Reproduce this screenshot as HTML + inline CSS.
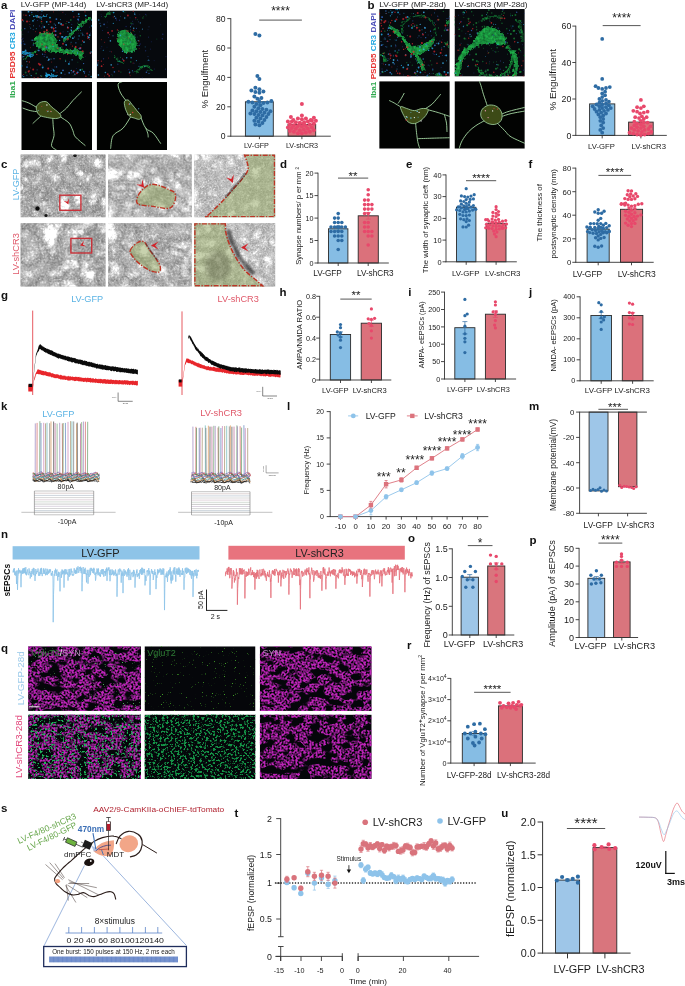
<!DOCTYPE html>
<html><head><meta charset="utf-8"><title>Figure</title>
<style>
html,body{margin:0;padding:0;background:#fff;}
svg{display:block;font-family:"Liberation Sans",sans-serif;}
</style></head><body>
<svg width="685" height="986" viewBox="0 0 685 986">
<defs>
<filter id="blur04" x="-0.05" y="-0.05" width="1.1" height="1.1"><feGaussianBlur stdDeviation="0.35"/></filter>
<filter id="blur06" x="-0.05" y="-0.05" width="1.1" height="1.1"><feGaussianBlur stdDeviation="0.6"/></filter>
<filter id="blur2" x="-0.3" y="-0.3" width="1.6" height="1.6"><feGaussianBlur stdDeviation="2.5"/></filter>
<filter id="blur1" x="-0.3" y="-0.3" width="1.6" height="1.6"><feGaussianBlur stdDeviation="1.1"/></filter>
<filter id="cellTex" x="-0.1" y="-0.1" width="1.2" height="1.2" color-interpolation-filters="sRGB">
<feTurbulence type="fractalNoise" baseFrequency="0.35" numOctaves="2" seed="3" result="n"/>
<feDisplacementMap in="SourceGraphic" in2="n" scale="5" xChannelSelector="R" yChannelSelector="G" result="d"/>
<feColorMatrix in="n" type="matrix" values="0 0 0 0 0  0 0 0 0 0  0 0 0 0 0  1.8 0 0 0 -0.35" result="m"/>
<feComposite in="d" in2="m" operator="in" result="t"/>
<feGaussianBlur in="d" stdDeviation="0.5" result="db"/>
<feComponentTransfer in="db" result="dim"><feFuncA type="linear" slope="0.55"/></feComponentTransfer>
<feMerge><feMergeNode in="dim"/><feMergeNode in="t"/></feMerge>
</filter><filter id="em1" x="0" y="0" width="1" height="1" color-interpolation-filters="sRGB">
<feTurbulence type="turbulence" baseFrequency="0.07" numOctaves="4" seed="5" result="a"/>
<feTurbulence type="fractalNoise" baseFrequency="0.55" numOctaves="2" seed="3" result="b"/>
<feComposite in="a" in2="b" operator="arithmetic" k1="0" k2="1.4" k3="0.55" k4="0.4" result="c"/>
<feColorMatrix in="c" type="matrix" values="1 0 0 0 0  1 0 0 0 0  1 0 0 0 0  0 0 0 0 1"/>
<feGaussianBlur stdDeviation="0.3"/></filter><filter id="em2" x="0" y="0" width="1" height="1" color-interpolation-filters="sRGB">
<feTurbulence type="turbulence" baseFrequency="0.05" numOctaves="4" seed="9" result="a"/>
<feTurbulence type="fractalNoise" baseFrequency="0.5" numOctaves="2" seed="4" result="b"/>
<feComposite in="a" in2="b" operator="arithmetic" k1="0" k2="1.7" k3="0.6" k4="0.38" result="c"/>
<feColorMatrix in="c" type="matrix" values="1 0 0 0 0  1 0 0 0 0  1 0 0 0 0  0 0 0 0 1"/>
<feGaussianBlur stdDeviation="0.3"/></filter><filter id="em3" x="0" y="0" width="1" height="1" color-interpolation-filters="sRGB">
<feTurbulence type="turbulence" baseFrequency="0.06" numOctaves="4" seed="14" result="a"/>
<feTurbulence type="fractalNoise" baseFrequency="0.5" numOctaves="2" seed="6" result="b"/>
<feComposite in="a" in2="b" operator="arithmetic" k1="0" k2="1.4" k3="0.5" k4="0.45" result="c"/>
<feColorMatrix in="c" type="matrix" values="1 0 0 0 0  1 0 0 0 0  1 0 0 0 0  0 0 0 0 1"/>
<feGaussianBlur stdDeviation="0.3"/></filter><filter id="em4" x="0" y="0" width="1" height="1" color-interpolation-filters="sRGB">
<feTurbulence type="turbulence" baseFrequency="0.05" numOctaves="4" seed="21" result="a"/>
<feTurbulence type="fractalNoise" baseFrequency="0.45" numOctaves="2" seed="7" result="b"/>
<feComposite in="a" in2="b" operator="arithmetic" k1="0" k2="1.6" k3="0.55" k4="0.42" result="c"/>
<feColorMatrix in="c" type="matrix" values="1 0 0 0 0  1 0 0 0 0  1 0 0 0 0  0 0 0 0 1"/>
<feGaussianBlur stdDeviation="0.3"/></filter><filter id="em5" x="0" y="0" width="1" height="1" color-interpolation-filters="sRGB">
<feTurbulence type="turbulence" baseFrequency="0.08" numOctaves="3" seed="33" result="a"/>
<feTurbulence type="fractalNoise" baseFrequency="0.6" numOctaves="2" seed="8" result="b"/>
<feComposite in="a" in2="b" operator="arithmetic" k1="0" k2="1.1" k3="0.5" k4="0.54" result="c"/>
<feColorMatrix in="c" type="matrix" values="1 0 0 0 0  1 0 0 0 0  1 0 0 0 0  0 0 0 0 1"/>
<feGaussianBlur stdDeviation="0.3"/></filter><filter id="em6" x="0" y="0" width="1" height="1" color-interpolation-filters="sRGB">
<feTurbulence type="turbulence" baseFrequency="0.08" numOctaves="3" seed="41" result="a"/>
<feTurbulence type="fractalNoise" baseFrequency="0.6" numOctaves="2" seed="9" result="b"/>
<feComposite in="a" in2="b" operator="arithmetic" k1="0" k2="1.2" k3="0.5" k4="0.52" result="c"/>
<feColorMatrix in="c" type="matrix" values="1 0 0 0 0  1 0 0 0 0  1 0 0 0 0  0 0 0 0 1"/>
<feGaussianBlur stdDeviation="0.3"/></filter><filter id="qm1" x="0" y="0" width="1" height="1" color-interpolation-filters="sRGB">
<feTurbulence type="fractalNoise" baseFrequency="0.08 0.13" numOctaves="2" seed="3" result="a"/>
<feColorMatrix in="a" type="matrix" values="0 0 0 0 0.74  0 0 0 0 0.14  0 0 0 0 0.72  9 0 0 0 -3.45" result="am"/>
<feTurbulence type="fractalNoise" baseFrequency="0.5" numOctaves="2" seed="7" result="b"/>
<feColorMatrix in="b" type="matrix" values="0 0 0 0 0.74  0 0 0 0 0.14  0 0 0 0 0.72  4.0 0 0 0 -1.4" result="bm"/>
<feComposite in="bm" in2="am" operator="in"/>
<feGaussianBlur stdDeviation="0.45"/>
</filter><filter id="qm2" x="0" y="0" width="1" height="1" color-interpolation-filters="sRGB">
<feTurbulence type="fractalNoise" baseFrequency="0.09 0.12" numOctaves="2" seed="11" result="a"/>
<feColorMatrix in="a" type="matrix" values="0 0 0 0 0.74  0 0 0 0 0.14  0 0 0 0 0.72  9 0 0 0 -3.45" result="am"/>
<feTurbulence type="fractalNoise" baseFrequency="0.5" numOctaves="2" seed="17" result="b"/>
<feColorMatrix in="b" type="matrix" values="0 0 0 0 0.74  0 0 0 0 0.14  0 0 0 0 0.72  4.0 0 0 0 -1.45" result="bm"/>
<feComposite in="bm" in2="am" operator="in"/>
<feGaussianBlur stdDeviation="0.45"/>
</filter><filter id="qg1" x="0" y="0" width="1" height="1" color-interpolation-filters="sRGB">
<feTurbulence type="fractalNoise" baseFrequency="0.9" numOctaves="2" seed="5" result="n"/>
<feColorMatrix in="n" type="matrix" values="0 0 0 0 0.25  0 0 0 0 0.62  0 0 0 0 0.15  9 0 0 0 -6.4"/>
<feGaussianBlur stdDeviation="0.4"/>
</filter><filter id="qg2" x="0" y="0" width="1" height="1" color-interpolation-filters="sRGB">
<feTurbulence type="fractalNoise" baseFrequency="0.45" numOctaves="3" seed="8" result="n"/>
<feColorMatrix in="n" type="matrix" values="0 0 0 0 0.08  0 0 0 0 0.58  0 0 0 0 0.28  8 0 0 0 -4.15"/>
<feGaussianBlur stdDeviation="0.4"/>
</filter><filter id="qg1b" x="0" y="0" width="1" height="1" color-interpolation-filters="sRGB">
<feTurbulence type="fractalNoise" baseFrequency="0.9" numOctaves="2" seed="5" result="n"/>
<feColorMatrix in="n" type="matrix" values="0 0 0 0 0.3  0 0 0 0 0.7  0 0 0 0 0.35  9 0 0 0 -6.4"/>
<feGaussianBlur stdDeviation="0.4"/>
</filter><filter id="qg2b" x="0" y="0" width="1" height="1" color-interpolation-filters="sRGB">
<feTurbulence type="fractalNoise" baseFrequency="0.45" numOctaves="3" seed="8" result="n"/>
<feColorMatrix in="n" type="matrix" values="0 0 0 0 0.12  0 0 0 0 0.7  0 0 0 0 0.35  9 0 0 0 -5.2"/>
<feGaussianBlur stdDeviation="0.4"/>
</filter>
</defs>
<rect x="0" y="0" width="685" height="986" fill="#fff"/>
<clipPath id="mc1"><rect x="21.3" y="10.4" width="70.7" height="68.0"/></clipPath>
<g clip-path="url(#mc1)">
<rect x="21.3" y="10.4" width="70.7" height="68.0" fill="#06090d" />
<g filter="url(#cellTex)">
<path d="M33.9,40.2 C34.5,37.9 37.5,34.5 40.2,33.2 C42.9,31.8 47.7,31.4 50.3,32.2 C52.8,32.9 54.6,35.6 55.8,37.7 C57.0,39.8 56.1,43.0 57.3,44.7 C58.5,46.5 62.3,46.9 62.8,48.2 C63.3,49.6 61.9,52.2 60.3,52.8 C58.7,53.4 56.0,52.2 53.3,51.8 C50.5,51.3 46.7,51.1 44.0,50.3 C41.2,49.4 38.6,48.4 36.9,46.7 C35.3,45.1 33.4,42.5 33.9,40.2Z" fill="#1FB44A"/>
<path d="M56.5,47.7 C58.0,48.4 62.4,50.8 65.3,51.5 C68.3,52.3 71.4,52.0 74.1,52.3 C76.8,52.6 80.4,53.1 81.7,53.3" stroke="#1FB44A" stroke-width="4.2" fill="none" stroke-linecap="round"/>
<path d="M75.4,50.3 C76.1,50.9 79.0,52.8 79.9,54.0 C80.8,55.2 80.7,56.7 80.9,57.3" stroke="#1FB44A" stroke-width="4" fill="none" stroke-linecap="round" opacity=".85"/>
<path d="M62.8,41.5 C64.5,40.0 69.9,35.4 72.9,32.7 C75.8,29.9 77.5,27.6 80.4,25.1 C83.3,22.6 88.8,18.8 90.5,17.6" stroke="#1FB44A" stroke-width="2.6" fill="none" opacity=".9"/>
<path d="M37.7,50.3 C36.4,51.1 32.5,53.8 30.2,55.3 C27.8,56.7 24.9,58.4 23.9,59.0" stroke="#1FB44A" stroke-width="1.6" fill="none" opacity=".7"/>
<path d="M21.4,52.3 C22.2,52.4 24.5,52.7 26.4,53.3 C28.3,53.9 31.6,55.4 32.7,55.8" stroke="#1FA6E0" stroke-width="3" fill="none"/>
<path d="M45.2,74.9 C46.3,75.0 49.4,75.1 51.5,75.4 C53.6,75.7 56.7,76.4 57.8,76.6" stroke="#1FA6E0" stroke-width="2.6" fill="none"/>
<path d="M35.2,15.6 C36.2,15.9 39.6,17.6 41.5,17.6 C43.3,17.6 45.6,15.9 46.5,15.6" stroke="#1FA6E0" stroke-width="1.8" fill="none" opacity=".8"/>
</g><g filter="url(#blur04)">
<path d="M30.5,68.0h0M77.0,16.4h0M51.7,62.1h0M87.7,36.1h0M75.0,75.1h0M57.0,72.3h0M62.8,12.4h0M60.1,22.4h0M40.1,64.5h0M43.2,33.5h0M29.9,24.5h0M47.8,33.7h0M84.9,11.2h0M78.6,48.5h0M51.5,28.2h0M30.6,47.7h0M61.5,25.3h0M53.5,29.0h0M21.9,55.9h0M42.8,26.9h0M27.3,61.5h0" stroke="#C8242C" stroke-width="0.80" stroke-linecap="round" fill="none" opacity="0.75"/>
<path d="M29.4,62.0h0M72.5,46.1h0M41.2,76.6h0M87.8,38.3h0M67.6,54.3h0M36.8,54.4h0M42.0,44.2h0M73.8,17.0h0" stroke="#C8242C" stroke-width="1.40" stroke-linecap="round" fill="none" opacity="0.75"/>
<path d="M39.9,64.8h0M60.3,33.6h0M80.5,48.1h0M75.7,46.9h0M53.6,28.4h0M48.2,68.6h0M55.2,34.9h0M28.7,71.5h0M22.3,20.0h0M33.2,69.4h0M27.0,21.6h0M46.9,30.2h0M68.0,27.7h0M38.5,16.9h0" stroke="#E0282E" stroke-width="2.00" stroke-linecap="round" fill="none" opacity="0.75"/>
<path d="M85.0,12.1h0M27.1,55.4h0M66.9,21.5h0M53.5,11.9h0M23.3,74.5h0M70.9,44.0h0M89.6,39.5h0M50.5,27.3h0M75.5,46.4h0M23.8,15.0h0M29.2,70.5h0M29.2,21.4h0M35.7,31.7h0M52.9,31.4h0" stroke="#E0282E" stroke-width="0.80" stroke-linecap="round" fill="none" opacity="0.75"/>
<path d="M34.2,77.9h0M58.0,36.9h0M57.8,48.4h0M82.6,41.0h0M41.6,21.5h0M52.6,44.6h0M26.0,15.2h0M47.1,33.3h0M45.2,52.1h0M38.0,77.6h0M60.1,58.7h0M85.9,76.3h0M87.8,36.7h0" stroke="#E0282E" stroke-width="1.40" stroke-linecap="round" fill="none" opacity="0.75"/>
<path d="M73.8,71.3h0M50.4,21.8h0M54.3,31.1h0M49.7,33.5h0M45.6,46.8h0M90.4,53.1h0M67.8,39.2h0M62.9,24.9h0M63.0,43.7h0M87.2,33.5h0M40.0,32.7h0M82.6,51.3h0M76.9,73.3h0M38.8,63.7h0M44.2,31.7h0" stroke="#C8242C" stroke-width="2.00" stroke-linecap="round" fill="none" opacity="0.75"/>
<path d="M88.9,74.8h0M30.7,28.2h0M51.0,59.0h0M26.9,75.3h0M70.1,36.4h0M71.1,42.3h0M67.9,31.6h0M38.1,16.8h0M22.4,56.9h0M26.4,61.6h0M48.8,24.5h0M80.4,30.3h0M72.8,51.5h0M36.3,28.7h0M34.2,19.6h0" stroke="#25A7E0" stroke-width="0.80" stroke-linecap="round" fill="none" opacity="0.85"/>
<path d="M27.0,67.1h0M80.0,48.5h0M55.7,35.1h0M55.7,31.1h0M38.8,50.4h0M63.0,70.3h0M69.2,72.8h0M77.7,72.3h0M49.7,78.1h0M46.6,47.5h0M78.1,19.4h0M21.2,43.2h0M56.4,19.1h0" stroke="#3575D0" stroke-width="1.80" stroke-linecap="round" fill="none" opacity="0.85"/>
<path d="M81.6,27.2h0M51.1,70.5h0M37.1,69.9h0M78.7,20.7h0M52.8,69.8h0M64.0,38.7h0M69.6,62.0h0M78.2,39.1h0M22.4,75.7h0M64.9,42.2h0M33.2,29.6h0M31.3,40.2h0M66.6,45.4h0M37.5,41.3h0M40.7,75.5h0" stroke="#3575D0" stroke-width="0.80" stroke-linecap="round" fill="none" opacity="0.85"/>
<path d="M23.5,56.6h0M33.3,44.9h0M73.1,72.0h0M56.6,66.9h0M55.5,25.2h0M75.9,42.8h0M83.6,63.6h0M25.2,54.7h0M31.8,12.5h0M73.5,71.7h0M21.4,11.7h0M29.6,15.5h0M55.7,27.7h0M48.2,60.4h0M24.8,28.7h0M54.0,58.7h0M24.8,44.2h0M42.6,54.2h0M84.5,73.0h0" stroke="#3575D0" stroke-width="1.30" stroke-linecap="round" fill="none" opacity="0.85"/>
<path d="M48.9,59.5h0M88.8,37.4h0M61.3,73.0h0M80.3,70.0h0M62.5,36.9h0M28.5,11.7h0M78.7,14.1h0M77.7,28.4h0M44.3,27.0h0M72.9,38.2h0M58.8,22.9h0M25.6,50.5h0M41.9,10.7h0M89.7,35.1h0M61.1,24.0h0M84.0,42.1h0" stroke="#3AA8E0" stroke-width="1.80" stroke-linecap="round" fill="none" opacity="0.85"/>
<path d="M59.6,40.4h0M46.1,77.1h0M72.8,11.4h0M91.6,25.9h0M53.2,46.6h0M61.6,36.8h0M71.1,29.9h0M79.1,16.6h0M91.8,20.0h0M23.7,76.6h0M91.1,76.3h0M33.6,16.5h0M53.6,70.0h0M91.1,52.0h0M77.6,53.0h0M79.1,35.9h0" stroke="#25A7E0" stroke-width="1.30" stroke-linecap="round" fill="none" opacity="0.85"/>
<path d="M82.8,34.9h0M68.9,22.4h0M67.5,27.1h0M83.7,71.5h0M65.6,61.1h0M31.2,75.6h0M71.4,27.6h0M33.9,16.4h0M47.0,57.2h0M72.1,59.8h0M71.3,70.5h0M74.9,74.2h0M71.5,30.7h0M43.6,15.3h0M32.8,40.2h0" stroke="#3AA8E0" stroke-width="1.30" stroke-linecap="round" fill="none" opacity="0.85"/>
<path d="M33.6,25.8h0M60.6,19.6h0M23.4,21.0h0M58.4,10.3h0M74.5,37.0h0M90.4,53.4h0M48.7,48.1h0M73.8,50.1h0M54.2,24.0h0" stroke="#3AA8E0" stroke-width="0.80" stroke-linecap="round" fill="none" opacity="0.85"/>
<path d="M64.7,37.8h0M21.6,65.8h0M46.7,21.8h0M66.1,44.8h0M50.0,17.6h0M42.7,67.5h0M53.9,70.8h0M33.0,20.8h0M85.7,15.6h0M51.8,27.4h0M68.9,63.9h0M66.0,36.8h0" stroke="#25A7E0" stroke-width="1.80" stroke-linecap="round" fill="none" opacity="0.85"/>
<path d="M37.9,47.2h0M71.7,73.0h0M23.5,43.9h0M76.3,68.5h0M84.7,35.8h0M52.1,27.7h0M25.3,52.9h0M89.4,27.2h0M41.7,64.3h0M45.6,38.5h0" stroke="#253080" stroke-width="1.00" stroke-linecap="round" fill="none" opacity="0.60"/>
<path d="M65.4,14.5h0M85.2,56.6h0M91.4,55.9h0M24.1,52.0h0M63.6,12.1h0M51.6,59.3h0M78.2,33.6h0M59.6,70.9h0M21.9,61.0h0" stroke="#253080" stroke-width="0.60" stroke-linecap="round" fill="none" opacity="0.60"/>
<path d="M39.4,26.0h0M37.5,20.4h0M79.5,28.4h0M71.7,24.4h0M41.2,14.3h0M65.0,74.3h0M21.8,38.4h0M69.2,34.1h0M43.2,35.3h0M44.9,54.5h0M54.9,66.9h0M23.3,41.2h0M38.0,11.4h0" stroke="#253080" stroke-width="1.40" stroke-linecap="round" fill="none" opacity="0.60"/>
<path d="M59.4,47.6h0M74.8,50.4h0M89.5,19.2h0M61.8,46.5h0M27.3,64.8h0M22.4,39.2h0M72.0,32.6h0M90.6,33.2h0M63.1,31.9h0M43.0,25.2h0M28.2,32.0h0" stroke="#2A3F9A" stroke-width="1.00" stroke-linecap="round" fill="none" opacity="0.60"/>
<path d="M73.6,55.9h0M91.9,31.2h0M73.4,11.5h0M42.3,35.8h0M52.1,68.5h0M40.2,63.8h0M23.5,38.3h0M29.5,26.7h0" stroke="#2A3F9A" stroke-width="0.60" stroke-linecap="round" fill="none" opacity="0.60"/>
<path d="M89.5,71.9h0M41.7,28.0h0M66.7,50.7h0M22.4,52.1h0M44.3,56.4h0M43.4,67.2h0M82.3,33.3h0M60.7,77.4h0M84.7,71.5h0" stroke="#2A3F9A" stroke-width="1.40" stroke-linecap="round" fill="none" opacity="0.60"/>
<path d="M37.8,17.1h0M32.0,14.5h0M77.8,23.2h0M65.5,60.1h0M81.0,33.1h0M81.2,44.8h0M24.3,52.8h0M66.0,23.6h0M80.6,58.4h0M29.7,73.9h0M41.8,23.1h0" stroke="#158A3A" stroke-width="1.30" stroke-linecap="round" fill="none" opacity="0.60"/>
<path d="M77.8,62.3h0M40.6,21.8h0M33.6,42.4h0M63.5,39.5h0M42.7,65.6h0M22.8,34.4h0M73.2,75.7h0" stroke="#158A3A" stroke-width="0.80" stroke-linecap="round" fill="none" opacity="0.60"/>
<path d="M36.2,73.4h0M21.5,30.0h0M70.8,19.9h0M25.7,72.5h0M40.6,34.3h0M41.5,76.1h0M82.2,69.5h0" stroke="#158A3A" stroke-width="1.80" stroke-linecap="round" fill="none" opacity="0.60"/>
</g>
</g>
<clipPath id="mc2"><rect x="96.7" y="10.4" width="70.3" height="68.0"/></clipPath>
<g clip-path="url(#mc2)">
<rect x="96.7" y="10.4" width="70.3" height="68.0" fill="#06090d" />
<g filter="url(#cellTex)">
<ellipse cx="126.9" cy="41.5" rx="9" ry="12.5" fill="#1FB44A" transform="rotate(-28 126.9 41.5)"/>
<path d="M135.7,72.9 C136.5,72.0 138.8,69.0 140.7,67.8 C142.6,66.7 145.3,65.4 147.0,65.8 C148.7,66.2 150.1,69.6 150.8,70.4" stroke="#18923E" stroke-width="2" fill="none" opacity=".8"/>
<path d="M104.3,18.8 C104.7,18.2 105.7,16.1 106.8,15.1 C107.8,14.0 109.9,13.0 110.6,12.6" stroke="#18923E" stroke-width="1.6" fill="none" opacity=".8"/>
<path d="M114.3,56.5 C114.9,57.2 116.6,59.3 118.1,60.3 C119.6,61.3 122.3,62.4 123.1,62.8" stroke="#18923E" stroke-width="1.4" fill="none" opacity=".7"/>
</g><g filter="url(#blur04)">
<path d="M123.7,60.7h0M109.2,75.8h0M108.1,32.7h0M101.6,66.2h0" stroke="#E0282E" stroke-width="1.80" stroke-linecap="round" fill="none" opacity="0.75"/>
<path d="M133.1,63.1h0M113.2,17.0h0M102.2,10.1h0M130.2,75.7h0M109.6,34.7h0M104.7,42.3h0M127.3,52.7h0M98.3,74.7h0M126.4,30.9h0M116.4,38.8h0M131.4,32.9h0M101.3,39.7h0" stroke="#E0282E" stroke-width="0.80" stroke-linecap="round" fill="none" opacity="0.75"/>
<path d="M135.7,17.7h0M113.0,67.5h0M127.9,31.2h0M133.3,30.2h0M117.4,29.9h0M123.8,44.2h0" stroke="#E0282E" stroke-width="1.30" stroke-linecap="round" fill="none" opacity="0.75"/>
<path d="M128.4,37.9h0M103.6,64.5h0M104.6,76.2h0M122.5,58.4h0M111.5,51.8h0M108.6,58.1h0M139.2,48.6h0" stroke="#C8242C" stroke-width="0.80" stroke-linecap="round" fill="none" opacity="0.75"/>
<path d="M112.1,30.9h0M107.8,74.2h0M127.9,15.5h0" stroke="#C8242C" stroke-width="1.80" stroke-linecap="round" fill="none" opacity="0.75"/>
<path d="M133.3,11.2h0M129.4,73.6h0M118.9,71.1h0M101.4,61.2h0M98.1,60.7h0M139.0,41.0h0" stroke="#C8242C" stroke-width="1.30" stroke-linecap="round" fill="none" opacity="0.75"/>
<path d="M139.0,66.2h0M114.6,16.4h0M144.8,66.6h0M130.5,26.8h0M113.0,35.8h0M132.4,70.8h0M139.1,45.3h0M122.9,59.3h0M100.7,25.9h0M134.8,13.1h0M140.3,22.9h0M138.2,40.6h0M134.7,14.4h0M142.4,29.1h0M136.4,60.6h0" stroke="#3AA0D8" stroke-width="1.10" stroke-linecap="round" fill="none" opacity="0.80"/>
<path d="M98.7,20.0h0M111.2,64.9h0M126.7,57.8h0M124.7,18.0h0M110.4,40.9h0M122.6,51.2h0M105.4,72.5h0M133.7,28.2h0M97.5,65.1h0M129.6,72.3h0" stroke="#3AA0D8" stroke-width="1.60" stroke-linecap="round" fill="none" opacity="0.80"/>
<path d="M148.2,60.3h0M113.3,23.4h0M119.2,61.0h0M103.3,50.3h0" stroke="#25A7E0" stroke-width="1.10" stroke-linecap="round" fill="none" opacity="0.80"/>
<path d="M145.2,46.9h0M103.5,78.4h0M134.3,38.0h0M126.5,52.7h0M126.1,52.2h0" stroke="#25A7E0" stroke-width="0.60" stroke-linecap="round" fill="none" opacity="0.80"/>
<path d="M132.0,51.7h0M148.7,59.9h0" stroke="#3AA0D8" stroke-width="0.60" stroke-linecap="round" fill="none" opacity="0.80"/>
<path d="M120.4,16.4h0M130.5,29.9h0M97.4,63.2h0M149.0,26.8h0M138.5,21.8h0M98.3,62.9h0M148.0,56.6h0M135.3,14.7h0M111.9,74.3h0M110.0,51.4h0" stroke="#3565C0" stroke-width="0.60" stroke-linecap="round" fill="none" opacity="0.80"/>
<path d="M146.4,72.2h0M115.7,18.2h0M104.1,24.4h0M114.4,71.9h0" stroke="#3565C0" stroke-width="1.60" stroke-linecap="round" fill="none" opacity="0.80"/>
<path d="M131.1,57.7h0M113.7,12.6h0M123.3,11.4h0M120.4,35.4h0M98.4,75.1h0" stroke="#25A7E0" stroke-width="1.60" stroke-linecap="round" fill="none" opacity="0.80"/>
<path d="M136.5,28.2h0M149.0,73.4h0M130.5,42.0h0M135.0,34.8h0M100.0,23.2h0" stroke="#3565C0" stroke-width="1.10" stroke-linecap="round" fill="none" opacity="0.80"/>
<path d="M119.5,20.3h0M134.7,49.1h0M103.5,58.7h0M117.8,64.3h0M162.3,38.8h0M162.8,34.3h0" stroke="#2A3F9A" stroke-width="1.40" stroke-linecap="round" fill="none" opacity="0.60"/>
<path d="M101.8,46.7h0M135.8,19.1h0M132.7,21.3h0M147.1,70.7h0M131.4,24.9h0M148.6,37.2h0M108.4,37.5h0M166.0,56.7h0M149.4,60.6h0M133.1,72.1h0M134.1,63.3h0" stroke="#2A3F9A" stroke-width="1.00" stroke-linecap="round" fill="none" opacity="0.60"/>
<path d="M160.7,24.7h0M103.9,49.1h0M97.5,66.8h0M101.1,14.6h0M96.7,20.3h0M139.8,14.8h0M107.0,47.2h0" stroke="#253080" stroke-width="0.60" stroke-linecap="round" fill="none" opacity="0.60"/>
<path d="M126.1,26.5h0M140.2,44.0h0M145.6,50.7h0M145.7,14.4h0M116.5,20.0h0M128.8,69.6h0M133.0,24.0h0M165.5,69.1h0" stroke="#253080" stroke-width="1.40" stroke-linecap="round" fill="none" opacity="0.60"/>
<path d="M100.9,48.7h0M137.3,37.1h0M148.0,29.7h0M107.3,22.1h0M139.6,31.8h0M108.1,33.3h0M130.5,31.3h0M139.8,63.9h0M154.2,60.6h0" stroke="#2A3F9A" stroke-width="0.60" stroke-linecap="round" fill="none" opacity="0.60"/>
<path d="M151.3,41.8h0M102.5,30.5h0M150.4,49.2h0M101.5,16.4h0M142.2,77.9h0M154.3,69.1h0M124.7,37.0h0M107.1,27.3h0M130.0,17.9h0" stroke="#253080" stroke-width="1.00" stroke-linecap="round" fill="none" opacity="0.60"/>
<path d="M112.6,75.8h0M146.2,15.8h0M143.3,16.6h0M137.6,19.7h0M156.8,39.1h0M132.1,23.5h0M133.9,44.9h0" stroke="#158A3A" stroke-width="0.80" stroke-linecap="round" fill="none" opacity="0.60"/>
<path d="M124.9,12.1h0M124.2,49.2h0M133.3,42.4h0M120.5,57.3h0M147.9,70.3h0M134.1,31.5h0M120.9,72.1h0M112.2,12.3h0M117.7,58.2h0" stroke="#158A3A" stroke-width="1.20" stroke-linecap="round" fill="none" opacity="0.60"/>
<path d="M130.8,61.9h0M140.3,35.8h0M131.1,23.3h0M142.9,18.0h0" stroke="#158A3A" stroke-width="1.60" stroke-linecap="round" fill="none" opacity="0.60"/>
</g>
</g>
<clipPath id="mc3"><rect x="21.3" y="82.0" width="70.7" height="68.0"/></clipPath>
<g clip-path="url(#mc3)">
<rect x="21.3" y="82.0" width="70.7" height="68.0" fill="#020302" />
<path d="M37.7,108.0 C36.2,107.2 31.6,104.3 28.9,103.0 C26.2,101.8 22.6,100.9 21.4,100.5" stroke="#A6D8A4" stroke-width="0.9" fill="none"/>
<path d="M37.7,111.8 C36.4,111.6 32.7,111.2 30.2,110.6 C27.6,109.9 23.9,108.5 22.6,108.0" stroke="#A6D8A4" stroke-width="0.9" fill="none"/>
<path d="M41.5,115.6 C40.6,116.3 37.9,118.8 36.4,120.1 C35.0,121.4 33.3,123.0 32.7,123.6" stroke="#A6D8A4" stroke-width="0.9" fill="none"/>
<path d="M59.0,114.3 C60.3,113.3 64.3,110.3 66.6,108.0 C68.9,105.7 70.4,103.2 72.9,100.5 C75.4,97.8 80.2,93.2 81.7,91.7" stroke="#A6D8A4" stroke-width="0.9" fill="none"/>
<path d="M60.3,116.8 C61.8,117.9 67.0,120.8 69.1,123.1 C71.2,125.4 71.8,128.4 72.9,130.7 C73.9,133.0 73.3,134.4 75.4,136.9 C77.5,139.4 83.8,144.3 85.4,145.7" stroke="#A6D8A4" stroke-width="0.9" fill="none"/>
<path d="M52.8,118.1 C52.8,119.6 53.1,124.0 53.3,126.9 C53.5,129.8 54.3,132.5 54.0,135.7 C53.7,138.8 51.1,143.3 51.5,145.7 C51.9,148.1 55.7,149.3 56.5,150.0" stroke="#A6D8A4" stroke-width="0.9" fill="none"/>
<path d="M36.4,106.8 C36.9,105.2 38.5,103.4 40.2,102.5 C41.9,101.7 44.6,101.0 46.5,101.8 C48.4,102.5 49.4,104.9 51.5,106.8 C53.6,108.7 57.5,111.4 59.0,113.1 C60.6,114.7 61.4,115.9 60.8,116.8 C60.2,117.8 57.5,118.5 55.3,118.6 C53.1,118.7 50.3,118.1 47.7,117.6 C45.2,117.1 42.0,116.5 40.2,115.6 C38.4,114.6 37.8,113.3 37.2,111.8 C36.6,110.3 35.9,108.3 36.4,106.8Z" fill="#3C4A16" stroke="#A6D8A4" stroke-width="0.8"/>
<path d="M47.0,110.8h0M50.7,111.3h0" stroke="#E03A3A" stroke-width="1.10" stroke-linecap="round" fill="none" opacity="0.95"/>
<path d="M48.2,111.2h0M51.1,111.6h0" stroke="#F0F0F0" stroke-width="0.80" stroke-linecap="round" fill="none" opacity="0.95"/>
<path d="M47.5,111.6h0M38.3,110.4h0" stroke="#6CC6F0" stroke-width="0.80" stroke-linecap="round" fill="none" opacity="0.95"/>
<path d="M46.9,105.0h0" stroke="#F0F0F0" stroke-width="1.40" stroke-linecap="round" fill="none" opacity="0.95"/>
<path d="M41.8,106.4h0" stroke="#E03A3A" stroke-width="0.80" stroke-linecap="round" fill="none" opacity="0.95"/>
</g>
<clipPath id="mc4"><rect x="96.7" y="82.0" width="70.3" height="68.0"/></clipPath>
<g clip-path="url(#mc4)">
<rect x="96.7" y="82.0" width="70.3" height="68.0" fill="#020302" />
<path d="M126.9,101.8 C125.8,100.3 122.1,95.9 120.6,93.0 C119.1,90.0 117.8,86.1 118.1,84.2 C118.4,82.3 121.6,82.1 122.4,81.7" stroke="#A6D8A4" stroke-width="0.9" fill="none"/>
<path d="M130.7,116.8 C129.4,118.7 126.0,125.0 123.1,128.1 C120.2,131.3 115.2,132.2 113.1,135.7 C111.0,139.1 111.0,146.6 110.6,148.7" stroke="#A6D8A4" stroke-width="0.9" fill="none"/>
<path d="M140.7,116.8 C141.5,118.7 143.6,125.4 145.7,128.1 C147.8,130.9 150.8,130.6 153.3,133.2 C155.8,135.8 159.5,142.0 160.8,143.7" stroke="#A6D8A4" stroke-width="0.9" fill="none"/>
<path d="M145.7,128.1 C146.1,129.0 147.3,131.6 147.7,133.2 C148.2,134.7 148.2,136.7 148.2,137.4" stroke="#A6D8A4" stroke-width="0.9" fill="none"/>
<path d="M124.4,101.8 C124.8,100.2 126.9,99.6 128.1,100.0 C129.4,100.4 130.4,102.5 131.9,104.3 C133.4,106.0 135.4,108.6 136.9,110.6 C138.5,112.5 140.8,114.6 141.2,116.1 C141.6,117.5 140.6,119.0 139.4,119.3 C138.3,119.7 136.1,118.6 134.4,118.1 C132.7,117.5 130.9,117.5 129.4,116.1 C127.9,114.6 126.5,111.7 125.6,109.3 C124.8,106.9 124.0,103.3 124.4,101.8Z" fill="#3C4A16" stroke="#A6D8A4" stroke-width="0.8"/>
<path d="M132.7,112.5h0" stroke="#E03A3A" stroke-width="1.40" stroke-linecap="round" fill="none" opacity="0.95"/>
<path d="M128.7,104.1h0" stroke="#E03A3A" stroke-width="1.10" stroke-linecap="round" fill="none" opacity="0.95"/>
<path d="M130.3,114.5h0" stroke="#F0F0F0" stroke-width="1.40" stroke-linecap="round" fill="none" opacity="0.95"/>
<path d="M129.7,104.0h0" stroke="#6CC6F0" stroke-width="1.40" stroke-linecap="round" fill="none" opacity="0.95"/>
<path d="M138.7,108.8h0" stroke="#6CC6F0" stroke-width="1.10" stroke-linecap="round" fill="none" opacity="0.95"/>
<path d="M127.7,114.6h0" stroke="#F0F0F0" stroke-width="0.80" stroke-linecap="round" fill="none" opacity="0.95"/>
</g>
<text x="20.8" y="7.4" font-size="8" text-anchor="start" fill="#1a1a1a" textLength="65.5" lengthAdjust="spacingAndGlyphs" >LV-GFP (MP-14d)</text>
<text x="96.2" y="7.4" font-size="8" text-anchor="start" fill="#1a1a1a" textLength="72.0" lengthAdjust="spacingAndGlyphs" >LV-shCR3 (MP-14d)</text>
<text x="1.0" y="9.0" font-size="11.5" text-anchor="start" fill="#111" font-weight="bold" >a</text>
<text x="15.4" y="98.0" font-size="7.7" text-anchor="start" fill="#1a1a1a" font-weight="bold" transform="rotate(-90 15.4 98.0)" textLength="88.5" lengthAdjust="spacingAndGlyphs" ><tspan fill="#2DA84C">Iba1</tspan> <tspan fill="#E6302E">PSD95</tspan> <tspan fill="#22A7E0">CR3</tspan> <tspan fill="#4A4DB8">DAPI</tspan></text>
<rect x="245.4" y="101.8" width="27.9" height="34.4" fill="#86BDE4" stroke="#2a2a2a" stroke-width="0.9" />
<rect x="288.0" y="124.4" width="27.7" height="11.8" fill="#DB717B" stroke="#2a2a2a" stroke-width="0.9" />
<line x1="230.8" y1="18.2" x2="230.8" y2="136.6" stroke="#333" stroke-width="0.9" />
<line x1="230.4" y1="136.2" x2="330.8" y2="136.2" stroke="#333" stroke-width="0.9" />
<line x1="227.3" y1="136.2" x2="230.8" y2="136.2" stroke="#333" stroke-width="0.9" />
<text x="225.6" y="139.3" font-size="8.6" text-anchor="end" fill="#1a1a1a" >0</text>
<line x1="227.3" y1="106.8" x2="230.8" y2="106.8" stroke="#333" stroke-width="0.9" />
<text x="225.6" y="109.9" font-size="8.6" text-anchor="end" fill="#1a1a1a" >20</text>
<line x1="227.3" y1="77.4" x2="230.8" y2="77.4" stroke="#333" stroke-width="0.9" />
<text x="225.6" y="80.5" font-size="8.6" text-anchor="end" fill="#1a1a1a" >40</text>
<line x1="227.3" y1="48.0" x2="230.8" y2="48.0" stroke="#333" stroke-width="0.9" />
<text x="225.6" y="51.1" font-size="8.6" text-anchor="end" fill="#1a1a1a" >60</text>
<line x1="227.3" y1="18.6" x2="230.8" y2="18.6" stroke="#333" stroke-width="0.9" />
<text x="225.6" y="21.7" font-size="8.6" text-anchor="end" fill="#1a1a1a" >80</text>
<line x1="259.4" y1="136.2" x2="259.4" y2="139.2" stroke="#333" stroke-width="0.9" />
<line x1="259.4" y1="98.9" x2="259.4" y2="104.7" stroke="#2E6CA4" stroke-width="0.7" />
<line x1="256.9" y1="98.9" x2="261.9" y2="98.9" stroke="#2E6CA4" stroke-width="0.7" />
<line x1="256.9" y1="104.7" x2="261.9" y2="104.7" stroke="#2E6CA4" stroke-width="0.7" />
<circle cx="259.4" cy="125.2" r="2.0" fill="#2E6CA4" />
<circle cx="255.4" cy="124.4" r="2.0" fill="#2E6CA4" />
<circle cx="262.4" cy="123.0" r="2.0" fill="#2E6CA4" />
<circle cx="258.4" cy="121.5" r="2.0" fill="#2E6CA4" />
<circle cx="254.4" cy="120.8" r="2.0" fill="#2E6CA4" />
<circle cx="264.4" cy="120.0" r="2.0" fill="#2E6CA4" />
<circle cx="260.4" cy="118.6" r="2.0" fill="#2E6CA4" />
<circle cx="256.4" cy="117.8" r="2.0" fill="#2E6CA4" />
<circle cx="266.4" cy="117.1" r="2.0" fill="#2E6CA4" />
<circle cx="262.4" cy="115.6" r="2.0" fill="#2E6CA4" />
<circle cx="258.4" cy="114.9" r="2.0" fill="#2E6CA4" />
<circle cx="254.4" cy="114.1" r="2.0" fill="#2E6CA4" />
<circle cx="268.4" cy="114.1" r="2.0" fill="#2E6CA4" />
<circle cx="250.4" cy="113.4" r="2.0" fill="#2E6CA4" />
<circle cx="264.4" cy="112.7" r="2.0" fill="#2E6CA4" />
<circle cx="260.4" cy="111.9" r="2.0" fill="#2E6CA4" />
<circle cx="256.4" cy="111.2" r="2.0" fill="#2E6CA4" />
<circle cx="270.4" cy="111.2" r="2.0" fill="#2E6CA4" />
<circle cx="252.4" cy="110.5" r="2.0" fill="#2E6CA4" />
<circle cx="266.4" cy="109.7" r="2.0" fill="#2E6CA4" />
<circle cx="262.4" cy="109.0" r="2.0" fill="#2E6CA4" />
<circle cx="258.4" cy="108.3" r="2.0" fill="#2E6CA4" />
<circle cx="254.4" cy="106.8" r="2.0" fill="#2E6CA4" />
<circle cx="260.4" cy="105.3" r="2.0" fill="#2E6CA4" />
<circle cx="256.4" cy="103.9" r="2.0" fill="#2E6CA4" />
<circle cx="263.4" cy="103.1" r="2.0" fill="#2E6CA4" />
<circle cx="252.4" cy="102.4" r="2.0" fill="#2E6CA4" />
<circle cx="267.4" cy="102.4" r="2.0" fill="#2E6CA4" />
<circle cx="259.4" cy="101.7" r="2.0" fill="#2E6CA4" />
<circle cx="248.4" cy="101.7" r="2.0" fill="#2E6CA4" />
<circle cx="271.4" cy="100.9" r="2.0" fill="#2E6CA4" />
<circle cx="257.4" cy="98.7" r="2.0" fill="#2E6CA4" />
<circle cx="261.4" cy="98.0" r="2.0" fill="#2E6CA4" />
<circle cx="254.4" cy="96.5" r="2.0" fill="#2E6CA4" />
<circle cx="259.4" cy="92.8" r="2.0" fill="#2E6CA4" />
<circle cx="255.4" cy="92.1" r="2.0" fill="#2E6CA4" />
<circle cx="263.4" cy="91.4" r="2.0" fill="#2E6CA4" />
<circle cx="251.4" cy="90.6" r="2.0" fill="#2E6CA4" />
<circle cx="259.4" cy="89.2" r="2.0" fill="#2E6CA4" />
<circle cx="255.4" cy="87.7" r="2.0" fill="#2E6CA4" />
<circle cx="259.4" cy="78.9" r="2.0" fill="#2E6CA4" />
<circle cx="257.4" cy="75.9" r="2.0" fill="#2E6CA4" />
<circle cx="259.4" cy="35.5" r="2.0" fill="#2E6CA4" />
<circle cx="255.4" cy="34.0" r="2.0" fill="#2E6CA4" />
<line x1="301.9" y1="136.2" x2="301.9" y2="139.2" stroke="#333" stroke-width="0.9" />
<line x1="301.9" y1="123.5" x2="301.9" y2="125.4" stroke="#E8486B" stroke-width="0.7" />
<line x1="299.4" y1="123.5" x2="304.4" y2="123.5" stroke="#E8486B" stroke-width="0.7" />
<line x1="299.4" y1="125.4" x2="304.4" y2="125.4" stroke="#E8486B" stroke-width="0.7" />
<circle cx="301.9" cy="133.3" r="2.0" fill="#E8486B" />
<circle cx="297.9" cy="133.3" r="2.0" fill="#E8486B" />
<circle cx="305.9" cy="132.5" r="2.0" fill="#E8486B" />
<circle cx="293.9" cy="131.8" r="2.0" fill="#E8486B" />
<circle cx="309.9" cy="131.8" r="2.0" fill="#E8486B" />
<circle cx="289.9" cy="131.1" r="2.0" fill="#E8486B" />
<circle cx="299.9" cy="130.3" r="2.0" fill="#E8486B" />
<circle cx="313.9" cy="130.3" r="2.0" fill="#E8486B" />
<circle cx="303.9" cy="129.6" r="2.0" fill="#E8486B" />
<circle cx="295.9" cy="128.8" r="2.0" fill="#E8486B" />
<circle cx="307.9" cy="128.8" r="2.0" fill="#E8486B" />
<circle cx="291.9" cy="128.1" r="2.0" fill="#E8486B" />
<circle cx="311.9" cy="127.4" r="2.0" fill="#E8486B" />
<circle cx="287.9" cy="127.4" r="2.0" fill="#E8486B" />
<circle cx="301.9" cy="126.6" r="2.0" fill="#E8486B" />
<circle cx="297.9" cy="125.9" r="2.0" fill="#E8486B" />
<circle cx="305.9" cy="125.9" r="2.0" fill="#E8486B" />
<circle cx="293.9" cy="125.2" r="2.0" fill="#E8486B" />
<circle cx="309.9" cy="124.4" r="2.0" fill="#E8486B" />
<circle cx="289.9" cy="124.4" r="2.0" fill="#E8486B" />
<circle cx="313.9" cy="123.7" r="2.0" fill="#E8486B" />
<circle cx="303.9" cy="123.7" r="2.0" fill="#E8486B" />
<circle cx="299.9" cy="123.0" r="2.0" fill="#E8486B" />
<circle cx="299.8" cy="123.0" r="2.0" fill="#E8486B" />
<circle cx="295.9" cy="122.2" r="2.0" fill="#E8486B" />
<circle cx="304.1" cy="122.2" r="2.0" fill="#E8486B" />
<circle cx="307.9" cy="121.5" r="2.0" fill="#E8486B" />
<circle cx="291.9" cy="121.5" r="2.0" fill="#E8486B" />
<circle cx="287.9" cy="121.5" r="2.0" fill="#E8486B" />
<circle cx="311.9" cy="120.8" r="2.0" fill="#E8486B" />
<circle cx="315.9" cy="120.8" r="2.0" fill="#E8486B" />
<circle cx="293.4" cy="120.0" r="2.0" fill="#E8486B" />
<circle cx="310.8" cy="120.0" r="2.0" fill="#E8486B" />
<circle cx="301.9" cy="119.3" r="2.0" fill="#E8486B" />
<circle cx="305.9" cy="118.6" r="2.0" fill="#E8486B" />
<circle cx="297.9" cy="118.6" r="2.0" fill="#E8486B" />
<circle cx="313.9" cy="117.8" r="2.0" fill="#E8486B" />
<circle cx="290.9" cy="117.1" r="2.0" fill="#E8486B" />
<circle cx="301.9" cy="115.6" r="2.0" fill="#E8486B" />
<circle cx="301.9" cy="103.9" r="2.0" fill="#E8486B" />
<line x1="259.2" y1="20.1" x2="301.9" y2="20.1" stroke="#444" stroke-width="0.9" />
<text x="280.5" y="14.6" font-size="12" text-anchor="middle" fill="#222" >****</text>
<text x="256.4" y="148.2" font-size="7.2" text-anchor="middle" fill="#1a1a1a" >LV-GFP</text>
<text x="302.0" y="148.2" font-size="7.2" text-anchor="middle" fill="#1a1a1a" >LV-shCR3</text>
<text x="208.0" y="79.0" font-size="9.4" text-anchor="middle" fill="#1a1a1a" transform="rotate(-90 208.0 79.0)" >% Engulfment</text>
<clipPath id="mc5"><rect x="379.2" y="9.0" width="70.6" height="67.6"/></clipPath>
<g clip-path="url(#mc5)">
<rect x="379.2" y="9.0" width="70.6" height="67.6" fill="#070a0e" />
<g filter="url(#cellTex)">
<path d="M406.4,43.1 C407.4,42.3 411.4,45.8 414.1,45.9 C416.8,46.1 420.1,45.2 422.9,44.2 C425.6,43.2 428.4,40.9 430.5,39.8 C432.6,38.7 434.8,37.1 435.3,37.6 C435.9,38.2 435.1,41.1 433.8,43.1 C432.4,45.1 429.4,47.8 427.2,49.7 C425.0,51.5 422.9,53.2 420.7,54.0 C418.5,54.9 416.1,55.2 414.1,54.7 C412.1,54.2 409.9,52.7 408.6,50.8 C407.4,48.8 405.5,43.9 406.4,43.1Z" fill="#1FB44A"/>
<path d="M390.0,27.1 C391.1,27.9 394.4,29.6 396.6,31.5 C398.8,33.4 401.2,36.4 403.2,38.7 C405.2,41.0 407.7,44.2 408.6,45.3" stroke="#1FB44A" stroke-width="3" fill="none" stroke-linecap="round"/>
<path d="M416.3,54.0 C416.7,55.0 417.6,57.8 418.5,59.5 C419.4,61.2 421.0,62.7 421.8,64.3 C422.5,66.0 422.7,68.5 422.9,69.4" stroke="#1FB44A" stroke-width="3.2" fill="none" stroke-linecap="round"/>
<path d="M401.6,32.8 C402.0,31.3 402.3,26.0 403.8,23.4 C405.4,20.9 407.8,18.8 410.8,17.5 C413.8,16.2 418.3,15.1 421.8,15.8 C425.2,16.4 429.3,18.9 431.6,21.2 C433.9,23.6 434.7,27.3 435.3,30.0 C436.0,32.6 435.3,36.0 435.3,37.2" stroke="#168C3A" stroke-width="1.3" fill="none" opacity=".7"/>
<path d="M379.8,54.0 C380.4,54.4 382.5,55.0 383.5,56.2 C384.5,57.5 385.3,60.8 385.7,61.7" stroke="#17A040" stroke-width="2.4" fill="none" opacity=".8"/>
<path d="M447.6,20.1 C447.7,20.9 448.3,23.8 448.5,24.5" stroke="#17A040" stroke-width="2.4" fill="none" opacity=".8"/>
<path d="M446.3,42.0 C446.6,42.9 448.1,46.6 448.5,47.5" stroke="#17A040" stroke-width="2" fill="none" opacity=".7"/>
<path d="M432.7,73.7 C433.8,73.9 437.1,74.4 439.3,74.8 C441.5,75.3 444.7,76.3 445.8,76.6" stroke="#17A040" stroke-width="2" fill="none" opacity=".7"/>
</g><g filter="url(#blur04)">
<path d="M390.7,55.6h0M403.2,18.9h0M399.7,73.5h0M438.2,19.7h0M410.2,36.5h0M447.1,44.5h0M425.5,17.6h0M396.4,19.6h0M417.7,13.1h0M440.6,53.1h0M414.9,73.0h0M434.3,51.4h0M385.4,20.9h0M423.0,34.4h0M395.9,55.5h0" stroke="#C8242C" stroke-width="2.00" stroke-linecap="round" fill="none" opacity="0.75"/>
<path d="M413.0,23.6h0M381.4,31.2h0M389.7,54.0h0M387.7,41.2h0M401.6,41.7h0M403.6,49.4h0M441.7,42.2h0M381.5,25.8h0M432.0,41.4h0M381.0,23.3h0M420.3,66.4h0M435.1,9.5h0M397.0,56.1h0M437.0,63.3h0M383.6,53.5h0M412.4,43.7h0M395.0,12.3h0M381.7,20.7h0M390.5,22.7h0" stroke="#E0282E" stroke-width="1.40" stroke-linecap="round" fill="none" opacity="0.75"/>
<path d="M414.9,25.0h0M405.3,48.6h0M435.4,24.7h0M425.1,72.4h0M440.8,52.6h0M397.3,36.4h0M389.1,35.8h0M424.6,62.1h0M391.9,67.0h0" stroke="#E0282E" stroke-width="0.80" stroke-linecap="round" fill="none" opacity="0.75"/>
<path d="M410.0,76.3h0M390.4,58.2h0M391.8,20.5h0M383.1,28.5h0M441.6,49.7h0M396.5,56.6h0M411.4,25.0h0M396.4,71.0h0M397.5,73.3h0M390.2,35.5h0" stroke="#C8242C" stroke-width="1.40" stroke-linecap="round" fill="none" opacity="0.75"/>
<path d="M431.6,15.0h0M386.3,13.4h0M397.8,31.0h0M383.5,64.1h0M448.8,76.0h0" stroke="#C8242C" stroke-width="0.80" stroke-linecap="round" fill="none" opacity="0.75"/>
<path d="M384.3,22.3h0M379.2,13.7h0M419.6,30.5h0M405.6,55.2h0M407.9,75.9h0M445.5,25.6h0M416.9,27.7h0M406.1,17.5h0M407.1,69.0h0M421.9,43.1h0M407.3,47.3h0M447.7,30.0h0M413.6,51.7h0M422.6,64.8h0M393.6,31.7h0M446.1,74.4h0M411.7,54.0h0" stroke="#E0282E" stroke-width="2.00" stroke-linecap="round" fill="none" opacity="0.75"/>
<path d="M447.0,18.5h0M449.9,21.5h0M441.7,48.0h0M434.5,12.9h0M439.9,41.2h0M429.7,73.5h0M397.4,17.1h0M388.9,36.3h0M387.0,41.5h0M387.9,60.5h0M388.1,58.8h0M412.8,20.9h0M422.6,33.6h0" stroke="#3575D0" stroke-width="0.80" stroke-linecap="round" fill="none" opacity="0.85"/>
<path d="M425.3,32.4h0M397.7,37.5h0M393.3,55.9h0M403.9,13.3h0M428.9,50.1h0M382.9,44.5h0M416.4,60.9h0M427.2,9.2h0M388.9,12.3h0M399.3,9.7h0M390.0,39.6h0M434.2,23.1h0M422.0,29.8h0M446.6,60.8h0M390.8,10.3h0" stroke="#25A7E0" stroke-width="0.80" stroke-linecap="round" fill="none" opacity="0.85"/>
<path d="M398.1,12.4h0M420.4,72.4h0M392.1,12.3h0M432.4,48.3h0M407.6,16.9h0M381.7,34.5h0M444.5,71.9h0M403.3,67.4h0M426.3,44.6h0M418.6,67.5h0M446.3,55.4h0M447.9,72.7h0M412.0,27.9h0M395.2,21.1h0" stroke="#25A7E0" stroke-width="1.80" stroke-linecap="round" fill="none" opacity="0.85"/>
<path d="M445.2,55.3h0M408.8,26.0h0M394.3,63.9h0M414.8,72.4h0M385.6,64.6h0M419.0,62.5h0M410.9,57.4h0M424.7,27.3h0M414.6,26.2h0M430.5,31.2h0M385.9,11.0h0M425.7,37.7h0M397.5,60.2h0M398.9,50.1h0" stroke="#3575D0" stroke-width="1.30" stroke-linecap="round" fill="none" opacity="0.85"/>
<path d="M428.6,50.4h0M432.8,69.8h0M396.0,9.5h0M391.2,46.0h0M391.7,74.0h0M381.1,19.7h0M439.1,56.3h0M385.1,71.3h0M387.0,70.3h0M395.1,51.0h0M436.4,54.3h0M396.1,40.1h0M390.4,15.8h0M439.7,74.6h0M419.4,50.5h0M450.0,16.4h0M401.4,65.3h0" stroke="#25A7E0" stroke-width="1.30" stroke-linecap="round" fill="none" opacity="0.85"/>
<path d="M446.9,30.1h0M389.1,64.8h0M381.6,45.2h0M382.1,17.1h0M388.6,28.2h0M439.1,73.5h0M434.9,45.3h0M382.3,71.7h0M388.2,34.2h0M390.2,72.6h0" stroke="#3575D0" stroke-width="1.80" stroke-linecap="round" fill="none" opacity="0.85"/>
<path d="M441.6,35.9h0M419.0,35.9h0M385.4,39.0h0M402.3,33.1h0M391.6,14.2h0M413.6,13.6h0M397.0,69.1h0M395.6,45.1h0M392.4,27.8h0M437.0,74.8h0M407.8,68.1h0M386.0,13.5h0M387.4,30.3h0M405.8,54.6h0M436.3,43.4h0M384.2,39.0h0M381.0,41.5h0M386.8,47.0h0" stroke="#3AA8E0" stroke-width="0.80" stroke-linecap="round" fill="none" opacity="0.85"/>
<path d="M419.9,46.9h0M408.2,65.0h0M423.7,49.3h0M427.2,76.1h0M393.6,60.0h0M425.0,27.9h0M438.5,43.5h0M443.0,63.1h0M423.8,12.3h0M393.1,62.6h0M411.0,56.1h0M417.4,71.4h0" stroke="#3AA8E0" stroke-width="1.80" stroke-linecap="round" fill="none" opacity="0.85"/>
<path d="M382.5,55.6h0M423.2,59.0h0M390.3,28.2h0M388.4,54.1h0M444.1,46.6h0M420.2,24.4h0M397.5,9.6h0" stroke="#3AA8E0" stroke-width="1.30" stroke-linecap="round" fill="none" opacity="0.85"/>
<path d="M444.7,73.1h0M394.7,39.8h0M446.1,20.3h0M423.8,35.6h0M416.4,29.1h0M398.7,61.0h0M404.7,18.9h0M419.5,61.1h0" stroke="#2A3F9A" stroke-width="0.60" stroke-linecap="round" fill="none" opacity="0.60"/>
<path d="M421.0,37.6h0M384.8,37.8h0M445.7,28.0h0M386.7,69.8h0M380.7,73.7h0M434.2,54.5h0M382.0,69.0h0M432.7,68.7h0M431.4,35.8h0M445.2,28.9h0" stroke="#253080" stroke-width="1.40" stroke-linecap="round" fill="none" opacity="0.60"/>
<path d="M388.3,22.0h0M385.1,57.0h0M415.4,58.6h0M393.6,11.4h0M447.8,28.0h0M392.7,14.1h0M432.6,40.0h0M433.1,53.4h0M442.6,55.5h0M417.8,37.7h0M402.6,46.8h0M390.7,53.7h0M428.1,35.0h0M414.7,16.5h0M382.0,63.6h0" stroke="#2A3F9A" stroke-width="1.00" stroke-linecap="round" fill="none" opacity="0.60"/>
<path d="M423.1,74.6h0M436.8,21.0h0M403.6,74.9h0M395.7,46.9h0M449.2,27.4h0M432.0,73.5h0M441.2,67.4h0M399.7,30.6h0" stroke="#253080" stroke-width="1.00" stroke-linecap="round" fill="none" opacity="0.60"/>
<path d="M427.0,20.1h0M442.5,39.7h0M389.6,50.9h0M428.0,46.7h0M386.1,20.1h0M393.5,55.0h0M398.4,71.9h0M397.4,66.5h0" stroke="#253080" stroke-width="0.60" stroke-linecap="round" fill="none" opacity="0.60"/>
<path d="M426.8,44.2h0M395.9,45.9h0M427.8,74.8h0M417.2,75.8h0M385.5,46.6h0M428.2,65.1h0M437.7,16.3h0M413.1,55.6h0M399.8,14.3h0M381.9,17.1h0M449.0,18.2h0" stroke="#2A3F9A" stroke-width="1.40" stroke-linecap="round" fill="none" opacity="0.60"/>
<path d="M429.6,65.8h0M440.5,75.8h0M418.9,27.5h0M410.2,62.2h0M389.4,59.3h0M411.8,13.6h0M388.5,64.8h0" stroke="#158A3A" stroke-width="0.80" stroke-linecap="round" fill="none" opacity="0.60"/>
<path d="M449.9,22.1h0M384.3,52.9h0M444.6,30.4h0M401.1,25.6h0M419.9,62.0h0M402.0,22.4h0M412.8,26.5h0M416.8,25.4h0M397.5,52.5h0" stroke="#158A3A" stroke-width="1.80" stroke-linecap="round" fill="none" opacity="0.60"/>
<path d="M429.1,76.5h0M415.7,73.8h0M382.7,72.2h0" stroke="#1FA040" stroke-width="1.80" stroke-linecap="round" fill="none" opacity="0.60"/>
<path d="M430.4,60.8h0M438.9,19.7h0M437.2,76.1h0M443.3,11.3h0M384.8,31.2h0M417.3,48.0h0M438.5,28.0h0M407.4,35.6h0M411.0,54.8h0" stroke="#1FA040" stroke-width="1.30" stroke-linecap="round" fill="none" opacity="0.60"/>
<path d="M427.4,42.8h0M443.7,71.5h0M440.9,9.6h0M416.6,69.8h0" stroke="#1FA040" stroke-width="0.80" stroke-linecap="round" fill="none" opacity="0.60"/>
<path d="M406.8,62.7h0M412.3,65.2h0M431.8,64.8h0" stroke="#158A3A" stroke-width="1.30" stroke-linecap="round" fill="none" opacity="0.60"/>
</g>
</g>
<clipPath id="mc6"><rect x="454.5" y="9.0" width="70.3" height="67.6"/></clipPath>
<g clip-path="url(#mc6)">
<rect x="454.5" y="9.0" width="70.3" height="67.6" fill="#070a0e" />
<g filter="url(#cellTex)">
<path d="M474.3,39.8 C475.0,37.5 478.7,33.3 480.8,31.1 C483.0,28.8 484.9,26.6 487.4,26.3 C490.0,25.9 493.4,27.5 496.2,28.9 C498.9,30.2 502.2,32.2 503.8,34.4 C505.5,36.5 506.6,40.2 506.0,42.0 C505.5,43.8 502.9,45.1 500.5,45.3 C498.2,45.5 494.7,43.3 491.8,43.1 C488.9,42.9 485.6,43.8 483.0,44.2 C480.5,44.6 477.9,46.0 476.5,45.3 C475.0,44.6 473.6,42.2 474.3,39.8Z" fill="#1FB44A"/>
<path d="M477.6,43.1 C476.1,44.0 471.4,46.4 468.8,48.6 C466.3,50.8 464.0,53.5 462.2,56.2 C460.5,59.0 459.4,62.1 458.5,65.0 C457.7,67.9 457.4,72.3 457.2,73.7" stroke="#1FB44A" stroke-width="5" fill="none" stroke-linecap="round"/>
<path d="M506.0,43.1 C506.7,44.4 509.4,48.0 510.4,50.8 C511.4,53.5 512.1,56.6 511.9,59.5 C511.7,62.4 510.6,65.9 509.3,68.3 C507.9,70.6 506.0,72.4 503.8,73.7 C501.6,75.1 498.9,76.2 496.2,76.6 C493.4,76.9 490.0,76.6 487.4,75.9 C484.9,75.3 482.5,73.9 480.8,72.6 C479.2,71.4 478.1,69.0 477.6,68.3" stroke="#17A040" stroke-width="1.8" fill="none" opacity=".85"/>
<path d="M513.2,51.9 C513.6,53.1 515.0,57.0 515.4,59.5 C515.9,62.1 516.0,64.6 515.9,67.2 C515.7,69.7 514.9,73.6 514.8,74.8" stroke="#1FB44A" stroke-width="4.2" fill="none" stroke-linecap="round"/>
<path d="M480.8,20.1 C482.7,19.6 488.1,17.2 491.8,16.8 C495.4,16.5 500.9,17.8 502.7,17.9" stroke="#158A3A" stroke-width="2" fill="none" opacity=".6"/>
<path d="M518.0,20.1 C518.6,22.0 520.6,27.4 521.3,31.1 C522.1,34.7 522.2,40.2 522.4,42.0" stroke="#158A3A" stroke-width="3" fill="none" opacity=".5"/>
</g><g filter="url(#blur04)">
<path d="M491.6,48.6h0M483.5,48.3h0M461.9,31.0h0M498.2,51.6h0M481.2,40.4h0M459.6,55.8h0M510.9,26.0h0M500.0,45.5h0M479.1,35.6h0M507.1,43.8h0M465.4,58.7h0M493.0,50.7h0M508.8,68.7h0M467.2,44.3h0M463.8,17.5h0" stroke="#1FA040" stroke-width="0.80" stroke-linecap="round" fill="none" opacity="0.60"/>
<path d="M516.6,33.7h0M483.8,40.2h0M491.2,36.5h0M490.0,29.8h0M519.4,33.0h0M503.0,32.5h0M477.8,66.9h0M473.5,15.3h0M510.5,14.0h0M496.4,61.8h0M489.3,63.8h0M486.1,33.2h0M524.0,47.8h0M454.5,20.6h0" stroke="#18943C" stroke-width="0.80" stroke-linecap="round" fill="none" opacity="0.60"/>
<path d="M521.8,32.1h0M510.9,34.0h0M521.0,29.9h0M489.6,74.8h0M486.6,18.7h0M472.9,59.8h0M506.2,67.2h0M486.9,36.7h0M476.1,54.2h0M506.2,48.0h0M467.2,25.2h0M496.0,68.8h0M520.4,20.9h0M520.6,71.8h0M524.7,55.6h0M463.5,12.3h0M464.5,48.0h0M481.3,70.6h0M519.9,72.1h0M479.7,75.5h0M504.8,75.4h0M519.1,49.2h0M487.9,70.0h0M464.5,38.4h0M458.5,67.2h0M485.6,71.6h0M514.2,30.7h0" stroke="#22B048" stroke-width="2.00" stroke-linecap="round" fill="none" opacity="0.60"/>
<path d="M512.4,15.5h0M497.1,47.7h0M520.3,50.6h0M486.8,74.1h0M515.6,19.8h0M481.2,33.8h0M459.2,29.3h0M462.2,52.3h0M484.2,43.2h0M482.5,37.1h0M470.9,36.5h0M476.0,65.9h0" stroke="#22B048" stroke-width="1.40" stroke-linecap="round" fill="none" opacity="0.60"/>
<path d="M454.1,19.5h0M476.3,22.9h0M514.1,38.4h0M507.6,48.3h0M468.5,18.8h0M488.8,9.9h0M521.1,36.6h0M509.6,72.5h0M501.0,76.3h0M516.3,54.8h0M490.5,38.1h0M461.7,53.9h0" stroke="#1FA040" stroke-width="2.00" stroke-linecap="round" fill="none" opacity="0.60"/>
<path d="M504.1,13.0h0M478.3,33.6h0M491.8,12.9h0M517.5,61.4h0M524.0,33.9h0M502.4,11.4h0M511.8,61.5h0M518.4,26.7h0M476.7,29.7h0M498.0,30.3h0M479.3,41.2h0M502.0,23.2h0M459.2,50.1h0M475.5,65.5h0M482.3,26.8h0M507.3,42.5h0M460.7,54.9h0M497.6,67.9h0M476.5,27.0h0M483.2,31.4h0M487.5,12.8h0M498.5,64.9h0" stroke="#1FA040" stroke-width="1.40" stroke-linecap="round" fill="none" opacity="0.60"/>
<path d="M495.8,52.0h0M501.7,14.1h0M482.8,61.5h0M473.5,24.8h0M458.6,58.6h0M492.6,40.2h0M454.4,17.1h0M478.2,61.8h0M493.9,29.5h0M470.4,9.3h0M471.7,11.7h0M492.1,26.4h0M507.9,75.0h0M488.8,52.6h0M506.8,28.8h0M487.5,39.3h0M484.2,75.4h0M512.0,56.1h0M503.5,70.4h0" stroke="#18943C" stroke-width="1.40" stroke-linecap="round" fill="none" opacity="0.60"/>
<path d="M484.1,25.8h0M458.9,29.2h0M507.4,54.2h0M489.4,45.4h0M465.9,39.1h0M519.1,57.0h0M493.7,62.2h0M456.2,60.1h0M468.5,21.5h0M511.0,59.5h0M488.1,15.9h0M497.5,65.0h0M478.8,22.0h0M520.3,32.2h0M520.8,72.4h0M492.7,30.4h0" stroke="#22B048" stroke-width="0.80" stroke-linecap="round" fill="none" opacity="0.60"/>
<path d="M515.4,15.1h0M507.8,74.3h0M476.8,61.0h0M459.3,36.1h0M516.2,20.2h0M482.1,15.5h0M513.5,30.9h0M455.5,73.6h0M478.5,33.0h0M478.7,47.0h0M454.3,24.4h0M497.5,36.1h0M474.5,42.6h0" stroke="#18943C" stroke-width="2.00" stroke-linecap="round" fill="none" opacity="0.60"/>
<path d="M454.9,16.6h0M468.1,31.3h0M521.7,65.7h0M468.5,65.5h0M460.1,44.9h0M468.7,38.2h0M477.5,64.4h0M488.2,53.0h0M523.3,76.2h0M515.1,75.3h0M508.4,75.6h0M475.9,64.4h0" stroke="#E0282E" stroke-width="1.20" stroke-linecap="round" fill="none" opacity="0.75"/>
<path d="M502.6,18.4h0M518.6,52.9h0M461.0,75.5h0M466.5,12.0h0" stroke="#E0282E" stroke-width="0.80" stroke-linecap="round" fill="none" opacity="0.75"/>
<path d="M504.5,18.4h0M491.4,22.9h0M468.9,23.7h0" stroke="#E0282E" stroke-width="1.60" stroke-linecap="round" fill="none" opacity="0.75"/>
<path d="M501.0,18.2h0M472.7,28.8h0M493.8,72.3h0M460.6,22.0h0M458.1,50.3h0M514.7,41.8h0M502.9,46.5h0M470.1,22.2h0" stroke="#C8242C" stroke-width="1.60" stroke-linecap="round" fill="none" opacity="0.75"/>
<path d="M462.4,61.1h0M503.4,15.5h0M486.3,63.1h0M523.1,60.9h0M454.8,34.4h0" stroke="#C8242C" stroke-width="1.20" stroke-linecap="round" fill="none" opacity="0.75"/>
<path d="M510.0,47.0h0M468.3,20.0h0M519.6,69.0h0" stroke="#C8242C" stroke-width="0.80" stroke-linecap="round" fill="none" opacity="0.75"/>
<path d="M459.5,23.4h0M469.8,54.8h0" stroke="#3565C0" stroke-width="1.00" stroke-linecap="round" fill="none" opacity="0.75"/>
<path d="M517.9,42.5h0M464.3,12.8h0M497.9,44.5h0M467.9,66.5h0M455.9,73.3h0M460.6,60.8h0M512.9,26.1h0" stroke="#25A7E0" stroke-width="1.40" stroke-linecap="round" fill="none" opacity="0.75"/>
<path d="M461.1,43.4h0M496.7,45.7h0M462.6,75.1h0M465.8,33.7h0M489.7,61.8h0M469.7,36.1h0M463.2,14.7h0M459.3,48.8h0M490.0,21.5h0" stroke="#3565C0" stroke-width="0.60" stroke-linecap="round" fill="none" opacity="0.75"/>
<path d="M503.0,76.1h0M493.4,24.3h0M471.3,36.1h0M486.4,14.6h0M495.5,41.6h0M468.1,44.8h0" stroke="#3AA0D8" stroke-width="1.00" stroke-linecap="round" fill="none" opacity="0.75"/>
<path d="M454.7,58.4h0M521.7,22.6h0M463.8,25.7h0M486.0,70.1h0" stroke="#3AA0D8" stroke-width="0.60" stroke-linecap="round" fill="none" opacity="0.75"/>
<path d="M465.3,10.4h0M475.2,47.9h0M503.5,62.6h0M485.6,56.5h0M510.6,15.8h0" stroke="#25A7E0" stroke-width="0.60" stroke-linecap="round" fill="none" opacity="0.75"/>
<path d="M505.7,42.3h0M488.8,43.1h0M516.7,12.3h0M471.5,30.5h0M503.0,9.8h0" stroke="#3565C0" stroke-width="1.40" stroke-linecap="round" fill="none" opacity="0.75"/>
<path d="M495.7,24.5h0M477.2,33.4h0M509.4,30.3h0M523.7,24.5h0" stroke="#25A7E0" stroke-width="1.00" stroke-linecap="round" fill="none" opacity="0.75"/>
<path d="M463.4,26.6h0M470.0,34.4h0M496.9,64.6h0" stroke="#3AA0D8" stroke-width="1.40" stroke-linecap="round" fill="none" opacity="0.75"/>
<path d="M494.5,51.7h0M522.6,44.7h0M521.0,52.0h0M510.1,48.9h0M488.5,9.7h0M455.1,45.7h0M516.9,71.9h0M473.9,73.0h0M487.5,51.1h0M508.0,74.3h0" stroke="#253080" stroke-width="1.00" stroke-linecap="round" fill="none" opacity="0.60"/>
<path d="M500.3,69.2h0M493.4,35.3h0M516.4,33.6h0M507.8,33.4h0M505.8,41.7h0M498.2,28.3h0" stroke="#2A3F9A" stroke-width="1.40" stroke-linecap="round" fill="none" opacity="0.60"/>
<path d="M523.5,70.2h0M500.4,61.0h0M476.7,32.9h0M502.1,35.3h0M461.5,21.5h0M520.1,31.6h0" stroke="#253080" stroke-width="1.40" stroke-linecap="round" fill="none" opacity="0.60"/>
<path d="M476.0,42.5h0M516.0,66.0h0" stroke="#253080" stroke-width="0.60" stroke-linecap="round" fill="none" opacity="0.60"/>
<path d="M511.9,28.0h0M462.3,12.8h0M524.3,13.5h0M458.5,15.3h0M455.5,35.8h0" stroke="#2A3F9A" stroke-width="1.00" stroke-linecap="round" fill="none" opacity="0.60"/>
<path d="M458.1,27.6h0" stroke="#2A3F9A" stroke-width="0.60" stroke-linecap="round" fill="none" opacity="0.60"/>
</g>
</g>
<clipPath id="mc7"><rect x="379.2" y="81.2" width="70.6" height="67.5"/></clipPath>
<g clip-path="url(#mc7)">
<rect x="379.2" y="81.2" width="70.6" height="67.5" fill="#020302" />
<path d="M400.5,106.8 C399.5,106.2 396.1,104.1 394.3,103.0 C392.4,102.0 390.1,100.9 389.2,100.5" stroke="#A6D8A4" stroke-width="0.9" fill="none"/>
<path d="M398.0,103.5 C398.6,102.7 400.2,100.3 401.3,98.5 C402.3,96.7 403.8,93.9 404.3,93.0" stroke="#A6D8A4" stroke-width="0.9" fill="none"/>
<path d="M424.4,109.3 C425.7,108.5 429.9,105.9 431.9,104.3 C433.9,102.6 435.0,100.9 436.5,99.2 C437.9,97.6 440.0,95.1 440.7,94.2" stroke="#A6D8A4" stroke-width="0.9" fill="none"/>
<path d="M428.2,109.8 C429.8,110.3 434.5,111.4 438.2,112.6 C442.0,113.7 448.7,116.1 450.8,116.8" stroke="#A6D8A4" stroke-width="0.9" fill="none"/>
<path d="M444.5,115.1 C444.8,116.4 446.1,120.3 446.5,123.1 C446.9,125.9 446.9,130.4 447.0,131.9" stroke="#A6D8A4" stroke-width="0.9" fill="none"/>
<path d="M415.6,123.1 C415.8,125.2 416.4,132.3 416.9,135.7 C417.3,139.0 417.6,141.0 418.1,143.2 C418.6,145.4 419.6,147.8 419.9,148.7" stroke="#A6D8A4" stroke-width="0.9" fill="none"/>
<path d="M417.6,138.7 C420.0,138.6 426.4,138.4 431.9,138.2 C437.5,138.0 447.6,137.8 450.8,137.7" stroke="#A6D8A4" stroke-width="0.9" fill="none"/>
<path d="M400.5,106.8 C401.0,105.6 404.5,107.9 406.8,108.5 C409.1,109.2 411.8,110.6 414.4,110.6 C416.9,110.6 419.6,108.7 421.9,108.5 C424.2,108.4 427.5,108.4 428.2,109.5 C428.8,110.7 426.9,113.7 425.7,115.6 C424.4,117.4 422.5,119.3 420.6,120.6 C418.7,121.9 416.4,123.4 414.4,123.6 C412.3,123.8 409.8,123.2 408.1,121.9 C406.3,120.5 405.1,118.1 403.8,115.6 C402.5,113.1 400.0,108.0 400.5,106.8Z" fill="#3C4A16" stroke="#A6D8A4" stroke-width="0.8"/>
<path d="M410.9,112.5h0M418.1,117.3h0" stroke="#6CC6F0" stroke-width="0.80" stroke-linecap="round" fill="none" opacity="0.95"/>
<path d="M414.4,117.6h0M421.1,120.9h0M419.1,112.4h0" stroke="#F0F0F0" stroke-width="1.40" stroke-linecap="round" fill="none" opacity="0.95"/>
<path d="M410.9,118.0h0M407.0,117.2h0M417.2,111.4h0" stroke="#6CC6F0" stroke-width="1.40" stroke-linecap="round" fill="none" opacity="0.95"/>
<path d="M406.2,116.5h0" stroke="#F0F0F0" stroke-width="1.10" stroke-linecap="round" fill="none" opacity="0.95"/>
<path d="M406.2,120.0h0" stroke="#E03A3A" stroke-width="1.40" stroke-linecap="round" fill="none" opacity="0.95"/>
</g>
<clipPath id="mc8"><rect x="454.5" y="81.2" width="70.3" height="67.5"/></clipPath>
<g clip-path="url(#mc8)">
<rect x="454.5" y="81.2" width="70.3" height="67.5" fill="#020302" />
<path d="M487.2,105.5 C486.6,103.6 484.5,97.6 483.4,94.2 C482.4,90.9 481.6,87.6 480.9,85.4 C480.2,83.2 479.5,81.7 479.2,80.9" stroke="#A6D8A4" stroke-width="0.9" fill="none"/>
<path d="M501.0,114.3 C502.5,113.8 505.4,112.3 509.8,111.1 C514.2,109.8 524.5,107.5 527.4,106.8" stroke="#A6D8A4" stroke-width="0.9" fill="none"/>
<path d="M502.3,116.3 C503.8,115.9 506.9,114.5 511.1,113.6 C515.3,112.6 524.7,111.1 527.4,110.6" stroke="#A6D8A4" stroke-width="0.9" fill="none"/>
<path d="M484.7,120.6 C483.2,121.4 478.6,123.7 475.9,125.6 C473.2,127.5 470.7,129.4 468.4,131.9 C466.1,134.4 463.6,137.9 462.1,140.7 C460.5,143.5 459.6,147.4 459.1,148.7" stroke="#A6D8A4" stroke-width="0.9" fill="none"/>
<path d="M497.3,123.1 C498.5,124.4 502.5,128.4 504.8,130.7 C507.1,133.0 507.3,134.6 511.1,136.9 C514.9,139.2 524.7,143.2 527.4,144.5" stroke="#A6D8A4" stroke-width="0.9" fill="none"/>
<path d="M483.4,108.0 C484.9,106.8 487.4,105.2 489.7,105.0 C492.0,104.8 495.3,105.4 497.3,106.8 C499.3,108.1 501.2,110.8 501.8,113.1 C502.4,115.4 502.2,118.7 501.0,120.6 C499.9,122.5 497.1,124.0 494.8,124.4 C492.5,124.8 489.4,124.2 487.2,123.1 C485.0,122.1 482.7,119.8 481.7,118.1 C480.6,116.3 480.6,114.2 480.9,112.6 C481.2,110.9 482.0,109.3 483.4,108.0Z" fill="#3C4A16" stroke="#A6D8A4" stroke-width="0.8"/>
<path d="M494.0,108.3h0M497.5,109.1h0" stroke="#E03A3A" stroke-width="1.10" stroke-linecap="round" fill="none" opacity="0.95"/>
<path d="M488.1,117.6h0M485.4,110.8h0M485.4,110.6h0" stroke="#E59AB0" stroke-width="1.40" stroke-linecap="round" fill="none" opacity="0.95"/>
<path d="M492.6,110.9h0" stroke="#F0F0F0" stroke-width="1.40" stroke-linecap="round" fill="none" opacity="0.95"/>
</g>
<text x="379.2" y="6.5" font-size="8" text-anchor="start" fill="#1a1a1a" textLength="67.0" lengthAdjust="spacingAndGlyphs" >LV-GFP (MP-28d)</text>
<text x="454.5" y="6.5" font-size="8" text-anchor="start" fill="#1a1a1a" textLength="73.0" lengthAdjust="spacingAndGlyphs" >LV-shCR3 (MP-28d)</text>
<text x="367.5" y="9.0" font-size="11.5" text-anchor="start" fill="#111" font-weight="bold" >b</text>
<text x="376.3" y="98.0" font-size="7.6" text-anchor="start" fill="#1a1a1a" font-weight="bold" transform="rotate(-90 376.3 98.0)" textLength="85.0" lengthAdjust="spacingAndGlyphs" ><tspan fill="#2DA84C">Iba1</tspan> <tspan fill="#E6302E">PSD95</tspan> <tspan fill="#22A7E0">CR3</tspan> <tspan fill="#4A4DB8">DAPI</tspan></text>
<rect x="589.6" y="103.9" width="25.2" height="31.5" fill="#86BDE4" stroke="#2a2a2a" stroke-width="0.9" />
<rect x="628.6" y="122.1" width="24.6" height="13.3" fill="#DB717B" stroke="#2a2a2a" stroke-width="0.9" />
<line x1="575.8" y1="25.7" x2="575.8" y2="135.8" stroke="#333" stroke-width="0.9" />
<line x1="575.4" y1="135.4" x2="666.8" y2="135.4" stroke="#333" stroke-width="0.9" />
<line x1="572.3" y1="135.4" x2="575.8" y2="135.4" stroke="#333" stroke-width="0.9" />
<text x="571.3" y="138.6" font-size="8.8" text-anchor="end" fill="#1a1a1a" >0</text>
<line x1="572.3" y1="99.0" x2="575.8" y2="99.0" stroke="#333" stroke-width="0.9" />
<text x="571.3" y="102.1" font-size="8.8" text-anchor="end" fill="#1a1a1a" >20</text>
<line x1="572.3" y1="62.5" x2="575.8" y2="62.5" stroke="#333" stroke-width="0.9" />
<text x="571.3" y="65.7" font-size="8.8" text-anchor="end" fill="#1a1a1a" >40</text>
<line x1="572.3" y1="26.1" x2="575.8" y2="26.1" stroke="#333" stroke-width="0.9" />
<text x="571.3" y="29.3" font-size="8.8" text-anchor="end" fill="#1a1a1a" >60</text>
<line x1="602.2" y1="135.4" x2="602.2" y2="138.4" stroke="#333" stroke-width="0.9" />
<line x1="602.2" y1="101.4" x2="602.2" y2="106.4" stroke="#2E6CA4" stroke-width="0.7" />
<line x1="599.7" y1="101.4" x2="604.7" y2="101.4" stroke="#2E6CA4" stroke-width="0.7" />
<line x1="599.7" y1="106.4" x2="604.7" y2="106.4" stroke="#2E6CA4" stroke-width="0.7" />
<circle cx="602.2" cy="132.7" r="1.9" fill="#2E6CA4" />
<circle cx="600.3" cy="129.9" r="1.9" fill="#2E6CA4" />
<circle cx="603.2" cy="128.1" r="1.9" fill="#2E6CA4" />
<circle cx="601.2" cy="125.4" r="1.9" fill="#2E6CA4" />
<circle cx="603.2" cy="122.6" r="1.9" fill="#2E6CA4" />
<circle cx="600.3" cy="120.8" r="1.9" fill="#2E6CA4" />
<circle cx="603.2" cy="119.0" r="1.9" fill="#2E6CA4" />
<circle cx="600.3" cy="117.2" r="1.9" fill="#2E6CA4" />
<circle cx="603.2" cy="115.4" r="1.9" fill="#2E6CA4" />
<circle cx="598.4" cy="114.5" r="1.9" fill="#2E6CA4" />
<circle cx="606.0" cy="113.5" r="1.9" fill="#2E6CA4" />
<circle cx="601.2" cy="112.6" r="1.9" fill="#2E6CA4" />
<circle cx="596.5" cy="111.7" r="1.9" fill="#2E6CA4" />
<circle cx="604.1" cy="110.8" r="1.9" fill="#2E6CA4" />
<circle cx="599.4" cy="109.9" r="1.9" fill="#2E6CA4" />
<circle cx="607.9" cy="109.9" r="1.9" fill="#2E6CA4" />
<circle cx="594.6" cy="109.0" r="1.9" fill="#2E6CA4" />
<circle cx="602.2" cy="108.1" r="1.9" fill="#2E6CA4" />
<circle cx="610.8" cy="108.1" r="1.9" fill="#2E6CA4" />
<circle cx="606.0" cy="107.2" r="1.9" fill="#2E6CA4" />
<circle cx="599.4" cy="106.3" r="1.9" fill="#2E6CA4" />
<circle cx="592.7" cy="106.3" r="1.9" fill="#2E6CA4" />
<circle cx="608.9" cy="105.3" r="1.9" fill="#2E6CA4" />
<circle cx="602.2" cy="104.4" r="1.9" fill="#2E6CA4" />
<circle cx="596.5" cy="104.4" r="1.9" fill="#2E6CA4" />
<circle cx="606.0" cy="103.5" r="1.9" fill="#2E6CA4" />
<circle cx="599.4" cy="102.6" r="1.9" fill="#2E6CA4" />
<circle cx="608.9" cy="101.7" r="1.9" fill="#2E6CA4" />
<circle cx="602.2" cy="100.8" r="1.9" fill="#2E6CA4" />
<circle cx="606.0" cy="99.9" r="1.9" fill="#2E6CA4" />
<circle cx="599.4" cy="99.0" r="1.9" fill="#2E6CA4" />
<circle cx="602.2" cy="97.1" r="1.9" fill="#2E6CA4" />
<circle cx="605.1" cy="95.3" r="1.9" fill="#2E6CA4" />
<circle cx="602.2" cy="93.5" r="1.9" fill="#2E6CA4" />
<circle cx="605.1" cy="91.7" r="1.9" fill="#2E6CA4" />
<circle cx="602.2" cy="88.9" r="1.9" fill="#2E6CA4" />
<circle cx="606.0" cy="88.0" r="1.9" fill="#2E6CA4" />
<circle cx="598.4" cy="88.0" r="1.9" fill="#2E6CA4" />
<circle cx="609.8" cy="87.1" r="1.9" fill="#2E6CA4" />
<circle cx="595.6" cy="86.2" r="1.9" fill="#2E6CA4" />
<circle cx="602.2" cy="78.9" r="1.9" fill="#2E6CA4" />
<circle cx="602.2" cy="38.9" r="1.9" fill="#2E6CA4" />
<line x1="640.9" y1="135.4" x2="640.9" y2="138.4" stroke="#333" stroke-width="0.9" />
<line x1="640.9" y1="120.6" x2="640.9" y2="123.6" stroke="#E8486B" stroke-width="0.7" />
<line x1="638.4" y1="120.6" x2="643.4" y2="120.6" stroke="#E8486B" stroke-width="0.7" />
<line x1="638.4" y1="123.6" x2="643.4" y2="123.6" stroke="#E8486B" stroke-width="0.7" />
<circle cx="640.9" cy="135.0" r="1.9" fill="#E8486B" />
<circle cx="637.1" cy="134.5" r="1.9" fill="#E8486B" />
<circle cx="644.7" cy="134.5" r="1.9" fill="#E8486B" />
<circle cx="633.3" cy="133.6" r="1.9" fill="#E8486B" />
<circle cx="648.5" cy="133.6" r="1.9" fill="#E8486B" />
<circle cx="629.5" cy="132.7" r="1.9" fill="#E8486B" />
<circle cx="641.9" cy="131.8" r="1.9" fill="#E8486B" />
<circle cx="651.4" cy="131.8" r="1.9" fill="#E8486B" />
<circle cx="638.1" cy="130.8" r="1.9" fill="#E8486B" />
<circle cx="644.7" cy="129.9" r="1.9" fill="#E8486B" />
<circle cx="634.3" cy="129.9" r="1.9" fill="#E8486B" />
<circle cx="648.5" cy="129.0" r="1.9" fill="#E8486B" />
<circle cx="640.9" cy="128.1" r="1.9" fill="#E8486B" />
<circle cx="631.4" cy="128.1" r="1.9" fill="#E8486B" />
<circle cx="637.1" cy="127.2" r="1.9" fill="#E8486B" />
<circle cx="643.8" cy="126.3" r="1.9" fill="#E8486B" />
<circle cx="650.4" cy="126.3" r="1.9" fill="#E8486B" />
<circle cx="634.3" cy="125.4" r="1.9" fill="#E8486B" />
<circle cx="640.9" cy="124.5" r="1.9" fill="#E8486B" />
<circle cx="637.1" cy="123.6" r="1.9" fill="#E8486B" />
<circle cx="643.8" cy="122.6" r="1.9" fill="#E8486B" />
<circle cx="647.6" cy="122.6" r="1.9" fill="#E8486B" />
<circle cx="634.3" cy="121.7" r="1.9" fill="#E8486B" />
<circle cx="640.9" cy="120.8" r="1.9" fill="#E8486B" />
<circle cx="643.8" cy="119.0" r="1.9" fill="#E8486B" />
<circle cx="639.0" cy="118.1" r="1.9" fill="#E8486B" />
<circle cx="646.6" cy="117.2" r="1.9" fill="#E8486B" />
<circle cx="635.2" cy="117.2" r="1.9" fill="#E8486B" />
<circle cx="641.9" cy="116.3" r="1.9" fill="#E8486B" />
<circle cx="640.0" cy="113.5" r="1.9" fill="#E8486B" />
<circle cx="643.8" cy="112.6" r="1.9" fill="#E8486B" />
<circle cx="637.1" cy="111.7" r="1.9" fill="#E8486B" />
<circle cx="647.6" cy="111.7" r="1.9" fill="#E8486B" />
<circle cx="633.3" cy="110.8" r="1.9" fill="#E8486B" />
<circle cx="640.9" cy="108.1" r="1.9" fill="#E8486B" />
<circle cx="637.1" cy="107.2" r="1.9" fill="#E8486B" />
<circle cx="643.8" cy="106.3" r="1.9" fill="#E8486B" />
<circle cx="640.9" cy="99.9" r="1.9" fill="#E8486B" />
<line x1="602.7" y1="25.6" x2="640.6" y2="25.6" stroke="#444" stroke-width="0.9" />
<text x="621.7" y="22.4" font-size="12" text-anchor="middle" fill="#222" >****</text>
<text x="601.4" y="148.8" font-size="7.7" text-anchor="middle" fill="#1a1a1a" >LV-GFP</text>
<text x="648.7" y="148.8" font-size="7.7" text-anchor="middle" fill="#1a1a1a" >LV-shCR3</text>
<text x="556.2" y="79.8" font-size="9.9" text-anchor="middle" fill="#1a1a1a" transform="rotate(-90 556.2 79.8)" >% Engulfment</text>
<clipPath id="mc9"><rect x="20.6" y="154.5" width="84.9" height="62.8"/></clipPath>
<g clip-path="url(#mc9)">
<rect x="20.6" y="154.5" width="84.9" height="62.8" fill="#aaa" />
<rect x="20.6" y="154.5" width="84.9" height="62.8" filter="url(#em1)"/>
<g filter="url(#blur06)">
<circle cx="37.5" cy="208.5" r="2.2" fill="#111" />
<circle cx="46.0" cy="215.5" r="1.6" fill="#181818" />
<circle cx="75.0" cy="155.5" r="1.8" fill="#1a1a1a" />
</g>
<rect x="59.8" y="195.2" width="21.1" height="15.1" fill="none" stroke="#C8323A" stroke-width="1.4" />
<path d="M0,0 L-5.5,-3.0 L-3.0,0 L-5.5,3.0 Z" fill="#D2232A" transform="translate(68.5 204.5) rotate(65)"/>
</g>
<clipPath id="mc10"><rect x="108.0" y="154.5" width="83.7" height="62.8"/></clipPath>
<g clip-path="url(#mc10)">
<rect x="108.0" y="154.5" width="83.7" height="62.8" fill="#aaa" />
<rect x="108.0" y="154.5" width="83.7" height="62.8" filter="url(#em3)"/>
<path d="M138.2,204.0 C135.5,202.3 136.7,199.1 137.7,196.5 C138.7,193.8 141.7,190.2 144.0,188.2 C146.3,186.2 148.8,184.8 151.5,184.4 C154.2,184.0 157.4,185.1 160.3,185.9 C163.2,186.8 166.7,188.6 169.1,189.7 C171.5,190.8 173.6,191.2 174.6,192.7 C175.7,194.3 175.8,196.7 175.4,199.0 C175.0,201.3 173.6,204.9 172.1,206.5 C170.6,208.1 169.6,208.5 166.6,208.5 C163.6,208.5 158.8,207.3 154.0,206.5 C149.3,205.8 140.9,205.7 138.2,204.0Z" fill="rgba(150,168,100,0.52)" stroke="#BC3526" stroke-width="1.4" stroke-dasharray="5 1.5 1.3 1.5"/>
<path d="M0,0 L-7.5,-4.1 L-4.1,0 L-7.5,4.1 Z" fill="#D2232A" transform="translate(144.2 187.7) rotate(50)"/>
</g>
<clipPath id="mc11"><rect x="194.2" y="154.5" width="81.0" height="62.8"/></clipPath>
<g clip-path="url(#mc11)">
<rect x="194.2" y="154.5" width="81.0" height="62.8" fill="#aaa" />
<rect x="194.2" y="154.5" width="81.0" height="62.8" filter="url(#em5)"/>
<path d="M243.6,152.5 C244.2,154.2 246.5,159.7 247.2,162.6 C247.9,165.5 248.7,167.4 247.9,170.1 C247.1,172.8 244.6,175.8 242.2,178.9 C239.8,182.0 236.5,185.4 233.4,188.9 C230.3,192.4 226.8,196.6 223.4,200.2 C220.1,203.8 216.6,207.1 213.3,210.3 C210.0,213.5 205.1,217.7 203.5,219.2 L277.2,219.3 L277.2,152.5 Z" fill="rgba(150,168,100,0.52)"/>
<path d="M243.6,152.5 C244.2,154.2 246.5,159.7 247.2,162.6 C247.9,165.5 248.7,167.4 247.9,170.1 C247.1,172.8 244.6,175.8 242.2,178.9 C239.8,182.0 236.5,185.4 233.4,188.9 C230.3,192.4 226.8,196.6 223.4,200.2 C220.1,203.8 216.6,207.1 213.3,210.3 C210.0,213.5 205.1,217.7 203.5,219.2" fill="none" stroke="#BC3526" stroke-width="1.5" stroke-dasharray="5 1.5 1.3 1.5"/>
<path d="M245.5,173.0 C244.5,174.3 241.7,178.3 239.5,181.0 C237.3,183.7 234.8,186.3 232.5,189.0 C230.2,191.7 226.7,195.7 225.5,197.0" fill="none" stroke="#222" stroke-width="2.6" opacity=".4" filter="url(#blur06)"/>
<path d="M244.1,155.1 L274.6,155.1 L274.6,216.7 L205.0,216.7" fill="none" stroke="#BC3526" stroke-width="1.6" stroke-dasharray="5 1.5 1.3 1.5"/>
<path d="M0,0 L-7.5,-4.1 L-4.1,0 L-7.5,4.1 Z" fill="#D2232A" transform="translate(232.8 182.9) rotate(68)"/>
</g>
<clipPath id="mc12"><rect x="20.6" y="223.2" width="84.9" height="63.3"/></clipPath>
<g clip-path="url(#mc12)">
<rect x="20.6" y="223.2" width="84.9" height="63.3" fill="#aaa" />
<rect x="20.6" y="223.2" width="84.9" height="63.3" filter="url(#em2)"/>
<rect x="70.9" y="238.4" width="20.8" height="14.6" fill="none" stroke="#C8323A" stroke-width="1.4" />
<path d="M0,0 L-5.5,-3.0 L-3.0,0 L-5.5,3.0 Z" fill="#D2232A" transform="translate(80.0 245.5) rotate(160)"/>
</g>
<clipPath id="mc13"><rect x="108.0" y="223.2" width="83.7" height="63.3"/></clipPath>
<g clip-path="url(#mc13)">
<rect x="108.0" y="223.2" width="83.7" height="63.3" fill="#aaa" />
<rect x="108.0" y="223.2" width="83.7" height="63.3" filter="url(#em4)"/>
<path d="M130.2,250.5 C130.8,247.9 135.3,243.9 137.7,242.5 C140.0,241.0 142.3,240.8 144.2,242.0 C146.1,243.1 146.9,246.4 149.0,249.2 C151.0,252.1 154.6,256.4 156.5,259.3 C158.4,262.2 159.9,264.7 160.3,266.8 C160.7,269.0 160.5,271.5 158.8,272.1 C157.1,272.7 153.4,271.9 150.3,270.6 C147.2,269.3 142.9,266.4 140.2,264.3 C137.5,262.2 135.6,260.3 133.9,258.0 C132.2,255.7 129.5,253.1 130.2,250.5Z" fill="rgba(150,168,100,0.52)" stroke="#BC3526" stroke-width="1.4" stroke-dasharray="5 1.5 1.3 1.5"/>
<path d="M145.7,243.5 C146.7,244.8 149.6,249.0 151.5,251.8 C153.4,254.5 156.3,258.7 157.3,260.1" fill="none" stroke="#333" stroke-width="1.4" opacity=".45" filter="url(#blur06)"/>
<path d="M0,0 L-7.5,-4.1 L-4.1,0 L-7.5,4.1 Z" fill="#D2232A" transform="translate(151.0 245.5) rotate(180)"/>
</g>
<clipPath id="mc14"><rect x="194.2" y="223.2" width="81.0" height="63.3"/></clipPath>
<g clip-path="url(#mc14)">
<rect x="194.2" y="223.2" width="81.0" height="63.3" fill="#aaa" />
<rect x="194.2" y="223.2" width="81.0" height="63.3" filter="url(#em6)"/>
<path d="M225.3,221.5 C225.4,223.3 225.2,228.7 225.9,232.6 C226.6,236.5 228.0,240.9 229.7,245.1 C231.4,249.3 233.4,253.5 235.9,257.7 C238.4,261.9 241.5,266.6 244.7,270.2 C247.8,273.8 251.5,276.1 254.8,279.0 C258.1,281.9 262.9,286.1 264.5,287.5 L192.2,288.5 L192.2,221.2 Z" fill="rgba(150,168,100,0.52)"/>
<g filter="url(#blur2)" opacity=".28">
<ellipse cx="218.0" cy="266.0" rx="13" ry="15" fill="#3a3a2a"/>
</g>
<path d="M228.5,230.0 C229.0,231.8 230.0,237.1 231.5,241.0 C233.0,244.9 235.2,249.5 237.5,253.5 C239.8,257.5 242.8,261.7 245.5,265.0 C248.2,268.3 252.6,272.1 254.0,273.5" fill="none" stroke="#141414" stroke-width="4.6" opacity=".6" filter="url(#blur1)"/>
<path d="M225.3,221.5 C225.4,223.3 225.2,228.7 225.9,232.6 C226.6,236.5 228.0,240.9 229.7,245.1 C231.4,249.3 233.4,253.5 235.9,257.7 C238.4,261.9 241.5,266.6 244.7,270.2 C247.8,273.8 251.5,276.1 254.8,279.0 C258.1,281.9 262.9,286.1 264.5,287.5" fill="none" stroke="#BC3526" stroke-width="1.5" stroke-dasharray="5 1.5 1.3 1.5"/>
<path d="M225.5,223.8 L194.8,223.8 L194.8,285.9 L263.0,285.9" fill="none" stroke="#BC3526" stroke-width="1.6" stroke-dasharray="5 1.5 1.3 1.5"/>
<path d="M0,0 L-7.5,-4.1 L-4.1,0 L-7.5,4.1 Z" fill="#D2232A" transform="translate(241.0 247.4) rotate(180)"/>
</g>
<text x="1.0" y="168.2" font-size="11.5" text-anchor="start" fill="#111" font-weight="bold" >c</text>
<text x="18.6" y="184.4" font-size="9.1" text-anchor="middle" fill="#5BB3E4" transform="rotate(-90 18.6 184.4)" >LV-GFP</text>
<text x="18.9" y="254.0" font-size="9.3" text-anchor="middle" fill="#E0596A" transform="rotate(-90 18.9 254.0)" >LV-shCR3</text>
<rect x="328.5" y="228.8" width="19.4" height="34.2" fill="#86BDE4" stroke="#2a2a2a" stroke-width="0.9" />
<rect x="358.2" y="215.8" width="20.1" height="47.2" fill="#DB717B" stroke="#2a2a2a" stroke-width="0.9" />
<line x1="318.0" y1="172.7" x2="318.0" y2="263.4" stroke="#333" stroke-width="0.9" />
<line x1="317.6" y1="263.0" x2="388.8" y2="263.0" stroke="#333" stroke-width="0.9" />
<line x1="314.5" y1="263.0" x2="318.0" y2="263.0" stroke="#333" stroke-width="0.9" />
<text x="313.5" y="265.6" font-size="7.2" text-anchor="end" fill="#1a1a1a" >0</text>
<line x1="314.5" y1="240.5" x2="318.0" y2="240.5" stroke="#333" stroke-width="0.9" />
<text x="313.5" y="243.1" font-size="7.2" text-anchor="end" fill="#1a1a1a" >5</text>
<line x1="314.5" y1="218.1" x2="318.0" y2="218.1" stroke="#333" stroke-width="0.9" />
<text x="313.5" y="220.6" font-size="7.2" text-anchor="end" fill="#1a1a1a" >10</text>
<line x1="314.5" y1="195.6" x2="318.0" y2="195.6" stroke="#333" stroke-width="0.9" />
<text x="313.5" y="198.2" font-size="7.2" text-anchor="end" fill="#1a1a1a" >15</text>
<line x1="314.5" y1="173.1" x2="318.0" y2="173.1" stroke="#333" stroke-width="0.9" />
<text x="313.5" y="175.7" font-size="7.2" text-anchor="end" fill="#1a1a1a" >20</text>
<line x1="338.2" y1="263.0" x2="338.2" y2="266.0" stroke="#333" stroke-width="0.9" />
<line x1="338.2" y1="227.1" x2="338.2" y2="230.6" stroke="#2E6CA4" stroke-width="0.7" />
<line x1="335.7" y1="227.1" x2="340.7" y2="227.1" stroke="#2E6CA4" stroke-width="0.7" />
<line x1="335.7" y1="230.6" x2="340.7" y2="230.6" stroke="#2E6CA4" stroke-width="0.7" />
<circle cx="338.2" cy="249.5" r="1.8" fill="#2E6CA4" />
<circle cx="338.2" cy="240.5" r="1.8" fill="#2E6CA4" />
<circle cx="341.8" cy="240.5" r="1.8" fill="#2E6CA4" />
<circle cx="338.2" cy="236.0" r="1.8" fill="#2E6CA4" />
<circle cx="341.8" cy="236.0" r="1.8" fill="#2E6CA4" />
<circle cx="334.6" cy="236.0" r="1.8" fill="#2E6CA4" />
<circle cx="338.2" cy="231.5" r="1.8" fill="#2E6CA4" />
<circle cx="334.6" cy="231.5" r="1.8" fill="#2E6CA4" />
<circle cx="341.8" cy="231.5" r="1.8" fill="#2E6CA4" />
<circle cx="331.0" cy="231.5" r="1.8" fill="#2E6CA4" />
<circle cx="338.2" cy="227.0" r="1.8" fill="#2E6CA4" />
<circle cx="334.6" cy="227.0" r="1.8" fill="#2E6CA4" />
<circle cx="341.8" cy="227.0" r="1.8" fill="#2E6CA4" />
<circle cx="331.0" cy="227.0" r="1.8" fill="#2E6CA4" />
<circle cx="345.4" cy="227.0" r="1.8" fill="#2E6CA4" />
<circle cx="337.2" cy="227.0" r="1.8" fill="#2E6CA4" />
<circle cx="339.4" cy="227.0" r="1.8" fill="#2E6CA4" />
<circle cx="338.2" cy="222.5" r="1.8" fill="#2E6CA4" />
<circle cx="341.8" cy="222.5" r="1.8" fill="#2E6CA4" />
<circle cx="334.6" cy="222.5" r="1.8" fill="#2E6CA4" />
<circle cx="338.2" cy="218.1" r="1.8" fill="#2E6CA4" />
<circle cx="334.6" cy="218.1" r="1.8" fill="#2E6CA4" />
<circle cx="338.2" cy="213.6" r="1.8" fill="#2E6CA4" />
<line x1="368.2" y1="263.0" x2="368.2" y2="266.0" stroke="#333" stroke-width="0.9" />
<line x1="368.2" y1="212.5" x2="368.2" y2="219.1" stroke="#E8486B" stroke-width="0.7" />
<line x1="365.8" y1="212.5" x2="370.8" y2="212.5" stroke="#E8486B" stroke-width="0.7" />
<line x1="365.8" y1="219.1" x2="370.8" y2="219.1" stroke="#E8486B" stroke-width="0.7" />
<circle cx="368.2" cy="245.0" r="1.8" fill="#E8486B" />
<circle cx="368.2" cy="236.0" r="1.8" fill="#E8486B" />
<circle cx="371.9" cy="236.0" r="1.8" fill="#E8486B" />
<circle cx="368.2" cy="231.5" r="1.8" fill="#E8486B" />
<circle cx="371.9" cy="231.5" r="1.8" fill="#E8486B" />
<circle cx="364.6" cy="231.5" r="1.8" fill="#E8486B" />
<circle cx="368.2" cy="227.0" r="1.8" fill="#E8486B" />
<circle cx="364.6" cy="227.0" r="1.8" fill="#E8486B" />
<circle cx="368.2" cy="222.5" r="1.8" fill="#E8486B" />
<circle cx="364.6" cy="222.5" r="1.8" fill="#E8486B" />
<circle cx="368.2" cy="213.6" r="1.8" fill="#E8486B" />
<circle cx="364.6" cy="213.6" r="1.8" fill="#E8486B" />
<circle cx="368.2" cy="209.1" r="1.8" fill="#E8486B" />
<circle cx="364.6" cy="209.1" r="1.8" fill="#E8486B" />
<circle cx="371.9" cy="209.1" r="1.8" fill="#E8486B" />
<circle cx="368.2" cy="204.6" r="1.8" fill="#E8486B" />
<circle cx="371.9" cy="204.6" r="1.8" fill="#E8486B" />
<circle cx="364.6" cy="204.6" r="1.8" fill="#E8486B" />
<circle cx="368.2" cy="200.1" r="1.8" fill="#E8486B" />
<circle cx="364.6" cy="200.1" r="1.8" fill="#E8486B" />
<circle cx="368.2" cy="194.7" r="1.8" fill="#E8486B" />
<circle cx="368.2" cy="189.7" r="1.8" fill="#E8486B" />
<line x1="338.0" y1="178.1" x2="368.2" y2="178.1" stroke="#444" stroke-width="0.9" />
<text x="353.1" y="179.6" font-size="11.5" text-anchor="middle" fill="#222" >**</text>
<text x="327.5" y="275.8" font-size="8.2" text-anchor="middle" fill="#1a1a1a" >LV-GFP</text>
<text x="375.3" y="275.8" font-size="8.2" text-anchor="middle" fill="#1a1a1a" >LV-shCR3</text>
<text x="300.6" y="215.8" font-size="7.6" text-anchor="middle" fill="#1a1a1a" transform="rotate(-90 300.6 215.8)" >Synapse numbers/ p er mm ²</text>
<text x="280.0" y="168.2" font-size="11.5" text-anchor="start" fill="#111" font-weight="bold" >d</text>
<rect x="456.5" y="207.3" width="19.4" height="54.5" fill="#86BDE4" stroke="#2a2a2a" stroke-width="0.9" />
<rect x="486.2" y="223.3" width="19.8" height="38.5" fill="#DB717B" stroke="#2a2a2a" stroke-width="0.9" />
<line x1="446.0" y1="174.5" x2="446.0" y2="262.2" stroke="#333" stroke-width="0.9" />
<line x1="445.6" y1="261.8" x2="516.8" y2="261.8" stroke="#333" stroke-width="0.9" />
<line x1="442.5" y1="261.8" x2="446.0" y2="261.8" stroke="#333" stroke-width="0.9" />
<text x="441.5" y="264.5" font-size="7.4" text-anchor="end" fill="#1a1a1a" >0</text>
<line x1="442.5" y1="240.1" x2="446.0" y2="240.1" stroke="#333" stroke-width="0.9" />
<text x="441.5" y="242.7" font-size="7.4" text-anchor="end" fill="#1a1a1a" >10</text>
<line x1="442.5" y1="218.4" x2="446.0" y2="218.4" stroke="#333" stroke-width="0.9" />
<text x="441.5" y="221.0" font-size="7.4" text-anchor="end" fill="#1a1a1a" >20</text>
<line x1="442.5" y1="196.6" x2="446.0" y2="196.6" stroke="#333" stroke-width="0.9" />
<text x="441.5" y="199.3" font-size="7.4" text-anchor="end" fill="#1a1a1a" >30</text>
<line x1="442.5" y1="174.9" x2="446.0" y2="174.9" stroke="#333" stroke-width="0.9" />
<text x="441.5" y="177.6" font-size="7.4" text-anchor="end" fill="#1a1a1a" >40</text>
<line x1="466.2" y1="261.8" x2="466.2" y2="264.8" stroke="#333" stroke-width="0.9" />
<line x1="466.2" y1="206.0" x2="466.2" y2="208.6" stroke="#2E6CA4" stroke-width="0.7" />
<line x1="463.7" y1="206.0" x2="468.7" y2="206.0" stroke="#2E6CA4" stroke-width="0.7" />
<line x1="463.7" y1="208.6" x2="468.7" y2="208.6" stroke="#2E6CA4" stroke-width="0.7" />
<circle cx="466.2" cy="227.0" r="1.6" fill="#2E6CA4" />
<circle cx="463.0" cy="226.9" r="1.6" fill="#2E6CA4" />
<circle cx="468.6" cy="225.2" r="1.6" fill="#2E6CA4" />
<circle cx="466.2" cy="221.6" r="1.6" fill="#2E6CA4" />
<circle cx="469.4" cy="220.5" r="1.6" fill="#2E6CA4" />
<circle cx="463.8" cy="219.7" r="1.6" fill="#2E6CA4" />
<circle cx="467.0" cy="218.9" r="1.6" fill="#2E6CA4" />
<circle cx="460.6" cy="218.8" r="1.6" fill="#2E6CA4" />
<circle cx="466.2" cy="215.6" r="1.6" fill="#2E6CA4" />
<circle cx="463.0" cy="215.5" r="1.6" fill="#2E6CA4" />
<circle cx="469.4" cy="215.1" r="1.6" fill="#2E6CA4" />
<circle cx="459.8" cy="214.3" r="1.6" fill="#2E6CA4" />
<circle cx="466.2" cy="212.0" r="1.6" fill="#2E6CA4" />
<circle cx="463.0" cy="211.9" r="1.6" fill="#2E6CA4" />
<circle cx="469.4" cy="211.1" r="1.6" fill="#2E6CA4" />
<circle cx="459.8" cy="210.5" r="1.6" fill="#2E6CA4" />
<circle cx="472.6" cy="210.1" r="1.6" fill="#2E6CA4" />
<circle cx="456.6" cy="209.8" r="1.6" fill="#2E6CA4" />
<circle cx="464.6" cy="209.4" r="1.6" fill="#2E6CA4" />
<circle cx="475.8" cy="209.3" r="1.6" fill="#2E6CA4" />
<circle cx="474.9" cy="208.8" r="1.6" fill="#2E6CA4" />
<circle cx="465.5" cy="208.8" r="1.6" fill="#2E6CA4" />
<circle cx="466.4" cy="208.6" r="1.6" fill="#2E6CA4" />
<circle cx="468.0" cy="208.6" r="1.6" fill="#2E6CA4" />
<circle cx="461.4" cy="208.0" r="1.6" fill="#2E6CA4" />
<circle cx="471.0" cy="207.1" r="1.6" fill="#2E6CA4" />
<circle cx="458.2" cy="206.8" r="1.6" fill="#2E6CA4" />
<circle cx="459.8" cy="206.8" r="1.6" fill="#2E6CA4" />
<circle cx="466.4" cy="206.7" r="1.6" fill="#2E6CA4" />
<circle cx="463.8" cy="205.8" r="1.6" fill="#2E6CA4" />
<circle cx="473.4" cy="205.5" r="1.6" fill="#2E6CA4" />
<circle cx="468.8" cy="204.9" r="1.6" fill="#2E6CA4" />
<circle cx="461.4" cy="204.2" r="1.6" fill="#2E6CA4" />
<circle cx="466.2" cy="203.3" r="1.6" fill="#2E6CA4" />
<circle cx="469.4" cy="202.1" r="1.6" fill="#2E6CA4" />
<circle cx="463.8" cy="201.5" r="1.6" fill="#2E6CA4" />
<circle cx="460.6" cy="200.9" r="1.6" fill="#2E6CA4" />
<circle cx="466.2" cy="199.6" r="1.6" fill="#2E6CA4" />
<circle cx="470.2" cy="199.4" r="1.6" fill="#2E6CA4" />
<circle cx="473.4" cy="198.9" r="1.6" fill="#2E6CA4" />
<circle cx="467.8" cy="197.1" r="1.6" fill="#2E6CA4" />
<circle cx="464.6" cy="196.6" r="1.6" fill="#2E6CA4" />
<circle cx="471.0" cy="196.1" r="1.6" fill="#2E6CA4" />
<circle cx="461.4" cy="195.9" r="1.6" fill="#2E6CA4" />
<circle cx="474.2" cy="194.7" r="1.6" fill="#2E6CA4" />
<circle cx="466.2" cy="188.7" r="1.6" fill="#2E6CA4" />
<line x1="496.1" y1="261.8" x2="496.1" y2="264.8" stroke="#333" stroke-width="0.9" />
<line x1="496.1" y1="222.3" x2="496.1" y2="224.4" stroke="#E8486B" stroke-width="0.7" />
<line x1="493.6" y1="222.3" x2="498.6" y2="222.3" stroke="#E8486B" stroke-width="0.7" />
<line x1="493.6" y1="224.4" x2="498.6" y2="224.4" stroke="#E8486B" stroke-width="0.7" />
<circle cx="496.1" cy="236.7" r="1.6" fill="#E8486B" />
<circle cx="494.5" cy="234.1" r="1.6" fill="#E8486B" />
<circle cx="496.9" cy="232.1" r="1.6" fill="#E8486B" />
<circle cx="493.7" cy="231.1" r="1.6" fill="#E8486B" />
<circle cx="496.1" cy="229.3" r="1.6" fill="#E8486B" />
<circle cx="499.3" cy="229.0" r="1.6" fill="#E8486B" />
<circle cx="492.1" cy="228.5" r="1.6" fill="#E8486B" />
<circle cx="502.5" cy="228.4" r="1.6" fill="#E8486B" />
<circle cx="488.9" cy="228.3" r="1.6" fill="#E8486B" />
<circle cx="505.7" cy="227.8" r="1.6" fill="#E8486B" />
<circle cx="485.7" cy="227.8" r="1.6" fill="#E8486B" />
<circle cx="502.2" cy="227.2" r="1.6" fill="#E8486B" />
<circle cx="487.7" cy="227.2" r="1.6" fill="#E8486B" />
<circle cx="496.1" cy="226.4" r="1.6" fill="#E8486B" />
<circle cx="499.3" cy="226.0" r="1.6" fill="#E8486B" />
<circle cx="492.9" cy="225.8" r="1.6" fill="#E8486B" />
<circle cx="489.7" cy="224.8" r="1.6" fill="#E8486B" />
<circle cx="503.3" cy="224.5" r="1.6" fill="#E8486B" />
<circle cx="486.5" cy="224.3" r="1.6" fill="#E8486B" />
<circle cx="506.5" cy="224.0" r="1.6" fill="#E8486B" />
<circle cx="496.1" cy="222.9" r="1.6" fill="#E8486B" />
<circle cx="492.9" cy="222.4" r="1.6" fill="#E8486B" />
<circle cx="499.3" cy="222.2" r="1.6" fill="#E8486B" />
<circle cx="492.0" cy="222.2" r="1.6" fill="#E8486B" />
<circle cx="502.5" cy="221.2" r="1.6" fill="#E8486B" />
<circle cx="488.9" cy="221.1" r="1.6" fill="#E8486B" />
<circle cx="505.7" cy="220.5" r="1.6" fill="#E8486B" />
<circle cx="495.3" cy="220.2" r="1.6" fill="#E8486B" />
<circle cx="485.7" cy="219.7" r="1.6" fill="#E8486B" />
<circle cx="487.6" cy="219.7" r="1.6" fill="#E8486B" />
<circle cx="498.5" cy="219.4" r="1.6" fill="#E8486B" />
<circle cx="492.1" cy="219.1" r="1.6" fill="#E8486B" />
<circle cx="496.1" cy="216.5" r="1.6" fill="#E8486B" />
<circle cx="492.9" cy="216.1" r="1.6" fill="#E8486B" />
<circle cx="498.5" cy="214.8" r="1.6" fill="#E8486B" />
<circle cx="496.1" cy="213.3" r="1.6" fill="#E8486B" />
<circle cx="492.9" cy="212.4" r="1.6" fill="#E8486B" />
<circle cx="498.5" cy="211.5" r="1.6" fill="#E8486B" />
<circle cx="496.1" cy="209.5" r="1.6" fill="#E8486B" />
<circle cx="496.1" cy="206.7" r="1.6" fill="#E8486B" />
<line x1="466.0" y1="180.7" x2="496.2" y2="180.7" stroke="#444" stroke-width="0.9" />
<text x="481.1" y="181.6" font-size="11.5" text-anchor="middle" fill="#222" >****</text>
<text x="465.7" y="275.8" font-size="7.9" text-anchor="middle" fill="#1a1a1a" >LV-GFP</text>
<text x="502.8" y="275.8" font-size="7.9" text-anchor="middle" fill="#1a1a1a" >LV-shCR3</text>
<text x="427.8" y="220.0" font-size="7.7" text-anchor="middle" fill="#1a1a1a" transform="rotate(-90 427.8 220.0)" >The width of synaptic cleft (nm)</text>
<text x="406.0" y="168.2" font-size="11.5" text-anchor="start" fill="#111" font-weight="bold" >e</text>
<rect x="587.1" y="229.1" width="22.1" height="33.2" fill="#86BDE4" stroke="#2a2a2a" stroke-width="0.9" />
<rect x="620.5" y="209.3" width="22.1" height="53.0" fill="#DB717B" stroke="#2a2a2a" stroke-width="0.9" />
<line x1="575.8" y1="167.7" x2="575.8" y2="262.7" stroke="#333" stroke-width="0.9" />
<line x1="575.4" y1="262.3" x2="653.7" y2="262.3" stroke="#333" stroke-width="0.9" />
<line x1="572.3" y1="262.3" x2="575.8" y2="262.3" stroke="#333" stroke-width="0.9" />
<text x="571.3" y="265.1" font-size="7.8" text-anchor="end" fill="#1a1a1a" >0</text>
<line x1="572.3" y1="238.8" x2="575.8" y2="238.8" stroke="#333" stroke-width="0.9" />
<text x="571.3" y="241.6" font-size="7.8" text-anchor="end" fill="#1a1a1a" >20</text>
<line x1="572.3" y1="215.2" x2="575.8" y2="215.2" stroke="#333" stroke-width="0.9" />
<text x="571.3" y="218.0" font-size="7.8" text-anchor="end" fill="#1a1a1a" >40</text>
<line x1="572.3" y1="191.7" x2="575.8" y2="191.7" stroke="#333" stroke-width="0.9" />
<text x="571.3" y="194.5" font-size="7.8" text-anchor="end" fill="#1a1a1a" >60</text>
<line x1="572.3" y1="168.1" x2="575.8" y2="168.1" stroke="#333" stroke-width="0.9" />
<text x="571.3" y="170.9" font-size="7.8" text-anchor="end" fill="#1a1a1a" >80</text>
<line x1="598.2" y1="262.3" x2="598.2" y2="265.3" stroke="#333" stroke-width="0.9" />
<line x1="598.2" y1="227.8" x2="598.2" y2="230.4" stroke="#2E6CA4" stroke-width="0.7" />
<line x1="595.7" y1="227.8" x2="600.7" y2="227.8" stroke="#2E6CA4" stroke-width="0.7" />
<line x1="595.7" y1="230.4" x2="600.7" y2="230.4" stroke="#2E6CA4" stroke-width="0.7" />
<circle cx="598.2" cy="247.3" r="1.7" fill="#2E6CA4" />
<circle cx="594.8" cy="246.3" r="1.7" fill="#2E6CA4" />
<circle cx="601.6" cy="246.0" r="1.7" fill="#2E6CA4" />
<circle cx="598.2" cy="239.9" r="1.7" fill="#2E6CA4" />
<circle cx="600.7" cy="238.4" r="1.7" fill="#2E6CA4" />
<circle cx="595.6" cy="237.8" r="1.7" fill="#2E6CA4" />
<circle cx="604.1" cy="237.5" r="1.7" fill="#2E6CA4" />
<circle cx="598.2" cy="236.0" r="1.7" fill="#2E6CA4" />
<circle cx="600.7" cy="234.4" r="1.7" fill="#2E6CA4" />
<circle cx="596.5" cy="233.5" r="1.7" fill="#2E6CA4" />
<circle cx="593.1" cy="233.2" r="1.7" fill="#2E6CA4" />
<circle cx="603.3" cy="232.7" r="1.7" fill="#2E6CA4" />
<circle cx="606.7" cy="232.7" r="1.7" fill="#2E6CA4" />
<circle cx="589.7" cy="232.6" r="1.7" fill="#2E6CA4" />
<circle cx="599.0" cy="231.9" r="1.7" fill="#2E6CA4" />
<circle cx="605.3" cy="231.7" r="1.7" fill="#2E6CA4" />
<circle cx="602.6" cy="231.7" r="1.7" fill="#2E6CA4" />
<circle cx="587.6" cy="231.6" r="1.7" fill="#2E6CA4" />
<circle cx="609.3" cy="231.5" r="1.7" fill="#2E6CA4" />
<circle cx="608.9" cy="231.4" r="1.7" fill="#2E6CA4" />
<circle cx="601.7" cy="230.9" r="1.7" fill="#2E6CA4" />
<circle cx="595.6" cy="230.5" r="1.7" fill="#2E6CA4" />
<circle cx="592.2" cy="229.8" r="1.7" fill="#2E6CA4" />
<circle cx="598.2" cy="228.6" r="1.7" fill="#2E6CA4" />
<circle cx="603.3" cy="228.3" r="1.7" fill="#2E6CA4" />
<circle cx="589.7" cy="228.3" r="1.7" fill="#2E6CA4" />
<circle cx="606.7" cy="227.6" r="1.7" fill="#2E6CA4" />
<circle cx="594.8" cy="227.5" r="1.7" fill="#2E6CA4" />
<circle cx="600.8" cy="227.4" r="1.7" fill="#2E6CA4" />
<circle cx="590.2" cy="227.2" r="1.7" fill="#2E6CA4" />
<circle cx="586.9" cy="227.0" r="1.7" fill="#2E6CA4" />
<circle cx="598.8" cy="226.5" r="1.7" fill="#2E6CA4" />
<circle cx="609.2" cy="225.7" r="1.7" fill="#2E6CA4" />
<circle cx="603.3" cy="225.2" r="1.7" fill="#2E6CA4" />
<circle cx="597.3" cy="223.7" r="1.7" fill="#2E6CA4" />
<circle cx="600.7" cy="223.6" r="1.7" fill="#2E6CA4" />
<circle cx="593.9" cy="223.6" r="1.7" fill="#2E6CA4" />
<circle cx="590.5" cy="223.6" r="1.7" fill="#2E6CA4" />
<circle cx="605.8" cy="223.4" r="1.7" fill="#2E6CA4" />
<circle cx="598.2" cy="220.3" r="1.7" fill="#2E6CA4" />
<circle cx="600.7" cy="218.4" r="1.7" fill="#2E6CA4" />
<circle cx="598.2" cy="213.3" r="1.7" fill="#2E6CA4" />
<circle cx="601.6" cy="213.2" r="1.7" fill="#2E6CA4" />
<circle cx="594.8" cy="212.0" r="1.7" fill="#2E6CA4" />
<circle cx="604.1" cy="211.3" r="1.7" fill="#2E6CA4" />
<circle cx="598.2" cy="209.8" r="1.7" fill="#2E6CA4" />
<line x1="631.5" y1="262.3" x2="631.5" y2="265.3" stroke="#333" stroke-width="0.9" />
<line x1="631.5" y1="207.8" x2="631.5" y2="210.8" stroke="#E8486B" stroke-width="0.7" />
<line x1="629.0" y1="207.8" x2="634.0" y2="207.8" stroke="#E8486B" stroke-width="0.7" />
<line x1="629.0" y1="210.8" x2="634.0" y2="210.8" stroke="#E8486B" stroke-width="0.7" />
<circle cx="631.5" cy="226.6" r="1.7" fill="#E8486B" />
<circle cx="628.1" cy="225.3" r="1.7" fill="#E8486B" />
<circle cx="631.5" cy="223.6" r="1.7" fill="#E8486B" />
<circle cx="634.9" cy="223.4" r="1.7" fill="#E8486B" />
<circle cx="625.6" cy="223.1" r="1.7" fill="#E8486B" />
<circle cx="629.8" cy="220.9" r="1.7" fill="#E8486B" />
<circle cx="633.2" cy="220.7" r="1.7" fill="#E8486B" />
<circle cx="627.3" cy="219.0" r="1.7" fill="#E8486B" />
<circle cx="635.8" cy="219.0" r="1.7" fill="#E8486B" />
<circle cx="631.5" cy="218.2" r="1.7" fill="#E8486B" />
<circle cx="634.1" cy="216.5" r="1.7" fill="#E8486B" />
<circle cx="629.0" cy="216.2" r="1.7" fill="#E8486B" />
<circle cx="637.5" cy="216.1" r="1.7" fill="#E8486B" />
<circle cx="625.6" cy="215.2" r="1.7" fill="#E8486B" />
<circle cx="640.9" cy="214.9" r="1.7" fill="#E8486B" />
<circle cx="631.5" cy="214.2" r="1.7" fill="#E8486B" />
<circle cx="634.9" cy="212.7" r="1.7" fill="#E8486B" />
<circle cx="629.0" cy="212.3" r="1.7" fill="#E8486B" />
<circle cx="625.6" cy="211.3" r="1.7" fill="#E8486B" />
<circle cx="631.5" cy="210.0" r="1.7" fill="#E8486B" />
<circle cx="634.9" cy="208.7" r="1.7" fill="#E8486B" />
<circle cx="629.0" cy="208.0" r="1.7" fill="#E8486B" />
<circle cx="631.5" cy="206.1" r="1.7" fill="#E8486B" />
<circle cx="634.9" cy="205.6" r="1.7" fill="#E8486B" />
<circle cx="628.1" cy="205.1" r="1.7" fill="#E8486B" />
<circle cx="624.8" cy="205.0" r="1.7" fill="#E8486B" />
<circle cx="638.3" cy="204.3" r="1.7" fill="#E8486B" />
<circle cx="621.3" cy="204.3" r="1.7" fill="#E8486B" />
<circle cx="641.8" cy="203.7" r="1.7" fill="#E8486B" />
<circle cx="621.4" cy="203.7" r="1.7" fill="#E8486B" />
<circle cx="624.4" cy="203.7" r="1.7" fill="#E8486B" />
<circle cx="625.6" cy="203.2" r="1.7" fill="#E8486B" />
<circle cx="631.5" cy="199.4" r="1.7" fill="#E8486B" />
<circle cx="628.1" cy="199.4" r="1.7" fill="#E8486B" />
<circle cx="634.9" cy="198.8" r="1.7" fill="#E8486B" />
<circle cx="624.8" cy="198.6" r="1.7" fill="#E8486B" />
<circle cx="629.8" cy="196.8" r="1.7" fill="#E8486B" />
<circle cx="637.5" cy="196.4" r="1.7" fill="#E8486B" />
<circle cx="633.2" cy="196.0" r="1.7" fill="#E8486B" />
<circle cx="627.3" cy="194.8" r="1.7" fill="#E8486B" />
<circle cx="630.7" cy="194.0" r="1.7" fill="#E8486B" />
<circle cx="635.8" cy="193.7" r="1.7" fill="#E8486B" />
<circle cx="631.5" cy="190.9" r="1.7" fill="#E8486B" />
<circle cx="628.1" cy="190.8" r="1.7" fill="#E8486B" />
<line x1="598.4" y1="175.4" x2="631.1" y2="175.4" stroke="#444" stroke-width="0.9" />
<text x="614.8" y="175.8" font-size="11.5" text-anchor="middle" fill="#222" >****</text>
<text x="587.5" y="277.0" font-size="8.5" text-anchor="middle" fill="#1a1a1a" >LV-GFP</text>
<text x="636.7" y="277.0" font-size="8.5" text-anchor="middle" fill="#1a1a1a" >LV-shCR3</text>
<text x="541.8" y="212.8" font-size="7.9" text-anchor="middle" fill="#1a1a1a" transform="rotate(-90 541.8 212.8)" >The thickness of</text>
<text x="556.1" y="213.8" font-size="7.9" text-anchor="middle" fill="#1a1a1a" transform="rotate(-90 556.1 213.8)" >postsynaptic density (nm)</text>
<text x="528.6" y="168.2" font-size="11.5" text-anchor="start" fill="#111" font-weight="bold" >f</text>
<rect x="330.3" y="334.5" width="20.3" height="45.5" fill="#86BDE4" stroke="#2a2a2a" stroke-width="0.9" />
<rect x="361.2" y="323.2" width="20.3" height="56.8" fill="#DB717B" stroke="#2a2a2a" stroke-width="0.9" />
<line x1="319.7" y1="295.9" x2="319.7" y2="380.4" stroke="#333" stroke-width="0.9" />
<line x1="319.3" y1="380.0" x2="391.3" y2="380.0" stroke="#333" stroke-width="0.9" />
<line x1="316.2" y1="380.0" x2="319.7" y2="380.0" stroke="#333" stroke-width="0.9" />
<text x="316.0" y="382.6" font-size="7.2" text-anchor="end" fill="#1a1a1a" >0</text>
<line x1="316.2" y1="359.1" x2="319.7" y2="359.1" stroke="#333" stroke-width="0.9" />
<text x="316.0" y="361.7" font-size="7.2" text-anchor="end" fill="#1a1a1a" >0.2</text>
<line x1="316.2" y1="338.1" x2="319.7" y2="338.1" stroke="#333" stroke-width="0.9" />
<text x="316.0" y="340.7" font-size="7.2" text-anchor="end" fill="#1a1a1a" >0.4</text>
<line x1="316.2" y1="317.2" x2="319.7" y2="317.2" stroke="#333" stroke-width="0.9" />
<text x="316.0" y="319.8" font-size="7.2" text-anchor="end" fill="#1a1a1a" >0.6</text>
<line x1="316.2" y1="296.3" x2="319.7" y2="296.3" stroke="#333" stroke-width="0.9" />
<text x="316.0" y="298.9" font-size="7.2" text-anchor="end" fill="#1a1a1a" >0.8</text>
<line x1="340.5" y1="380.0" x2="340.5" y2="383.0" stroke="#333" stroke-width="0.9" />
<line x1="340.5" y1="331.9" x2="340.5" y2="337.0" stroke="#2E6CA4" stroke-width="0.7" />
<line x1="338.0" y1="331.9" x2="343.0" y2="331.9" stroke="#2E6CA4" stroke-width="0.7" />
<line x1="338.0" y1="337.0" x2="343.0" y2="337.0" stroke="#2E6CA4" stroke-width="0.7" />
<circle cx="340.5" cy="347.6" r="1.6" fill="#2E6CA4" />
<circle cx="340.5" cy="340.2" r="1.6" fill="#2E6CA4" />
<circle cx="340.5" cy="337.1" r="1.6" fill="#2E6CA4" />
<circle cx="338.1" cy="335.0" r="1.6" fill="#2E6CA4" />
<circle cx="340.5" cy="332.9" r="1.6" fill="#2E6CA4" />
<circle cx="337.3" cy="331.9" r="1.6" fill="#2E6CA4" />
<circle cx="340.5" cy="327.7" r="1.6" fill="#2E6CA4" />
<circle cx="340.5" cy="324.5" r="1.6" fill="#2E6CA4" />
<line x1="371.4" y1="380.0" x2="371.4" y2="383.0" stroke="#333" stroke-width="0.9" />
<line x1="371.4" y1="320.1" x2="371.4" y2="326.3" stroke="#E8486B" stroke-width="0.7" />
<line x1="368.9" y1="320.1" x2="373.9" y2="320.1" stroke="#E8486B" stroke-width="0.7" />
<line x1="368.9" y1="326.3" x2="373.9" y2="326.3" stroke="#E8486B" stroke-width="0.7" />
<circle cx="371.4" cy="338.1" r="1.6" fill="#E8486B" />
<circle cx="371.4" cy="330.8" r="1.6" fill="#E8486B" />
<circle cx="371.4" cy="325.6" r="1.6" fill="#E8486B" />
<circle cx="369.0" cy="323.5" r="1.6" fill="#E8486B" />
<circle cx="371.4" cy="319.3" r="1.6" fill="#E8486B" />
<circle cx="368.2" cy="318.8" r="1.6" fill="#E8486B" />
<circle cx="374.6" cy="318.3" r="1.6" fill="#E8486B" />
<circle cx="371.4" cy="308.9" r="1.6" fill="#E8486B" />
<line x1="340.3" y1="299.1" x2="371.7" y2="299.1" stroke="#444" stroke-width="0.9" />
<text x="356.0" y="298.6" font-size="11.5" text-anchor="middle" fill="#222" >**</text>
<text x="335.3" y="393.2" font-size="7.6" text-anchor="middle" fill="#1a1a1a" >LV-GFP</text>
<text x="369.7" y="393.2" font-size="7.6" text-anchor="middle" fill="#1a1a1a" >LV-shCR3</text>
<text x="301.8" y="334.6" font-size="7.6" text-anchor="middle" fill="#1a1a1a" transform="rotate(-90 301.8 334.6)" >AMPA/NMDA RATIO</text>
<text x="279.5" y="295.8" font-size="11.5" text-anchor="start" fill="#111" font-weight="bold" >h</text>
<rect x="454.8" y="327.7" width="20.1" height="51.3" fill="#86BDE4" stroke="#2a2a2a" stroke-width="0.9" />
<rect x="485.4" y="314.2" width="20.1" height="64.8" fill="#DB717B" stroke="#2a2a2a" stroke-width="0.9" />
<line x1="444.5" y1="291.7" x2="444.5" y2="379.4" stroke="#333" stroke-width="0.9" />
<line x1="444.1" y1="379.0" x2="516.1" y2="379.0" stroke="#333" stroke-width="0.9" />
<line x1="441.0" y1="379.0" x2="444.5" y2="379.0" stroke="#333" stroke-width="0.9" />
<text x="440.2" y="381.6" font-size="7.2" text-anchor="end" fill="#1a1a1a" >0</text>
<line x1="441.0" y1="361.6" x2="444.5" y2="361.6" stroke="#333" stroke-width="0.9" />
<text x="440.2" y="364.2" font-size="7.2" text-anchor="end" fill="#1a1a1a" >50</text>
<line x1="441.0" y1="344.2" x2="444.5" y2="344.2" stroke="#333" stroke-width="0.9" />
<text x="440.2" y="346.8" font-size="7.2" text-anchor="end" fill="#1a1a1a" >100</text>
<line x1="441.0" y1="326.9" x2="444.5" y2="326.9" stroke="#333" stroke-width="0.9" />
<text x="440.2" y="329.5" font-size="7.2" text-anchor="end" fill="#1a1a1a" >150</text>
<line x1="441.0" y1="309.5" x2="444.5" y2="309.5" stroke="#333" stroke-width="0.9" />
<text x="440.2" y="312.1" font-size="7.2" text-anchor="end" fill="#1a1a1a" >200</text>
<line x1="441.0" y1="292.1" x2="444.5" y2="292.1" stroke="#333" stroke-width="0.9" />
<text x="440.2" y="294.7" font-size="7.2" text-anchor="end" fill="#1a1a1a" >250</text>
<line x1="464.9" y1="379.0" x2="464.9" y2="382.0" stroke="#333" stroke-width="0.9" />
<line x1="464.9" y1="321.6" x2="464.9" y2="333.9" stroke="#2E6CA4" stroke-width="0.7" />
<line x1="462.4" y1="321.6" x2="467.4" y2="321.6" stroke="#2E6CA4" stroke-width="0.7" />
<line x1="462.4" y1="333.9" x2="467.4" y2="333.9" stroke="#2E6CA4" stroke-width="0.7" />
<circle cx="464.9" cy="352.6" r="1.6" fill="#2E6CA4" />
<circle cx="464.9" cy="341.8" r="1.6" fill="#2E6CA4" />
<circle cx="464.9" cy="338.3" r="1.6" fill="#2E6CA4" />
<circle cx="464.9" cy="333.8" r="1.6" fill="#2E6CA4" />
<circle cx="464.9" cy="326.2" r="1.6" fill="#2E6CA4" />
<circle cx="464.9" cy="315.7" r="1.6" fill="#2E6CA4" />
<circle cx="467.2" cy="314.0" r="1.6" fill="#2E6CA4" />
<circle cx="464.9" cy="299.4" r="1.6" fill="#2E6CA4" />
<line x1="495.4" y1="379.0" x2="495.4" y2="382.0" stroke="#333" stroke-width="0.9" />
<line x1="495.4" y1="310.9" x2="495.4" y2="317.4" stroke="#E8486B" stroke-width="0.7" />
<line x1="492.9" y1="310.9" x2="497.9" y2="310.9" stroke="#E8486B" stroke-width="0.7" />
<line x1="492.9" y1="317.4" x2="497.9" y2="317.4" stroke="#E8486B" stroke-width="0.7" />
<circle cx="495.4" cy="327.9" r="1.6" fill="#E8486B" />
<circle cx="494.6" cy="325.1" r="1.6" fill="#E8486B" />
<circle cx="495.4" cy="320.6" r="1.6" fill="#E8486B" />
<circle cx="495.4" cy="314.7" r="1.6" fill="#E8486B" />
<circle cx="496.2" cy="311.9" r="1.6" fill="#E8486B" />
<circle cx="493.1" cy="311.9" r="1.6" fill="#E8486B" />
<circle cx="495.4" cy="305.0" r="1.6" fill="#E8486B" />
<circle cx="495.4" cy="301.8" r="1.6" fill="#E8486B" />
<text x="459.9" y="391.5" font-size="7.4" text-anchor="middle" fill="#1a1a1a" >LV-GFP</text>
<text x="493.3" y="391.5" font-size="7.4" text-anchor="middle" fill="#1a1a1a" >LV-shCR3</text>
<text x="424.4" y="334.8" font-size="7.2" text-anchor="middle" fill="#1a1a1a" transform="rotate(-90 424.4 334.8)" >AMPA- eEPSCs (pA)</text>
<text x="408.3" y="295.8" font-size="11.5" text-anchor="start" fill="#111" font-weight="bold" >i</text>
<rect x="590.9" y="315.5" width="20.6" height="65.3" fill="#86BDE4" stroke="#2a2a2a" stroke-width="0.9" />
<rect x="622.3" y="315.5" width="20.6" height="65.3" fill="#DB717B" stroke="#2a2a2a" stroke-width="0.9" />
<line x1="580.1" y1="296.4" x2="580.1" y2="381.2" stroke="#333" stroke-width="0.9" />
<line x1="579.7" y1="380.8" x2="653.7" y2="380.8" stroke="#333" stroke-width="0.9" />
<line x1="576.6" y1="380.8" x2="580.1" y2="380.8" stroke="#333" stroke-width="0.9" />
<text x="575.3" y="383.4" font-size="7.2" text-anchor="end" fill="#1a1a1a" >0</text>
<line x1="576.6" y1="359.8" x2="580.1" y2="359.8" stroke="#333" stroke-width="0.9" />
<text x="575.3" y="362.4" font-size="7.2" text-anchor="end" fill="#1a1a1a" >100</text>
<line x1="576.6" y1="338.8" x2="580.1" y2="338.8" stroke="#333" stroke-width="0.9" />
<text x="575.3" y="341.4" font-size="7.2" text-anchor="end" fill="#1a1a1a" >200</text>
<line x1="576.6" y1="317.8" x2="580.1" y2="317.8" stroke="#333" stroke-width="0.9" />
<text x="575.3" y="320.4" font-size="7.2" text-anchor="end" fill="#1a1a1a" >300</text>
<line x1="576.6" y1="296.8" x2="580.1" y2="296.8" stroke="#333" stroke-width="0.9" />
<text x="575.3" y="299.4" font-size="7.2" text-anchor="end" fill="#1a1a1a" >400</text>
<line x1="601.2" y1="380.8" x2="601.2" y2="383.8" stroke="#333" stroke-width="0.9" />
<line x1="601.2" y1="312.3" x2="601.2" y2="318.6" stroke="#2E6CA4" stroke-width="0.7" />
<line x1="598.7" y1="312.3" x2="603.7" y2="312.3" stroke="#2E6CA4" stroke-width="0.7" />
<line x1="598.7" y1="318.6" x2="603.7" y2="318.6" stroke="#2E6CA4" stroke-width="0.7" />
<circle cx="601.2" cy="329.4" r="1.6" fill="#2E6CA4" />
<circle cx="601.2" cy="322.0" r="1.6" fill="#2E6CA4" />
<circle cx="603.6" cy="319.9" r="1.6" fill="#2E6CA4" />
<circle cx="601.2" cy="317.8" r="1.6" fill="#2E6CA4" />
<circle cx="604.4" cy="316.8" r="1.6" fill="#2E6CA4" />
<circle cx="601.2" cy="311.5" r="1.6" fill="#2E6CA4" />
<circle cx="601.2" cy="304.8" r="1.6" fill="#2E6CA4" />
<circle cx="598.8" cy="302.7" r="1.6" fill="#2E6CA4" />
<line x1="632.6" y1="380.8" x2="632.6" y2="383.8" stroke="#333" stroke-width="0.9" />
<line x1="632.6" y1="312.6" x2="632.6" y2="318.4" stroke="#E8486B" stroke-width="0.7" />
<line x1="630.1" y1="312.6" x2="635.1" y2="312.6" stroke="#E8486B" stroke-width="0.7" />
<line x1="630.1" y1="318.4" x2="635.1" y2="318.4" stroke="#E8486B" stroke-width="0.7" />
<circle cx="632.6" cy="324.5" r="1.6" fill="#E8486B" />
<circle cx="629.4" cy="324.1" r="1.6" fill="#E8486B" />
<circle cx="632.6" cy="318.9" r="1.6" fill="#E8486B" />
<circle cx="629.4" cy="317.8" r="1.6" fill="#E8486B" />
<circle cx="632.6" cy="313.2" r="1.6" fill="#E8486B" />
<circle cx="629.4" cy="312.6" r="1.6" fill="#E8486B" />
<circle cx="632.6" cy="304.2" r="1.6" fill="#E8486B" />
<circle cx="629.4" cy="303.1" r="1.6" fill="#E8486B" />
<text x="598.6" y="393.2" font-size="7.9" text-anchor="middle" fill="#1a1a1a" >LV-GFP</text>
<text x="632.2" y="393.2" font-size="7.9" text-anchor="middle" fill="#1a1a1a" >LV-shCR3</text>
<text x="556.4" y="335.3" font-size="7.6" text-anchor="middle" fill="#1a1a1a" transform="rotate(-90 556.4 335.3)" >NMDA- eEPSCs (pA)</text>
<text x="529.0" y="295.8" font-size="11.5" text-anchor="start" fill="#111" font-weight="bold" >j</text>
<text x="1.0" y="298.8" font-size="11.5" text-anchor="start" fill="#111" font-weight="bold" >g</text>
<text x="87.2" y="302.2" font-size="9.2" text-anchor="middle" fill="#5BB3E4" >LV-GFP</text>
<text x="238.2" y="302.2" font-size="9.2" text-anchor="middle" fill="#E0596A" >LV-shCR3</text>
<polygon points="28.9,386.2 29.4,385.6 29.9,385.9 30.4,385.7 30.9,386.2 31.4,385.5 31.9,385.6 32.4,385.9 32.9,382.9 33.4,377.0 33.9,372.5 34.4,366.9 34.9,363.3 35.4,359.2 35.9,354.6 36.4,353.0 36.9,351.8 37.4,350.6 37.9,349.0 38.4,347.1 38.9,345.6 39.4,345.3 39.9,344.2 40.4,344.3 40.9,344.7 41.4,345.5 41.9,345.4 42.4,346.0 42.9,346.8 43.4,346.4 43.9,347.3 44.4,347.2 44.9,347.8 45.4,347.9 45.9,348.1 46.4,348.4 46.9,349.0 47.4,348.4 47.9,349.2 48.4,349.3 48.9,349.3 49.4,349.4 49.9,350.0 50.4,350.1 50.9,350.6 51.4,350.2 51.9,350.6 52.4,350.8 52.9,351.1 53.4,351.5 53.9,352.2 54.4,351.9 54.9,352.2 55.4,352.6 55.9,352.7 56.4,352.8 56.9,353.6 57.4,353.7 57.9,353.3 58.4,353.5 58.9,354.1 59.4,353.8 59.9,354.6 60.4,354.1 60.9,354.8 61.4,354.7 61.9,355.0 62.4,355.2 62.9,354.8 63.4,355.3 63.9,355.7 64.4,355.5 64.9,355.9 65.4,355.7 65.9,355.8 66.4,356.4 66.9,356.5 67.4,356.6 67.9,356.3 68.4,356.8 68.9,356.4 69.4,357.1 69.9,357.1 70.4,357.3 70.9,357.7 71.4,357.0 71.9,357.7 72.4,357.9 72.9,357.6 73.4,358.2 73.9,357.8 74.4,358.0 74.9,358.3 75.4,358.2 75.9,358.5 76.4,358.9 76.9,359.2 77.4,359.1 77.9,359.5 78.4,359.5 78.9,359.6 79.4,359.2 79.9,359.9 80.4,359.3 80.9,360.0 81.4,359.9 81.9,359.7 82.4,359.9 82.9,360.4 83.4,360.7 83.9,361.0 84.4,360.4 84.9,360.6 85.4,360.7 85.9,361.2 86.4,360.9 86.9,360.9 87.4,361.8 87.9,361.9 88.4,362.1 88.9,361.6 89.4,362.1 89.9,361.8 90.4,362.1 90.9,362.7 91.4,362.1 91.9,362.2 92.4,362.9 92.9,362.5 93.4,362.8 93.9,363.4 94.4,363.6 94.9,362.8 95.4,363.8 95.9,363.8 96.4,364.0 96.9,363.9 97.4,363.5 97.9,364.2 98.4,364.5 98.9,364.7 99.4,363.9 99.9,364.4 100.4,364.8 100.9,364.3 101.4,364.4 101.9,365.1 102.4,364.5 102.9,364.9 103.4,365.3 103.9,365.3 104.4,365.6 104.9,364.9 105.4,365.3 105.9,365.1 106.4,365.7 106.9,365.8 107.4,365.4 107.9,365.9 108.4,365.8 108.9,366.2 109.4,366.3 109.9,366.1 110.4,366.6 110.9,366.4 111.4,366.3 111.9,366.7 112.4,366.2 112.9,366.2 113.4,366.4 113.9,366.4 114.4,367.1 114.9,366.5 115.4,366.6 115.9,366.7 116.4,367.3 116.9,366.9 117.4,366.9 117.9,367.2 118.4,367.5 118.9,367.3 119.4,367.8 119.9,367.2 120.4,367.7 120.9,367.5 121.4,367.9 121.9,368.1 122.4,367.8 122.9,367.9 123.4,368.2 123.9,368.4 124.4,367.9 124.9,368.3 125.4,368.5 125.9,368.3 126.4,368.2 126.9,368.3 127.4,368.7 127.9,368.6 128.4,368.7 128.9,368.3 129.4,368.9 129.9,369.2 130.4,368.8 130.9,369.2 131.4,368.6 131.9,368.8 132.4,369.1 132.9,368.9 133.4,368.8 133.9,368.8 134.4,369.5 134.9,369.5 135.4,369.1 135.9,369.2 136.4,369.6 136.9,369.8 137.4,370.0 137.9,369.3 137.9,374.2 137.4,374.5 136.9,374.2 136.4,374.0 135.9,374.1 135.4,373.4 134.9,373.9 134.4,373.5 133.9,373.7 133.4,374.0 132.9,373.7 132.4,373.7 131.9,373.8 131.4,373.2 130.9,373.6 130.4,373.6 129.9,372.9 129.4,373.3 128.9,373.5 128.4,373.1 127.9,372.8 127.4,373.0 126.9,373.1 126.4,372.8 125.9,372.8 125.4,372.3 124.9,372.8 124.4,372.6 123.9,372.4 123.4,372.2 122.9,372.1 122.4,372.4 121.9,372.0 121.4,372.2 120.9,372.2 120.4,372.3 119.9,372.4 119.4,371.7 118.9,372.1 118.4,371.6 117.9,371.5 117.4,372.0 116.9,372.0 116.4,372.0 115.9,371.1 115.4,371.1 114.9,371.2 114.4,371.3 113.9,371.1 113.4,371.6 112.9,370.8 112.4,370.6 111.9,370.9 111.4,371.2 110.9,371.0 110.4,370.8 109.9,370.2 109.4,370.1 108.9,370.0 108.4,370.5 107.9,370.3 107.4,370.0 106.9,370.4 106.4,369.9 105.9,369.9 105.4,370.0 104.9,369.8 104.4,369.6 103.9,369.4 103.4,369.6 102.9,369.7 102.4,369.5 101.9,369.5 101.4,368.9 100.9,369.6 100.4,368.7 99.9,369.0 99.4,368.7 98.9,368.3 98.4,368.8 97.9,368.5 97.4,368.2 96.9,368.7 96.4,368.5 95.9,368.3 95.4,367.6 94.9,367.7 94.4,367.4 93.9,367.9 93.4,367.1 92.9,366.9 92.4,367.4 91.9,367.0 91.4,367.0 90.9,366.6 90.4,366.4 89.9,366.5 89.4,366.6 88.9,366.6 88.4,366.5 87.9,365.7 87.4,366.0 86.9,366.2 86.4,365.8 85.9,365.4 85.4,365.4 84.9,365.4 84.4,365.0 83.9,364.8 83.4,365.2 82.9,365.3 82.4,364.9 81.9,364.5 81.4,364.8 80.9,364.1 80.4,364.5 79.9,364.0 79.4,363.6 78.9,364.2 78.4,363.8 77.9,363.8 77.4,363.3 76.9,363.6 76.4,363.2 75.9,363.2 75.4,363.5 74.9,362.6 74.4,363.2 73.9,362.2 73.4,362.0 72.9,362.3 72.4,362.6 71.9,362.4 71.4,362.3 70.9,361.6 70.4,361.7 69.9,361.6 69.4,361.5 68.9,361.2 68.4,361.5 67.9,361.0 67.4,361.0 66.9,360.8 66.4,360.1 65.9,360.6 65.4,359.9 64.9,360.4 64.4,359.6 63.9,359.7 63.4,359.6 62.9,359.5 62.4,359.2 61.9,359.2 61.4,358.7 60.9,359.0 60.4,358.6 59.9,358.2 59.4,358.1 58.9,358.7 58.4,358.5 57.9,358.3 57.4,357.9 56.9,357.4 56.4,357.4 55.9,357.3 55.4,356.8 54.9,356.7 54.4,356.2 53.9,356.6 53.4,356.0 52.9,355.8 52.4,355.8 51.9,355.7 51.4,354.7 50.9,355.0 50.4,354.7 49.9,354.9 49.4,354.0 48.9,354.1 48.4,354.2 47.9,353.3 47.4,353.4 46.9,353.3 46.4,352.5 45.9,352.6 45.4,352.7 44.9,352.1 44.4,352.0 43.9,351.6 43.4,351.1 42.9,350.6 42.4,350.6 41.9,350.5 41.4,350.0 40.9,349.7 40.4,349.1 39.9,349.1 39.4,349.3 38.9,350.9 38.4,351.5 37.9,352.0 37.4,352.7 36.9,354.2 36.4,355.2 35.9,357.2 35.4,361.2 34.9,365.6 34.4,369.8 33.9,374.0 33.4,378.9 32.9,385.0 32.4,387.9 31.9,387.3 31.4,387.7 30.9,387.3 30.4,388.0 29.9,387.7 29.4,387.5 28.9,388.1" fill="#0a0a0a"/>
<polygon points="28.9,387.1 29.4,387.9 29.9,387.2 30.4,387.4 30.9,387.5 31.4,387.5 31.9,387.6 32.4,387.3 32.9,385.3 33.4,382.7 33.9,380.1 34.4,377.4 34.9,375.8 35.4,374.1 35.9,372.7 36.4,371.9 36.9,371.1 37.4,369.7 37.9,369.2 38.4,369.5 38.9,369.6 39.4,370.1 39.9,369.7 40.4,370.0 40.9,370.4 41.4,370.5 41.9,370.6 42.4,370.9 42.9,370.5 43.4,371.0 43.9,371.0 44.4,371.5 44.9,371.2 45.4,371.2 45.9,371.3 46.4,371.4 46.9,371.9 47.4,371.9 47.9,372.3 48.4,372.2 48.9,372.3 49.4,372.2 49.9,372.2 50.4,372.5 50.9,372.7 51.4,373.2 51.9,373.4 52.4,372.9 52.9,373.6 53.4,373.5 53.9,374.0 54.4,374.0 54.9,374.2 55.4,374.3 55.9,374.5 56.4,373.9 56.9,374.5 57.4,374.5 57.9,374.1 58.4,375.0 58.9,374.6 59.4,375.2 59.9,375.4 60.4,374.8 60.9,374.8 61.4,375.0 61.9,375.5 62.4,375.4 62.9,376.0 63.4,375.4 63.9,375.7 64.4,375.8 64.9,375.4 65.4,375.8 65.9,376.4 66.4,376.3 66.9,376.5 67.4,376.4 67.9,376.1 68.4,375.8 68.9,376.5 69.4,376.5 69.9,376.2 70.4,376.2 70.9,376.5 71.4,376.9 71.9,376.6 72.4,376.3 72.9,376.9 73.4,376.9 73.9,376.7 74.4,376.9 74.9,377.0 75.4,376.4 75.9,376.9 76.4,376.8 76.9,377.0 77.4,377.3 77.9,376.8 78.4,377.1 78.9,377.0 79.4,376.8 79.9,377.7 80.4,377.6 80.9,377.0 81.4,377.8 81.9,377.5 82.4,377.7 82.9,377.9 83.4,377.7 83.9,378.0 84.4,377.9 84.9,377.8 85.4,377.5 85.9,378.1 86.4,378.2 86.9,377.8 87.4,377.8 87.9,377.8 88.4,377.8 88.9,378.2 89.4,377.9 89.9,378.1 90.4,377.8 90.9,377.9 91.4,378.5 91.9,378.4 92.4,378.5 92.9,378.1 93.4,378.2 93.9,378.7 94.4,378.9 94.9,379.0 95.4,378.3 95.9,378.6 96.4,379.0 96.9,378.7 97.4,378.9 97.9,379.3 98.4,378.6 98.9,379.4 99.4,378.9 99.9,378.7 100.4,379.0 100.9,378.7 101.4,379.1 101.9,379.3 102.4,379.2 102.9,379.6 103.4,379.3 103.9,379.1 104.4,379.2 104.9,379.0 105.4,379.2 105.9,379.2 106.4,379.7 106.9,379.6 107.4,379.1 107.9,380.0 108.4,379.4 108.9,379.5 109.4,380.1 109.9,379.4 110.4,379.3 110.9,380.1 111.4,379.5 111.9,379.5 112.4,380.1 112.9,380.1 113.4,379.9 113.9,379.8 114.4,380.2 114.9,380.3 115.4,380.0 115.9,379.8 116.4,380.0 116.9,380.2 117.4,380.0 117.9,380.5 118.4,380.4 118.9,379.9 119.4,380.0 119.9,379.9 120.4,380.5 120.9,380.3 121.4,380.7 121.9,379.9 122.4,380.3 122.9,380.4 123.4,380.5 123.9,380.4 124.4,380.0 124.9,380.2 125.4,380.3 125.9,380.4 126.4,380.2 126.9,380.4 127.4,380.5 127.9,380.3 128.4,380.8 128.9,380.7 129.4,380.9 129.9,381.1 130.4,380.8 130.9,380.9 131.4,380.8 131.9,380.9 132.4,380.5 132.9,380.9 133.4,380.5 133.9,381.3 134.4,381.2 134.9,381.1 135.4,380.7 135.9,380.8 136.4,381.1 136.9,381.2 137.4,380.7 137.9,381.0 137.9,385.6 137.4,385.2 136.9,385.5 136.4,385.4 135.9,385.2 135.4,384.9 134.9,384.9 134.4,385.2 133.9,384.8 133.4,384.8 132.9,385.1 132.4,385.3 131.9,384.7 131.4,384.6 130.9,384.5 130.4,384.7 129.9,385.1 129.4,385.2 128.9,384.5 128.4,384.5 127.9,384.8 127.4,385.0 126.9,384.6 126.4,384.3 125.9,384.5 125.4,384.8 124.9,384.4 124.4,384.1 123.9,384.5 123.4,384.6 122.9,384.8 122.4,384.3 121.9,384.3 121.4,384.4 120.9,384.1 120.4,384.2 119.9,384.0 119.4,384.5 118.9,384.1 118.4,384.4 117.9,384.4 117.4,383.7 116.9,383.9 116.4,384.3 115.9,384.3 115.4,384.3 114.9,383.6 114.4,384.4 113.9,383.9 113.4,383.7 112.9,384.0 112.4,384.2 111.9,383.9 111.4,383.6 110.9,384.1 110.4,384.1 109.9,383.8 109.4,384.1 108.9,384.0 108.4,384.0 107.9,383.6 107.4,383.7 106.9,383.7 106.4,383.7 105.9,383.9 105.4,383.7 104.9,383.3 104.4,383.4 103.9,383.8 103.4,383.3 102.9,383.4 102.4,383.7 101.9,382.9 101.4,383.0 100.9,383.5 100.4,383.2 99.9,383.2 99.4,382.9 98.9,383.1 98.4,383.3 97.9,383.0 97.4,383.0 96.9,383.1 96.4,382.6 95.9,382.5 95.4,383.2 94.9,382.4 94.4,382.6 93.9,383.1 93.4,382.2 92.9,382.6 92.4,382.7 91.9,382.2 91.4,382.2 90.9,382.7 90.4,382.6 89.9,382.2 89.4,382.0 88.9,382.1 88.4,382.1 87.9,382.3 87.4,381.6 86.9,382.4 86.4,382.3 85.9,381.6 85.4,381.8 84.9,381.8 84.4,381.8 83.9,381.9 83.4,382.1 82.9,381.4 82.4,381.6 81.9,381.5 81.4,381.4 80.9,381.6 80.4,381.2 79.9,381.5 79.4,381.2 78.9,381.1 78.4,381.6 77.9,381.0 77.4,380.7 76.9,381.1 76.4,380.6 75.9,381.0 75.4,381.1 74.9,381.2 74.4,381.0 73.9,380.7 73.4,380.5 72.9,380.4 72.4,380.4 71.9,380.2 71.4,380.1 70.9,380.5 70.4,380.2 69.9,380.7 69.4,380.4 68.9,380.3 68.4,380.7 67.9,380.7 67.4,380.3 66.9,379.8 66.4,379.7 65.9,380.1 65.4,379.9 64.9,379.7 64.4,379.6 63.9,379.8 63.4,379.5 62.9,379.7 62.4,379.5 61.9,379.3 61.4,379.6 60.9,379.5 60.4,379.4 59.9,379.0 59.4,378.8 58.9,379.0 58.4,378.6 57.9,378.3 57.4,378.1 56.9,378.5 56.4,377.9 55.9,377.9 55.4,378.2 54.9,378.3 54.4,377.9 53.9,377.5 53.4,377.7 52.9,377.8 52.4,377.1 51.9,377.2 51.4,377.4 50.9,376.7 50.4,376.4 49.9,376.4 49.4,376.8 48.9,376.1 48.4,376.7 47.9,376.0 47.4,376.2 46.9,376.0 46.4,376.1 45.9,375.6 45.4,375.4 44.9,375.2 44.4,375.2 43.9,375.3 43.4,375.5 42.9,375.0 42.4,375.2 41.9,375.0 41.4,375.0 40.9,374.5 40.4,374.5 39.9,373.9 39.4,374.5 38.9,374.2 38.4,374.2 37.9,374.0 37.4,373.7 36.9,374.3 36.4,374.1 35.9,374.7 35.4,376.9 34.9,378.8 34.4,379.9 33.9,381.1 33.4,384.4 32.9,387.7 32.4,389.9 31.9,389.4 31.4,389.1 30.9,389.5 30.4,389.3 29.9,389.7 29.4,389.1 28.9,389.9" fill="#E8262B"/>
<rect x="28.3" y="384.5" width="4.3" height="7.0" fill="#E8262B" />
<rect x="28.6" y="383.8" width="3.8" height="3.2" fill="#0a0a0a" />
<line x1="32.7" y1="310.6" x2="32.7" y2="395.0" stroke="#E03038" stroke-width="0.8" />
<line x1="118.1" y1="392.5" x2="118.1" y2="401.3" stroke="#333" stroke-width="0.6" />
<line x1="118.1" y1="401.3" x2="132.7" y2="401.3" stroke="#333" stroke-width="0.6" />
<text x="116.6" y="397.6" font-size="1.9" text-anchor="end" fill="#333" >40 pA</text>
<text x="125.4" y="403.9" font-size="1.9" text-anchor="middle" fill="#333" >20 ms</text>
<polygon points="179.0,382.5 179.5,382.3 180.0,382.6 180.5,381.9 181.0,382.0 181.5,382.2 182.0,381.7 182.5,379.5 183.0,376.5 183.5,372.9 184.0,369.7 184.5,365.7 185.0,362.9 185.5,361.8 186.0,359.8 186.5,358.5 187.0,358.2 187.5,358.7 188.0,358.6 188.5,358.7 189.0,359.2 189.5,359.3 190.0,359.9 190.5,359.5 191.0,360.4 191.5,360.4 192.0,360.5 192.5,360.3 193.0,361.0 193.5,361.0 194.0,361.5 194.5,361.8 195.0,361.5 195.5,362.4 196.0,362.0 196.5,362.7 197.0,362.9 197.5,363.2 198.0,362.6 198.5,363.0 199.0,363.8 199.5,363.2 200.0,363.9 200.5,363.9 201.0,364.3 201.5,364.4 202.0,364.6 202.5,364.9 203.0,365.3 203.5,364.9 204.0,365.5 204.5,365.1 205.0,366.0 205.5,366.3 206.0,365.8 206.5,366.4 207.0,366.3 207.5,366.5 208.0,366.0 208.5,365.9 209.0,366.7 209.5,367.0 210.0,366.8 210.5,366.4 211.0,367.2 211.5,367.1 212.0,367.2 212.5,367.4 213.0,366.7 213.5,366.8 214.0,366.9 214.5,367.1 215.0,367.5 215.5,367.8 216.0,367.3 216.5,367.9 217.0,367.5 217.5,367.6 218.0,367.8 218.5,368.3 219.0,367.7 219.5,367.8 220.0,368.1 220.5,368.0 221.0,368.0 221.5,368.9 222.0,368.5 222.5,368.5 223.0,369.0 223.5,368.5 224.0,368.6 224.5,368.8 225.0,368.8 225.5,368.9 226.0,369.1 226.5,369.0 227.0,369.5 227.5,370.0 228.0,369.5 228.5,369.4 229.0,370.1 229.5,369.6 230.0,370.4 230.5,369.8 231.0,370.0 231.5,369.9 232.0,370.4 232.5,369.8 233.0,370.6 233.5,369.9 234.0,370.3 234.5,370.1 235.0,370.0 235.5,370.5 236.0,370.5 236.5,370.7 237.0,370.8 237.5,370.5 238.0,370.5 238.5,370.4 239.0,370.8 239.5,370.6 240.0,370.7 240.5,370.9 241.0,370.8 241.5,370.3 242.0,370.6 242.5,371.0 243.0,370.9 243.5,371.1 244.0,370.7 244.5,371.0 245.0,370.7 245.5,370.9 246.0,371.4 246.5,370.8 247.0,370.7 247.5,371.1 248.0,371.1 248.5,371.3 249.0,371.5 249.5,371.4 250.0,371.7 250.5,370.9 251.0,371.1 251.5,371.0 252.0,371.3 252.5,371.4 253.0,371.2 253.5,371.9 254.0,371.4 254.5,371.5 255.0,371.8 255.5,371.7 256.0,371.3 256.5,371.9 257.0,371.9 257.5,371.3 258.0,371.9 258.5,371.5 259.0,371.9 259.5,372.2 260.0,371.8 260.5,372.1 261.0,371.9 261.5,372.4 262.0,371.6 262.5,372.0 263.0,372.5 263.5,372.4 264.0,371.8 264.5,372.5 265.0,372.4 265.5,372.6 266.0,372.1 266.5,371.9 267.0,372.4 267.5,372.8 268.0,372.6 268.5,372.9 269.0,372.7 269.5,372.3 270.0,372.4 270.5,372.3 271.0,372.6 271.5,372.5 272.0,372.7 272.5,372.4 273.0,373.1 273.5,372.4 274.0,372.9 274.5,372.5 275.0,373.0 275.5,373.3 276.0,373.4 276.5,373.3 277.0,372.7 277.5,373.3 278.0,373.1 278.5,373.4 279.0,372.7 279.5,372.8 280.0,373.3 280.5,372.9 280.5,377.2 280.0,377.4 279.5,377.5 279.0,377.2 278.5,377.3 278.0,377.2 277.5,377.0 277.0,377.2 276.5,376.6 276.0,377.3 275.5,377.2 275.0,376.7 274.5,376.6 274.0,376.9 273.5,376.5 273.0,376.4 272.5,376.6 272.0,376.3 271.5,376.6 271.0,376.7 270.5,376.7 270.0,376.9 269.5,376.6 269.0,376.8 268.5,376.8 268.0,376.0 267.5,375.9 267.0,376.0 266.5,376.0 266.0,376.3 265.5,376.4 265.0,376.5 264.5,375.9 264.0,376.3 263.5,376.4 263.0,375.8 262.5,375.8 262.0,376.3 261.5,376.3 261.0,375.6 260.5,376.3 260.0,375.9 259.5,375.8 259.0,375.3 258.5,375.5 258.0,375.6 257.5,376.0 257.0,375.8 256.5,375.4 256.0,375.8 255.5,375.6 255.0,375.9 254.5,375.8 254.0,375.7 253.5,375.5 253.0,375.8 252.5,375.7 252.0,375.3 251.5,375.0 251.0,375.5 250.5,375.5 250.0,374.8 249.5,375.0 249.0,375.3 248.5,375.5 248.0,374.7 247.5,374.9 247.0,374.9 246.5,374.7 246.0,374.6 245.5,374.6 245.0,374.7 244.5,374.5 244.0,374.9 243.5,375.1 243.0,375.1 242.5,375.1 242.0,374.8 241.5,374.8 241.0,374.9 240.5,374.9 240.0,374.2 239.5,374.7 239.0,374.5 238.5,374.0 238.0,374.8 237.5,374.3 237.0,374.0 236.5,374.7 236.0,374.6 235.5,374.6 235.0,374.0 234.5,373.8 234.0,374.5 233.5,374.2 233.0,374.2 232.5,373.7 232.0,374.0 231.5,373.8 231.0,373.9 230.5,373.6 230.0,374.2 229.5,373.8 229.0,373.6 228.5,373.7 228.0,373.5 227.5,373.0 227.0,373.4 226.5,373.5 226.0,373.0 225.5,372.8 225.0,373.1 224.5,373.2 224.0,372.5 223.5,372.3 223.0,372.2 222.5,373.0 222.0,372.6 221.5,372.1 221.0,372.5 220.5,371.9 220.0,371.8 219.5,372.5 219.0,371.6 218.5,372.3 218.0,372.0 217.5,371.8 217.0,371.8 216.5,371.7 216.0,371.9 215.5,371.8 215.0,371.0 214.5,371.5 214.0,371.3 213.5,371.0 213.0,371.1 212.5,370.5 212.0,371.2 211.5,370.5 211.0,370.5 210.5,370.6 210.0,370.9 209.5,370.4 209.0,370.3 208.5,370.2 208.0,370.1 207.5,370.1 207.0,370.5 206.5,369.9 206.0,369.5 205.5,369.5 205.0,369.2 204.5,369.3 204.0,368.8 203.5,368.9 203.0,368.5 202.5,368.2 202.0,368.9 201.5,367.9 201.0,367.8 200.5,368.2 200.0,368.1 199.5,367.7 199.0,367.1 198.5,367.5 198.0,367.3 197.5,366.9 197.0,366.5 196.5,366.2 196.0,366.2 195.5,365.7 195.0,365.4 194.5,365.6 194.0,365.5 193.5,364.9 193.0,364.6 192.5,364.3 192.0,364.2 191.5,364.2 191.0,364.0 190.5,363.3 190.0,363.3 189.5,363.2 189.0,363.1 188.5,363.3 188.0,362.9 187.5,362.5 187.0,362.8 186.5,362.0 186.0,363.4 185.5,364.5 185.0,365.3 184.5,368.7 184.0,372.1 183.5,375.4 183.0,379.5 182.5,381.5 182.0,382.9 181.5,383.9 181.0,383.9 180.5,384.4 180.0,384.1 179.5,383.8 179.0,383.8" fill="#E8262B"/>
<polygon points="188.2,337.0 188.7,335.5 189.2,334.8 189.7,336.2 190.2,336.3 190.7,336.6 191.2,337.6 191.7,338.6 192.2,339.5 192.7,340.5 193.2,341.4 193.7,342.2 194.2,343.6 194.7,344.0 195.2,345.1 195.7,345.8 196.2,346.7 196.7,347.2 197.2,347.5 197.7,348.7 198.2,348.6 198.7,349.5 199.2,350.3 199.7,351.0 200.2,351.0 200.7,351.4 201.2,351.8 201.7,352.4 202.2,352.8 202.7,353.2 203.2,353.9 203.7,354.3 204.2,355.3 204.7,355.3 205.2,356.5 205.7,356.6 206.2,357.0 206.7,356.8 207.2,357.3 207.7,357.6 208.2,357.7 208.7,358.4 209.2,358.9 209.7,358.9 210.2,359.6 210.7,359.6 211.2,360.4 211.7,360.5 212.2,360.2 212.7,360.9 213.2,361.0 213.7,361.3 214.2,361.2 214.7,361.9 215.2,362.3 215.7,361.9 216.2,362.5 216.7,362.8 217.2,363.4 217.7,363.1 218.2,363.3 218.7,363.4 219.2,363.6 219.7,364.3 220.2,363.9 220.7,364.4 221.2,364.3 221.7,364.6 222.2,364.8 222.7,365.0 223.2,364.7 223.7,365.0 224.2,365.4 224.7,365.1 225.2,365.8 225.7,365.5 226.2,366.0 226.7,365.7 227.2,365.8 227.7,366.4 228.2,366.1 228.7,366.8 229.2,366.7 229.7,366.6 230.2,367.3 230.7,366.8 231.2,366.9 231.7,367.5 232.2,367.0 232.7,367.4 233.2,367.4 233.7,367.0 234.2,367.9 234.7,367.1 235.2,367.6 235.7,367.2 236.2,367.4 236.7,367.5 237.2,367.9 237.7,368.0 238.2,367.7 238.7,367.5 239.2,367.5 239.7,367.5 240.2,367.6 240.7,368.4 241.2,368.3 241.7,367.9 242.2,368.2 242.7,368.1 243.2,368.4 243.7,368.3 244.2,368.4 244.7,368.3 245.2,368.7 245.7,368.1 246.2,368.2 246.7,368.4 247.2,369.0 247.7,368.8 248.2,368.7 248.7,368.4 249.2,369.1 249.7,369.1 250.2,368.4 250.7,369.2 251.2,369.1 251.7,369.1 252.2,368.9 252.7,369.3 253.2,369.4 253.7,368.9 254.2,369.6 254.7,369.3 255.2,369.0 255.7,369.0 256.2,369.4 256.7,369.3 257.2,369.4 257.7,369.4 258.2,369.4 258.7,369.8 259.2,369.5 259.7,369.1 260.2,369.1 260.7,369.7 261.2,369.9 261.7,369.4 262.2,369.3 262.7,369.4 263.2,370.0 263.7,370.1 264.2,369.4 264.7,370.0 265.2,369.3 265.7,370.1 266.2,370.1 266.7,369.6 267.2,369.4 267.7,369.5 268.2,369.6 268.7,369.6 269.2,369.6 269.7,370.3 270.2,369.8 270.7,370.1 271.2,370.1 271.7,369.7 272.2,370.1 272.7,370.1 273.2,370.4 273.7,369.6 274.2,369.8 274.7,369.9 275.2,369.9 275.7,370.1 276.2,369.8 276.7,370.5 277.2,369.8 277.7,370.2 278.2,370.5 278.7,370.5 279.2,370.4 279.7,370.1 280.2,370.5 280.7,370.4 280.7,374.8 280.2,374.7 279.7,374.9 279.2,374.2 278.7,374.5 278.2,374.2 277.7,374.6 277.2,374.4 276.7,374.6 276.2,374.0 275.7,374.4 275.2,374.3 274.7,374.5 274.2,373.9 273.7,374.1 273.2,374.2 272.7,374.1 272.2,374.1 271.7,374.0 271.2,374.2 270.7,373.8 270.2,374.4 269.7,373.9 269.2,374.4 268.7,373.7 268.2,374.0 267.7,373.6 267.2,374.0 266.7,374.2 266.2,374.2 265.7,374.2 265.2,373.6 264.7,373.5 264.2,373.4 263.7,373.5 263.2,373.9 262.7,373.8 262.2,373.9 261.7,374.1 261.2,374.0 260.7,373.7 260.2,373.9 259.7,373.5 259.2,374.0 258.7,373.6 258.2,373.8 257.7,373.4 257.2,373.7 256.7,373.7 256.2,373.4 255.7,373.6 255.2,373.4 254.7,373.5 254.2,373.1 253.7,373.2 253.2,373.3 252.7,373.1 252.2,373.1 251.7,373.3 251.2,372.9 250.7,373.1 250.2,373.3 249.7,372.6 249.2,372.6 248.7,372.4 248.2,372.8 247.7,372.8 247.2,372.6 246.7,373.0 246.2,372.2 245.7,372.9 245.2,372.9 244.7,372.8 244.2,372.2 243.7,372.7 243.2,372.7 242.7,372.2 242.2,372.7 241.7,372.3 241.2,372.1 240.7,372.4 240.2,372.2 239.7,372.5 239.2,372.2 238.7,371.6 238.2,371.8 237.7,371.5 237.2,371.7 236.7,371.9 236.2,372.1 235.7,371.5 235.2,372.1 234.7,372.1 234.2,372.0 233.7,371.3 233.2,371.5 232.7,371.4 232.2,371.2 231.7,371.2 231.2,371.2 230.7,371.4 230.2,371.0 229.7,371.4 229.2,370.6 228.7,370.4 228.2,370.6 227.7,370.6 227.2,370.0 226.7,370.1 226.2,369.9 225.7,369.5 225.2,369.7 224.7,369.3 224.2,369.2 223.7,369.5 223.2,368.7 222.7,368.9 222.2,368.9 221.7,368.5 221.2,368.4 220.7,368.4 220.2,368.7 219.7,367.7 219.2,368.2 218.7,367.7 218.2,367.6 217.7,367.1 217.2,367.3 216.7,367.0 216.2,366.3 215.7,366.5 215.2,366.1 214.7,366.2 214.2,365.8 213.7,365.6 213.2,365.4 212.7,365.1 212.2,364.7 211.7,364.9 211.2,364.5 210.7,363.6 210.2,363.5 209.7,362.8 209.2,362.5 208.7,363.0 208.2,362.7 207.7,361.8 207.2,361.2 206.7,360.9 206.2,361.3 205.7,360.4 205.2,360.6 204.7,360.2 204.2,358.9 203.7,358.9 203.2,358.0 202.7,357.9 202.2,357.7 201.7,356.5 201.2,356.7 200.7,356.2 200.2,355.7 199.7,354.5 199.2,353.7 198.7,353.0 198.2,352.5 197.7,351.7 197.2,350.9 196.7,351.1 196.2,350.3 195.7,349.8 195.2,349.1 194.7,347.8 194.2,346.5 193.7,346.0 193.2,344.6 192.7,344.3 192.2,343.5 191.7,341.9 191.2,341.3 190.7,340.5 190.2,339.4 189.7,338.6 189.2,337.0 188.7,338.0 188.2,339.3" fill="#0a0a0a"/>
<rect x="178.6" y="380.0" width="3.6" height="6.6" fill="#E8262B" />
<rect x="178.8" y="379.4" width="3.2" height="3.0" fill="#0a0a0a" />
<line x1="182.0" y1="311.4" x2="182.0" y2="395.0" stroke="#E03038" stroke-width="0.8" />
<line x1="262.7" y1="386.8" x2="262.7" y2="396.0" stroke="#333" stroke-width="0.6" />
<line x1="262.7" y1="396.0" x2="277.0" y2="396.0" stroke="#333" stroke-width="0.6" />
<text x="261.2" y="392.2" font-size="1.9" text-anchor="end" fill="#333" >40 pA</text>
<text x="270.0" y="398.6" font-size="1.9" text-anchor="middle" fill="#333" >20 ms</text>
<text x="1.0" y="410.0" font-size="11.5" text-anchor="start" fill="#111" font-weight="bold" >k</text>
<text x="58.3" y="416.8" font-size="9.2" text-anchor="middle" fill="#5BB3E4" >LV-GFP</text>
<text x="221.2" y="416.0" font-size="9.3" text-anchor="middle" fill="#E0596A" >LV-shCR3</text>
<line x1="35.3" y1="423.4" x2="35.2" y2="475.3" stroke="#7B5EA7" stroke-width="0.55" />
<line x1="37.1" y1="422.9" x2="37.0" y2="475.2" stroke="#C03A3A" stroke-width="0.55" />
<line x1="39.9" y1="421.2" x2="39.7" y2="473.8" stroke="#3A7F3A" stroke-width="0.55" />
<line x1="41.0" y1="423.0" x2="41.0" y2="474.3" stroke="#2E5FA8" stroke-width="0.55" />
<line x1="43.7" y1="422.8" x2="43.8" y2="474.2" stroke="#B85C9E" stroke-width="0.55" />
<line x1="45.5" y1="423.4" x2="45.6" y2="474.0" stroke="#8A6D3B" stroke-width="0.55" />
<line x1="47.0" y1="422.7" x2="47.0" y2="476.5" stroke="#3AA0A0" stroke-width="0.55" />
<line x1="49.7" y1="423.2" x2="49.7" y2="476.9" stroke="#555" stroke-width="0.55" />
<line x1="51.0" y1="421.4" x2="51.0" y2="476.0" stroke="#D07A2A" stroke-width="0.55" />
<line x1="53.6" y1="421.5" x2="53.7" y2="473.2" stroke="#111" stroke-width="0.55" />
<line x1="55.1" y1="423.0" x2="55.2" y2="475.3" stroke="#A23B72" stroke-width="0.55" />
<line x1="57.1" y1="423.6" x2="57.1" y2="475.8" stroke="#4F8F4F" stroke-width="0.55" />
<line x1="59.7" y1="422.8" x2="59.8" y2="474.8" stroke="#7B5EA7" stroke-width="0.55" />
<line x1="62.3" y1="423.5" x2="62.6" y2="474.9" stroke="#C03A3A" stroke-width="0.55" />
<line x1="63.2" y1="423.0" x2="63.0" y2="475.8" stroke="#3A7F3A" stroke-width="0.55" />
<line x1="65.4" y1="422.9" x2="65.7" y2="476.3" stroke="#2E5FA8" stroke-width="0.55" />
<line x1="68.0" y1="421.9" x2="68.0" y2="475.7" stroke="#B85C9E" stroke-width="0.55" />
<line x1="70.6" y1="421.1" x2="70.6" y2="473.7" stroke="#8A6D3B" stroke-width="0.55" />
<line x1="72.0" y1="421.4" x2="71.8" y2="476.1" stroke="#3AA0A0" stroke-width="0.55" />
<line x1="73.7" y1="421.4" x2="73.6" y2="474.6" stroke="#555" stroke-width="0.55" />
<line x1="76.7" y1="423.6" x2="76.5" y2="474.8" stroke="#D07A2A" stroke-width="0.55" />
<line x1="77.2" y1="422.6" x2="77.4" y2="476.3" stroke="#111" stroke-width="0.55" />
<line x1="80.5" y1="423.6" x2="80.5" y2="474.7" stroke="#A23B72" stroke-width="0.55" />
<line x1="81.6" y1="422.1" x2="81.9" y2="476.8" stroke="#4F8F4F" stroke-width="0.55" />
<line x1="83.4" y1="421.5" x2="83.3" y2="473.9" stroke="#7B5EA7" stroke-width="0.55" />
<line x1="85.4" y1="421.7" x2="85.4" y2="475.4" stroke="#C03A3A" stroke-width="0.55" />
<line x1="87.7" y1="421.8" x2="87.5" y2="474.7" stroke="#3A7F3A" stroke-width="0.55" />
<polyline points="32.8,475.3 33.9,474.9 35.0,473.9 36.1,474.3 37.2,473.9 38.3,473.1 39.4,472.9 40.5,472.0 41.6,471.7 42.7,474.4 43.8,474.1 44.9,473.9 46.0,474.0 47.1,472.9 48.2,472.7 49.3,472.1 50.4,472.6 51.5,474.9 52.6,474.1 53.7,473.9 54.8,473.4 55.9,473.8 57.0,472.6 58.1,472.1 59.2,472.6 60.3,475.2 61.4,474.4 62.5,474.5 63.6,474.1 64.7,473.1 65.8,473.5 66.9,472.9 68.0,472.5 69.1,475.1 70.2,474.2 71.3,474.0 72.4,474.1 73.5,473.4 74.6,473.6 75.7,472.6 76.8,472.0 77.9,474.8 79.0,475.1 80.1,474.3 81.2,474.2 82.3,473.7 83.4,473.4 84.5,472.7 85.6,472.7 86.7,475.5 87.8,474.7 88.9,474.8 90.0,473.7 91.1,473.3 92.2,473.5 93.3,473.2 94.4,472.6 95.5,472.1 96.6,474.4 97.7,474.6 98.8,474.5 99.9,474.1" fill="none" stroke="#7B5EA7" stroke-width="0.7"/>
<polyline points="32.5,473.2 33.6,472.8 34.7,475.5 35.8,475.4 36.9,475.2 38.0,474.6 39.1,474.3 40.2,474.0 41.3,473.5 42.4,472.7 43.5,475.6 44.6,475.8 45.7,475.0 46.8,474.8 47.9,474.0 49.0,473.8 50.1,473.9 51.2,473.3 52.3,473.2 53.4,475.8 54.5,475.3 55.6,474.8 56.7,474.4 57.8,474.3 58.9,474.1 60.0,473.4 61.1,473.2 62.2,475.3 63.3,474.9 64.4,474.5 65.5,474.8 66.6,473.8 67.7,473.9 68.8,473.7 69.9,472.7 71.0,475.7 72.1,475.9 73.2,474.7 74.3,474.6 75.4,473.9 76.5,474.0 77.6,473.5 78.7,472.6 79.8,476.0 80.9,475.0 82.0,475.4 83.1,474.3 84.2,473.8 85.3,473.7 86.4,473.4 87.5,473.4 88.6,475.6 89.7,475.6 90.8,474.7 91.9,474.9 93.0,473.9 94.1,474.1 95.2,473.2 96.3,472.8 97.4,472.7 98.5,475.7" fill="none" stroke="#C03A3A" stroke-width="0.7"/>
<polyline points="32.6,474.2 33.7,473.7 34.8,473.4 35.9,476.3 37.0,475.9 38.1,475.4 39.2,474.8 40.3,474.5 41.4,474.6 42.5,474.1 43.6,473.4 44.7,476.5 45.8,476.5 46.9,475.8 48.0,475.9 49.1,475.3 50.2,474.8 51.3,474.1 52.4,473.5 53.5,476.9 54.6,475.9 55.7,476.2 56.8,475.6 57.9,474.8 59.0,474.6 60.1,474.2 61.2,474.4 62.3,476.8 63.4,476.8 64.5,475.8 65.6,475.4 66.7,475.2 67.8,474.8 68.9,474.1 70.0,473.9 71.1,473.1 72.2,476.1 73.3,476.0 74.4,475.8 75.5,475.6 76.6,474.7 77.7,474.1 78.8,474.2 79.9,474.0 81.0,476.6 82.1,476.4 83.2,475.7 84.3,475.6 85.4,475.2 86.5,474.9 87.6,474.3 88.7,473.3 89.8,476.4 90.9,476.5 92.0,475.9 93.1,475.5 94.2,474.5 95.3,474.8 96.4,474.2 97.5,473.4 98.6,476.4 99.7,476.0" fill="none" stroke="#3A7F3A" stroke-width="0.7"/>
<polyline points="32.5,477.2 33.6,476.8 34.7,476.7 35.8,476.1 36.9,475.3 38.0,475.5 39.1,474.9 40.2,474.0 41.3,477.4 42.4,477.0 43.5,476.5 44.6,476.0 45.7,476.1 46.8,475.8 47.9,474.4 49.0,474.8 50.1,477.3 51.2,476.6 52.3,476.2 53.4,475.8 54.5,476.2 55.6,475.7 56.7,475.4 57.8,474.3 58.9,477.4 60.0,476.5 61.1,476.6 62.2,475.9 63.3,475.6 64.4,474.9 65.5,475.4 66.6,475.1 67.7,477.9 68.8,476.9 69.9,477.2 71.0,476.1 72.1,475.7 73.2,475.1 74.3,474.9 75.4,474.5 76.5,474.3 77.6,477.0 78.7,477.1 79.8,476.5 80.9,476.4 82.0,475.8 83.1,475.4 84.2,475.0 85.3,474.2 86.4,477.6 87.5,476.8 88.6,476.2 89.7,476.5 90.8,475.8 91.9,475.3 93.0,474.5 94.1,474.2 95.2,477.3 96.3,477.3 97.4,476.4 98.5,475.8 99.6,475.6" fill="none" stroke="#2E5FA8" stroke-width="0.7"/>
<polyline points="32.6,476.1 33.7,475.3 34.8,478.2 35.9,477.6 37.0,477.2 38.1,476.6 39.2,476.7 40.3,475.9 41.4,475.6 42.5,475.4 43.6,478.6 44.7,477.4 45.8,477.7 46.9,477.0 48.0,476.2 49.1,476.7 50.2,476.3 51.3,475.3 52.4,474.8 53.5,478.1 54.6,477.8 55.7,477.4 56.8,476.8 57.9,476.6 59.0,476.4 60.1,475.4 61.2,474.9 62.3,478.2 63.4,477.2 64.5,477.3 65.6,476.5 66.7,475.9 67.8,476.0 68.9,475.8 70.0,475.2 71.1,477.8 72.2,477.9 73.3,476.8 74.4,477.1 75.5,476.3 76.6,476.5 77.7,475.3 78.8,475.2 79.9,477.8 81.0,478.0 82.1,477.1 83.2,476.8 84.3,476.3 85.4,476.4 86.5,476.2 87.6,475.1 88.7,478.1 89.8,478.3 90.9,477.3 92.0,477.5 93.1,476.2 94.2,476.1 95.3,476.2 96.4,476.0 97.5,478.1 98.6,478.3 99.7,477.0" fill="none" stroke="#B85C9E" stroke-width="0.7"/>
<polyline points="32.8,475.9 33.9,478.8 35.0,479.1 36.1,478.7 37.2,477.7 38.3,477.8 39.4,476.6 40.5,476.5 41.6,476.0 42.7,476.3 43.8,478.6 44.9,478.6 46.0,477.4 47.1,477.9 48.2,477.4 49.3,476.6 50.4,476.8 51.5,475.7 52.6,478.6 53.7,477.9 54.8,478.4 55.9,478.0 57.0,476.9 58.1,477.3 59.2,476.3 60.3,476.0 61.4,479.3 62.5,478.7 63.6,478.4 64.7,477.8 65.8,477.1 66.9,477.2 68.0,476.2 69.1,475.8 70.2,478.4 71.3,478.3 72.4,478.5 73.5,477.5 74.6,476.9 75.7,477.2 76.8,476.3 77.9,476.3 79.0,479.2 80.1,478.7 81.2,478.5 82.3,477.9 83.4,477.6 84.5,476.8 85.6,476.3 86.7,476.3 87.8,478.9 88.9,478.7 90.0,478.6 91.1,478.4 92.2,477.5 93.3,477.4 94.4,476.2 95.5,475.9 96.6,476.4 97.7,479.2 98.8,478.7 99.9,477.7" fill="none" stroke="#8A6D3B" stroke-width="0.7"/>
<polyline points="33.6,477.4 34.7,476.7 35.8,479.4 36.9,479.4 38.0,478.6 39.1,478.3 40.2,477.8 41.3,477.4 42.4,477.4 43.5,476.5 44.6,479.8 45.7,478.9 46.8,479.1 47.9,478.3 49.0,478.6 50.1,477.8 51.2,477.3 52.3,477.5 53.4,479.5 54.5,479.1 55.6,479.4 56.7,478.9 57.8,478.6 58.9,477.5 60.0,477.5 61.1,477.5 62.2,476.8 63.3,479.5 64.4,478.9 65.5,479.1 66.6,478.3 67.7,478.4 68.8,477.2 69.9,477.6 71.0,476.3 72.1,479.4 73.2,479.3 74.3,478.4 75.4,478.1 76.5,478.3 77.6,477.3 78.7,477.1 79.8,476.7 80.9,479.4 82.0,479.6 83.1,478.9 84.2,478.0 85.3,477.7 86.4,477.7 87.5,477.1 88.6,477.0 89.7,479.9 90.8,479.2 91.9,479.0 93.0,478.3 94.1,478.4 95.2,477.4 96.3,477.0 97.4,476.9 98.5,479.7 99.6,478.9" fill="none" stroke="#3AA0A0" stroke-width="0.7"/>
<polyline points="32.3,480.3 33.4,479.9 34.5,480.0 35.6,479.5 36.7,479.0 37.8,478.1 38.9,478.0 40.0,478.0 41.1,480.7 42.2,479.6 43.3,479.9 44.4,479.6 45.5,479.2 46.6,478.5 47.7,477.8 48.8,477.7 49.9,480.0 51.0,479.7 52.1,479.9 53.2,479.0 54.3,478.5 55.4,478.7 56.5,478.5 57.6,477.8 58.7,480.2 59.8,480.3 60.9,480.1 62.0,479.9 63.1,478.8 64.2,478.5 65.3,478.4 66.4,478.1 67.5,477.6 68.6,480.3 69.7,479.6 70.8,479.0 71.9,479.2 73.0,478.7 74.1,477.9 75.2,478.0 76.3,477.0 77.4,479.9 78.5,479.6 79.6,479.6 80.7,479.2 81.8,478.4 82.9,478.1 84.0,477.5 85.1,477.9 86.2,480.3 87.3,479.5 88.4,479.6 89.5,479.3 90.6,479.2 91.7,478.2 92.8,477.6 93.9,477.5 95.0,480.0 96.1,479.6 97.2,480.1 98.3,479.0 99.4,478.9" fill="none" stroke="#555" stroke-width="0.7"/>
<polyline points="33.4,478.5 34.5,478.7 35.6,481.3 36.7,481.1 37.8,480.3 38.9,479.9 40.0,479.2 41.1,478.7 42.2,479.0 43.3,478.7 44.4,481.0 45.5,480.7 46.6,480.4 47.7,480.2 48.8,479.3 49.9,478.8 51.0,478.6 52.1,478.9 53.2,481.1 54.3,480.7 55.4,480.9 56.5,480.3 57.6,480.2 58.7,479.6 59.8,479.3 60.9,478.8 62.0,481.1 63.1,481.1 64.2,481.0 65.3,479.7 66.4,480.2 67.5,479.0 68.6,478.5 69.7,478.7 70.8,478.4 71.9,481.1 73.0,480.9 74.1,480.6 75.2,480.2 76.3,479.9 77.4,478.8 78.5,478.2 79.6,478.6 80.7,481.4 81.8,480.5 82.9,479.9 84.0,479.6 85.1,479.4 86.2,478.9 87.3,479.0 88.4,478.2 89.5,481.2 90.6,480.9 91.7,480.3 92.8,480.3 93.9,479.8 95.0,478.9 96.1,478.4 97.2,478.1 98.3,480.9 99.4,481.3" fill="none" stroke="#D07A2A" stroke-width="0.7"/>
<polyline points="32.9,478.7 34.0,481.6 35.1,481.1 36.2,480.8 37.3,480.8 38.4,479.8 39.5,479.4 40.6,479.6 41.7,479.2 42.8,481.8 43.9,481.9 45.0,481.5 46.1,480.4 47.2,480.7 48.3,479.8 49.4,479.2 50.5,479.1 51.6,482.2 52.7,481.4 53.8,480.8 54.9,480.9 56.0,480.0 57.1,480.2 58.2,479.2 59.3,479.6 60.4,481.7 61.5,481.8 62.6,480.9 63.7,480.6 64.8,480.5 65.9,479.9 67.0,480.1 68.1,478.9 69.2,481.7 70.3,482.2 71.4,481.5 72.5,480.6 73.6,480.1 74.7,480.0 75.8,479.6 76.9,479.5 78.0,479.1 79.1,481.4 80.2,481.3 81.3,481.4 82.4,480.6 83.5,480.1 84.6,480.0 85.7,479.7 86.8,479.4 87.9,482.0 89.0,481.2 90.1,480.6 91.2,480.9 92.3,480.4 93.4,479.8 94.5,479.6 95.6,479.3 96.7,481.6 97.8,481.8 98.9,481.1" fill="none" stroke="#111" stroke-width="0.7"/>
<polyline points="34.2,480.4 35.5,480.9 36.8,480.6 38.1,481.2 39.4,481.3 40.7,480.9 42.0,480.5 43.3,481.0 44.6,480.9 45.9,481.1 47.2,480.9 48.5,481.0 49.8,481.2 51.1,480.9 52.4,480.8 53.7,481.3 55.0,480.6 56.3,481.1 57.6,480.8 58.9,481.2 60.2,480.5 61.5,481.4 62.8,480.8 64.1,480.5 65.4,480.7 66.7,480.8 68.0,480.4 69.3,480.8 70.6,480.8 71.9,481.1 73.2,480.8 74.5,480.7 75.8,480.6 77.1,481.1 78.4,481.3 79.7,480.9 81.0,480.6 82.3,481.2 83.6,480.8 84.9,480.6 86.2,480.5 87.5,481.2 88.8,481.2 90.1,481.0 91.4,480.9 92.7,481.0 94.0,480.6 95.3,481.4" fill="none" stroke="#111" stroke-width="0.9"/>
<text x="65.8" y="488.6" font-size="7" text-anchor="middle" fill="#222" >80pA</text>
<line x1="21.4" y1="512.3" x2="115.6" y2="512.3" stroke="#999" stroke-width="0.6" />
<line x1="34.4" y1="491.0" x2="93.7" y2="491.0" stroke="#888" stroke-width="0.5" />
<line x1="34.4" y1="493.2" x2="93.7" y2="493.2" stroke="#B9A0A0" stroke-width="0.5" />
<line x1="34.4" y1="495.4" x2="93.7" y2="495.4" stroke="#9AA8B8" stroke-width="0.5" />
<line x1="34.4" y1="497.6" x2="93.7" y2="497.6" stroke="#B0B0B0" stroke-width="0.5" />
<line x1="34.4" y1="499.8" x2="93.7" y2="499.8" stroke="#C4A8B8" stroke-width="0.5" />
<line x1="34.4" y1="501.9" x2="93.7" y2="501.9" stroke="#A8B8A8" stroke-width="0.5" />
<line x1="34.4" y1="504.1" x2="93.7" y2="504.1" stroke="#999" stroke-width="0.5" />
<line x1="34.4" y1="506.3" x2="93.7" y2="506.3" stroke="#B8A8C0" stroke-width="0.5" />
<line x1="34.4" y1="508.5" x2="93.7" y2="508.5" stroke="#aaa" stroke-width="0.5" />
<line x1="34.4" y1="510.7" x2="93.7" y2="510.7" stroke="#90A0B0" stroke-width="0.5" />
<line x1="34.4" y1="514.8" x2="93.7" y2="514.8" stroke="#888" stroke-width="0.5" />
<line x1="34.4" y1="491.0" x2="34.4" y2="514.8" stroke="#777" stroke-width="0.6" />
<line x1="93.7" y1="491.0" x2="93.7" y2="514.8" stroke="#777" stroke-width="0.6" />
<text x="67.0" y="523.8" font-size="7" text-anchor="middle" fill="#222" >-10pA</text>
<line x1="192.9" y1="426.6" x2="193.0" y2="476.6" stroke="#7B5EA7" stroke-width="0.55" />
<line x1="195.9" y1="426.8" x2="195.8" y2="473.3" stroke="#C03A3A" stroke-width="0.55" />
<line x1="196.5" y1="427.9" x2="196.5" y2="473.8" stroke="#3A7F3A" stroke-width="0.55" />
<line x1="199.2" y1="427.9" x2="199.3" y2="475.9" stroke="#2E5FA8" stroke-width="0.55" />
<line x1="200.2" y1="427.7" x2="200.1" y2="474.4" stroke="#B85C9E" stroke-width="0.55" />
<line x1="202.3" y1="427.7" x2="202.1" y2="476.1" stroke="#8A6D3B" stroke-width="0.55" />
<line x1="205.3" y1="425.4" x2="205.4" y2="475.8" stroke="#3AA0A0" stroke-width="0.55" />
<line x1="205.9" y1="427.9" x2="206.2" y2="475.0" stroke="#555" stroke-width="0.55" />
<line x1="208.4" y1="425.7" x2="208.3" y2="475.1" stroke="#D07A2A" stroke-width="0.55" />
<line x1="210.0" y1="426.6" x2="209.9" y2="476.6" stroke="#111" stroke-width="0.55" />
<line x1="211.9" y1="426.6" x2="212.0" y2="473.9" stroke="#A23B72" stroke-width="0.55" />
<line x1="213.8" y1="425.8" x2="213.6" y2="474.4" stroke="#4F8F4F" stroke-width="0.55" />
<line x1="215.2" y1="425.9" x2="215.2" y2="474.5" stroke="#7B5EA7" stroke-width="0.55" />
<line x1="218.0" y1="427.6" x2="218.3" y2="473.7" stroke="#C03A3A" stroke-width="0.55" />
<line x1="218.8" y1="426.3" x2="218.7" y2="475.7" stroke="#3A7F3A" stroke-width="0.55" />
<line x1="220.9" y1="428.0" x2="220.8" y2="476.1" stroke="#2E5FA8" stroke-width="0.55" />
<line x1="222.4" y1="426.0" x2="222.2" y2="476.1" stroke="#B85C9E" stroke-width="0.55" />
<line x1="224.7" y1="426.1" x2="224.5" y2="474.7" stroke="#8A6D3B" stroke-width="0.55" />
<line x1="226.7" y1="425.8" x2="226.7" y2="474.8" stroke="#3AA0A0" stroke-width="0.55" />
<line x1="229.3" y1="426.4" x2="229.4" y2="474.2" stroke="#555" stroke-width="0.55" />
<line x1="230.4" y1="425.4" x2="230.3" y2="473.4" stroke="#D07A2A" stroke-width="0.55" />
<line x1="231.9" y1="426.7" x2="231.9" y2="476.2" stroke="#111" stroke-width="0.55" />
<line x1="234.0" y1="426.6" x2="234.1" y2="476.9" stroke="#A23B72" stroke-width="0.55" />
<line x1="236.9" y1="425.3" x2="236.7" y2="473.6" stroke="#4F8F4F" stroke-width="0.55" />
<line x1="237.4" y1="426.3" x2="237.5" y2="476.0" stroke="#7B5EA7" stroke-width="0.55" />
<line x1="240.1" y1="426.2" x2="240.4" y2="473.0" stroke="#C03A3A" stroke-width="0.55" />
<line x1="241.6" y1="427.6" x2="241.5" y2="476.5" stroke="#3A7F3A" stroke-width="0.55" />
<line x1="243.9" y1="425.2" x2="244.2" y2="476.0" stroke="#2E5FA8" stroke-width="0.55" />
<line x1="245.3" y1="428.1" x2="245.4" y2="473.7" stroke="#B85C9E" stroke-width="0.55" />
<line x1="247.7" y1="428.0" x2="247.7" y2="473.3" stroke="#8A6D3B" stroke-width="0.55" />
<polyline points="191.1,473.0 192.2,473.1 193.3,472.2 194.4,472.4 195.5,475.0 196.6,474.5 197.7,473.9 198.8,473.5 199.9,473.7 201.0,472.6 202.1,472.6 203.2,472.8 204.3,475.1 205.4,474.4 206.5,474.3 207.6,474.1 208.7,473.6 209.8,473.4 210.9,473.2 212.0,472.2 213.1,475.6 214.2,475.2 215.3,474.4 216.4,474.5 217.5,473.4 218.6,472.9 219.7,473.3 220.8,472.2 221.9,472.2 223.0,475.0 224.1,474.7 225.2,474.2 226.3,473.6 227.4,473.3 228.5,472.7 229.6,472.7 230.7,472.0 231.8,475.2 232.9,474.3 234.0,474.1 235.1,474.1 236.2,473.2 237.3,473.3 238.4,472.3 239.5,472.3 240.6,474.9 241.7,474.9 242.8,474.4 243.9,474.3 245.0,473.7 246.1,473.1 247.2,472.2 248.3,472.6 249.4,475.5 250.5,474.8" fill="none" stroke="#7B5EA7" stroke-width="0.7"/>
<polyline points="191.2,475.1 192.3,474.4 193.4,474.2 194.5,473.7 195.6,472.9 196.7,475.7 197.8,475.5 198.9,475.3 200.0,474.4 201.1,474.2 202.2,474.2 203.3,473.3 204.4,472.8 205.5,475.6 206.6,475.6 207.7,475.5 208.8,474.6 209.9,474.6 211.0,474.1 212.1,474.1 213.2,472.8 214.3,475.9 215.4,475.9 216.5,475.6 217.6,475.0 218.7,474.9 219.8,474.5 220.9,473.9 222.0,473.3 223.1,473.2 224.2,475.5 225.3,475.3 226.4,475.3 227.5,475.0 228.6,474.6 229.7,473.5 230.8,473.6 231.9,473.1 233.0,475.7 234.1,475.3 235.2,474.8 236.3,474.7 237.4,474.4 238.5,473.5 239.6,473.1 240.7,473.0 241.8,476.3 242.9,475.9 244.0,475.2 245.1,475.2 246.2,474.7 247.3,473.9 248.4,473.2 249.5,473.0 250.6,476.2" fill="none" stroke="#C03A3A" stroke-width="0.7"/>
<polyline points="191.1,476.3 192.2,475.6 193.3,475.1 194.4,474.8 195.5,474.4 196.6,474.5 197.7,474.0 198.8,476.4 199.9,476.0 201.0,475.8 202.1,475.4 203.2,474.9 204.3,474.9 205.4,474.4 206.5,473.8 207.6,476.7 208.7,476.0 209.8,476.2 210.9,475.8 212.0,474.8 213.1,474.5 214.2,474.0 215.3,473.5 216.4,476.5 217.5,476.8 218.6,476.2 219.7,475.7 220.8,475.5 221.9,475.1 223.0,474.8 224.1,474.5 225.2,476.8 226.3,476.9 227.4,476.5 228.5,475.6 229.6,474.9 230.7,475.3 231.8,474.3 232.9,474.2 234.0,477.1 235.1,476.0 236.2,476.1 237.3,475.4 238.4,475.5 239.5,474.9 240.6,474.4 241.7,474.3 242.8,476.6 243.9,476.7 245.0,476.5 246.1,476.0 247.2,475.5 248.3,474.8 249.4,475.0" fill="none" stroke="#3A7F3A" stroke-width="0.7"/>
<polyline points="191.6,475.2 192.7,474.7 193.8,477.8 194.9,476.8 196.0,476.5 197.1,476.4 198.2,476.1 199.3,475.3 200.4,475.7 201.5,474.5 202.6,477.9 203.7,477.1 204.8,476.4 205.9,476.8 207.0,476.0 208.1,475.6 209.2,475.6 210.3,474.6 211.4,478.1 212.5,477.3 213.6,476.9 214.7,476.6 215.8,476.6 216.9,475.8 218.0,475.4 219.1,474.8 220.2,477.5 221.3,477.0 222.4,477.2 223.5,477.0 224.6,476.1 225.7,476.0 226.8,475.4 227.9,475.2 229.0,477.8 230.1,477.4 231.2,477.3 232.3,476.3 233.4,476.3 234.5,476.3 235.6,475.5 236.7,475.2 237.8,474.4 238.9,477.8 240.0,477.0 241.1,476.9 242.2,476.1 243.3,476.0 244.4,475.7 245.5,475.3 246.6,474.8 247.7,477.7 248.8,476.8 249.9,476.4" fill="none" stroke="#2E5FA8" stroke-width="0.7"/>
<polyline points="190.9,476.8 192.0,476.0 193.1,475.7 194.2,475.8 195.3,478.4 196.4,477.9 197.5,477.4 198.6,477.4 199.7,477.3 200.8,476.2 201.9,476.0 203.0,475.9 204.1,478.9 205.2,478.4 206.3,477.4 207.4,477.1 208.5,476.8 209.6,476.8 210.7,475.9 211.8,475.3 212.9,479.1 214.0,478.5 215.1,477.9 216.2,477.9 217.3,476.8 218.4,476.8 219.5,476.0 220.6,475.6 221.7,478.5 222.8,478.2 223.9,477.7 225.0,477.5 226.1,477.0 227.2,476.6 228.3,476.8 229.4,475.6 230.5,475.7 231.6,478.3 232.7,478.5 233.8,477.1 234.9,477.3 236.0,477.3 237.1,476.0 238.2,475.6 239.3,476.0 240.4,478.8 241.5,478.2 242.6,477.3 243.7,477.7 244.8,476.9 245.9,476.6 247.0,475.8 248.1,475.6 249.2,478.3" fill="none" stroke="#B85C9E" stroke-width="0.7"/>
<polyline points="191.6,477.1 192.7,479.8 193.8,479.5 194.9,479.0 196.0,478.0 197.1,478.4 198.2,477.8 199.3,477.1 200.4,477.3 201.5,476.0 202.6,479.5 203.7,478.6 204.8,478.8 205.9,478.0 207.0,477.6 208.1,477.0 209.2,477.5 210.3,476.8 211.4,479.5 212.5,479.3 213.6,479.1 214.7,477.7 215.8,478.2 216.9,477.0 218.0,477.2 219.1,477.1 220.2,479.7 221.3,479.4 222.4,478.3 223.5,477.8 224.6,477.7 225.7,477.2 226.8,477.2 227.9,476.7 229.0,479.8 230.1,479.2 231.2,478.7 232.3,478.0 233.4,477.8 234.5,477.6 235.6,477.4 236.7,477.1 237.8,479.8 238.9,479.3 240.0,478.6 241.1,478.3 242.2,478.4 243.3,477.5 244.4,477.2 245.5,477.0 246.6,476.9 247.7,479.0 248.8,479.2 249.9,478.1" fill="none" stroke="#8A6D3B" stroke-width="0.7"/>
<polyline points="190.8,479.2 191.9,478.2 193.0,478.2 194.1,478.0 195.2,480.4 196.3,480.4 197.4,479.7 198.5,479.4 199.6,478.5 200.7,478.7 201.8,478.5 202.9,477.8 204.0,480.6 205.1,480.0 206.2,479.7 207.3,479.2 208.4,478.8 209.5,478.4 210.6,478.1 211.7,477.7 212.8,477.2 213.9,480.1 215.0,479.5 216.1,479.8 217.2,478.5 218.3,479.0 219.4,478.0 220.5,478.2 221.6,477.6 222.7,479.9 223.8,480.2 224.9,479.0 226.0,478.8 227.1,479.1 228.2,478.2 229.3,477.9 230.4,477.1 231.5,480.1 232.6,479.9 233.7,479.3 234.8,479.6 235.9,479.0 237.0,478.3 238.1,477.8 239.2,477.6 240.3,480.0 241.4,479.9 242.5,479.4 243.6,479.5 244.7,478.4 245.8,478.5 246.9,477.6 248.0,477.8 249.1,480.5 250.2,479.7" fill="none" stroke="#3AA0A0" stroke-width="0.7"/>
<polyline points="190.7,479.7 191.8,479.2 192.9,478.9 194.0,478.9 195.1,478.5 196.2,480.9 197.3,480.3 198.4,480.7 199.5,480.3 200.6,479.9 201.7,479.2 202.8,478.5 203.9,478.7 205.0,480.6 206.1,481.0 207.2,480.7 208.3,479.9 209.4,479.1 210.5,479.3 211.6,478.4 212.7,478.2 213.8,480.7 214.9,480.9 216.0,480.5 217.1,480.2 218.2,479.6 219.3,479.1 220.4,478.7 221.5,478.0 222.6,481.1 223.7,480.7 224.8,480.4 225.9,480.2 227.0,480.2 228.1,479.0 229.2,478.8 230.3,478.7 231.4,481.4 232.5,480.9 233.6,481.0 234.7,480.1 235.8,480.0 236.9,479.0 238.0,479.1 239.1,478.1 240.2,481.1 241.3,481.5 242.4,480.7 243.5,479.7 244.6,479.9 245.7,479.3 246.8,478.9 247.9,478.6 249.0,477.8 250.1,481.6" fill="none" stroke="#555" stroke-width="0.7"/>
<polyline points="190.7,480.6 191.8,480.8 192.9,479.9 194.0,479.7 195.1,479.5 196.2,481.8 197.3,481.5 198.4,481.1 199.5,480.7 200.6,480.5 201.7,480.2 202.8,480.0 203.9,479.6 205.0,479.1 206.1,481.6 207.2,481.8 208.3,481.0 209.4,481.0 210.5,480.8 211.6,479.8 212.7,479.2 213.8,479.6 214.9,482.3 216.0,481.8 217.1,481.4 218.2,480.5 219.3,480.3 220.4,480.3 221.5,480.0 222.6,479.3 223.7,482.2 224.8,482.1 225.9,481.0 227.0,480.7 228.1,480.4 229.2,479.9 230.3,479.8 231.4,479.2 232.5,482.5 233.6,481.4 234.7,481.7 235.8,480.9 236.9,480.6 238.0,480.4 239.1,480.3 240.2,479.2 241.3,481.8 242.4,481.9 243.5,481.0 244.6,481.3 245.7,481.1 246.8,480.3 247.9,479.7 249.0,479.4 250.1,482.3" fill="none" stroke="#D07A2A" stroke-width="0.7"/>
<polyline points="190.3,481.8 191.4,481.8 192.5,481.6 193.6,480.6 194.7,480.0 195.8,482.7 196.9,482.9 198.0,482.4 199.1,482.3 200.2,481.8 201.3,480.8 202.4,481.1 203.5,479.9 204.6,482.7 205.7,482.8 206.8,482.8 207.9,482.0 209.0,481.7 210.1,481.4 211.2,480.5 212.3,480.3 213.4,480.4 214.5,482.9 215.6,482.3 216.7,482.3 217.8,481.7 218.9,481.3 220.0,480.8 221.1,480.6 222.2,480.5 223.3,482.7 224.4,482.7 225.5,482.4 226.6,481.6 227.7,481.4 228.8,481.3 229.9,480.4 231.0,480.6 232.1,482.6 233.2,482.7 234.3,481.9 235.4,481.4 236.5,481.2 237.6,481.0 238.7,480.9 239.8,480.1 240.9,483.4 242.0,482.9 243.1,482.5 244.2,481.6 245.3,481.3 246.4,480.9 247.5,481.2 248.6,480.8 249.7,483.4" fill="none" stroke="#111" stroke-width="0.7"/>
<polyline points="192.2,482.3 193.5,482.4 194.8,482.3 196.1,482.1 197.4,482.3 198.7,482.3 200.0,481.8 201.3,482.3 202.6,481.7 203.9,482.5 205.2,481.9 206.5,481.7 207.8,481.6 209.1,482.2 210.4,481.7 211.7,482.0 213.0,481.6 214.3,482.3 215.6,482.5 216.9,481.6 218.2,482.2 219.5,482.2 220.8,482.2 222.1,482.6 223.4,481.9 224.7,482.5 226.0,482.1 227.3,481.8 228.6,481.9 229.9,481.7 231.2,482.4 232.5,481.8 233.8,482.2 235.1,482.4 236.4,481.9 237.7,482.3 239.0,482.3 240.3,482.0 241.6,482.4 242.9,482.0 244.2,481.7 245.5,481.7 246.8,481.7" fill="none" stroke="#111" stroke-width="0.9"/>
<text x="222.4" y="489.8" font-size="7" text-anchor="middle" fill="#222" >80pA</text>
<line x1="178.1" y1="512.3" x2="272.4" y2="512.3" stroke="#999" stroke-width="0.6" />
<line x1="191.5" y1="491.7" x2="250.0" y2="491.7" stroke="#888" stroke-width="0.5" />
<line x1="191.5" y1="493.8" x2="250.0" y2="493.8" stroke="#B9A0A0" stroke-width="0.5" />
<line x1="191.5" y1="495.9" x2="250.0" y2="495.9" stroke="#9AA8B8" stroke-width="0.5" />
<line x1="191.5" y1="498.0" x2="250.0" y2="498.0" stroke="#B0B0B0" stroke-width="0.5" />
<line x1="191.5" y1="500.1" x2="250.0" y2="500.1" stroke="#C4A8B8" stroke-width="0.5" />
<line x1="191.5" y1="502.3" x2="250.0" y2="502.3" stroke="#A8B8A8" stroke-width="0.5" />
<line x1="191.5" y1="504.4" x2="250.0" y2="504.4" stroke="#999" stroke-width="0.5" />
<line x1="191.5" y1="506.5" x2="250.0" y2="506.5" stroke="#B8A8C0" stroke-width="0.5" />
<line x1="191.5" y1="508.6" x2="250.0" y2="508.6" stroke="#aaa" stroke-width="0.5" />
<line x1="191.5" y1="510.7" x2="250.0" y2="510.7" stroke="#90A0B0" stroke-width="0.5" />
<line x1="191.5" y1="515.0" x2="250.0" y2="515.0" stroke="#888" stroke-width="0.5" />
<line x1="191.5" y1="491.7" x2="191.5" y2="515.0" stroke="#777" stroke-width="0.6" />
<line x1="250.0" y1="491.7" x2="250.0" y2="515.0" stroke="#777" stroke-width="0.6" />
<text x="223.6" y="525.0" font-size="7" text-anchor="middle" fill="#222" >-10pA</text>
<line x1="266.1" y1="465.3" x2="266.1" y2="472.9" stroke="#555" stroke-width="0.5" />
<line x1="266.1" y1="472.9" x2="278.6" y2="472.9" stroke="#555" stroke-width="0.5" />
<text x="264.3" y="469.0" font-size="2.2" text-anchor="middle" fill="#444" transform="rotate(-90 264.3 469.0)" >10mV</text>
<text x="272.0" y="475.8" font-size="2.4" text-anchor="middle" fill="#444" >100ms</text>
<text x="287.0" y="410.0" font-size="11.5" text-anchor="start" fill="#111" font-weight="bold" >l</text>
<line x1="330.2" y1="411.2" x2="330.2" y2="517.0" stroke="#333" stroke-width="0.9" />
<line x1="329.8" y1="516.6" x2="488.3" y2="516.6" stroke="#333" stroke-width="0.9" />
<line x1="326.7" y1="516.6" x2="330.2" y2="516.6" stroke="#333" stroke-width="0.9" />
<text x="324.0" y="519.1" font-size="7" text-anchor="end" fill="#1a1a1a" >0</text>
<line x1="326.7" y1="490.4" x2="330.2" y2="490.4" stroke="#333" stroke-width="0.9" />
<text x="324.0" y="492.9" font-size="7" text-anchor="end" fill="#1a1a1a" >5</text>
<line x1="326.7" y1="464.1" x2="330.2" y2="464.1" stroke="#333" stroke-width="0.9" />
<text x="324.0" y="466.6" font-size="7" text-anchor="end" fill="#1a1a1a" >10</text>
<line x1="326.7" y1="437.9" x2="330.2" y2="437.9" stroke="#333" stroke-width="0.9" />
<text x="324.0" y="440.4" font-size="7" text-anchor="end" fill="#1a1a1a" >15</text>
<line x1="326.7" y1="411.6" x2="330.2" y2="411.6" stroke="#333" stroke-width="0.9" />
<text x="324.0" y="414.1" font-size="7" text-anchor="end" fill="#1a1a1a" >20</text>
<line x1="340.4" y1="516.6" x2="340.4" y2="519.6" stroke="#333" stroke-width="0.9" />
<text x="340.4" y="529.0" font-size="7.8" text-anchor="middle" fill="#1a1a1a" >-10</text>
<line x1="355.6" y1="516.6" x2="355.6" y2="519.6" stroke="#333" stroke-width="0.9" />
<text x="355.6" y="529.0" font-size="7.8" text-anchor="middle" fill="#1a1a1a" >0</text>
<line x1="370.9" y1="516.6" x2="370.9" y2="519.6" stroke="#333" stroke-width="0.9" />
<text x="370.9" y="529.0" font-size="7.8" text-anchor="middle" fill="#1a1a1a" >10</text>
<line x1="386.1" y1="516.6" x2="386.1" y2="519.6" stroke="#333" stroke-width="0.9" />
<text x="386.1" y="529.0" font-size="7.8" text-anchor="middle" fill="#1a1a1a" >20</text>
<line x1="401.4" y1="516.6" x2="401.4" y2="519.6" stroke="#333" stroke-width="0.9" />
<text x="401.4" y="529.0" font-size="7.8" text-anchor="middle" fill="#1a1a1a" >30</text>
<line x1="416.6" y1="516.6" x2="416.6" y2="519.6" stroke="#333" stroke-width="0.9" />
<text x="416.6" y="529.0" font-size="7.8" text-anchor="middle" fill="#1a1a1a" >40</text>
<line x1="431.9" y1="516.6" x2="431.9" y2="519.6" stroke="#333" stroke-width="0.9" />
<text x="431.9" y="529.0" font-size="7.8" text-anchor="middle" fill="#1a1a1a" >50</text>
<line x1="447.1" y1="516.6" x2="447.1" y2="519.6" stroke="#333" stroke-width="0.9" />
<text x="447.1" y="529.0" font-size="7.8" text-anchor="middle" fill="#1a1a1a" >60</text>
<line x1="462.4" y1="516.6" x2="462.4" y2="519.6" stroke="#333" stroke-width="0.9" />
<text x="462.4" y="529.0" font-size="7.8" text-anchor="middle" fill="#1a1a1a" >70</text>
<line x1="477.6" y1="516.6" x2="477.6" y2="519.6" stroke="#333" stroke-width="0.9" />
<text x="477.6" y="529.0" font-size="7.8" text-anchor="middle" fill="#1a1a1a" >80</text>
<text x="308.8" y="470.0" font-size="7" text-anchor="middle" fill="#1a1a1a" transform="rotate(-90 308.8 470.0)" >Frequency (Hz)</text>
<polyline points="340.4,516.6 355.6,516.6 370.9,510.6 386.1,496.8 401.4,489.8 416.6,482.7 431.9,473.1 447.1,468.6 462.4,456.2 477.6,447.5" fill="none" stroke="#8EC3EA" stroke-width="0.9"/>
<polyline points="340.4,516.6 355.6,516.6 370.9,505.1 386.1,484.2 401.4,479.9 416.6,467.8 431.9,458.3 447.1,448.4 462.4,439.4 477.6,429.5" fill="none" stroke="#DC737D" stroke-width="0.9"/>
<line x1="370.9" y1="506.4" x2="370.9" y2="514.8" stroke="#8EC3EA" stroke-width="0.8" />
<line x1="369.4" y1="506.4" x2="372.4" y2="506.4" stroke="#8EC3EA" stroke-width="0.8" />
<line x1="369.4" y1="514.8" x2="372.4" y2="514.8" stroke="#8EC3EA" stroke-width="0.8" />
<line x1="386.1" y1="494.7" x2="386.1" y2="498.9" stroke="#8EC3EA" stroke-width="0.8" />
<line x1="384.6" y1="494.7" x2="387.6" y2="494.7" stroke="#8EC3EA" stroke-width="0.8" />
<line x1="384.6" y1="498.9" x2="387.6" y2="498.9" stroke="#8EC3EA" stroke-width="0.8" />
<line x1="401.4" y1="488.2" x2="401.4" y2="491.4" stroke="#8EC3EA" stroke-width="0.8" />
<line x1="399.9" y1="488.2" x2="402.9" y2="488.2" stroke="#8EC3EA" stroke-width="0.8" />
<line x1="399.9" y1="491.4" x2="402.9" y2="491.4" stroke="#8EC3EA" stroke-width="0.8" />
<line x1="416.6" y1="481.1" x2="416.6" y2="484.3" stroke="#8EC3EA" stroke-width="0.8" />
<line x1="415.1" y1="481.1" x2="418.1" y2="481.1" stroke="#8EC3EA" stroke-width="0.8" />
<line x1="415.1" y1="484.3" x2="418.1" y2="484.3" stroke="#8EC3EA" stroke-width="0.8" />
<line x1="431.9" y1="471.0" x2="431.9" y2="475.2" stroke="#8EC3EA" stroke-width="0.8" />
<line x1="430.4" y1="471.0" x2="433.4" y2="471.0" stroke="#8EC3EA" stroke-width="0.8" />
<line x1="430.4" y1="475.2" x2="433.4" y2="475.2" stroke="#8EC3EA" stroke-width="0.8" />
<line x1="447.1" y1="467.0" x2="447.1" y2="470.2" stroke="#8EC3EA" stroke-width="0.8" />
<line x1="445.6" y1="467.0" x2="448.6" y2="467.0" stroke="#8EC3EA" stroke-width="0.8" />
<line x1="445.6" y1="470.2" x2="448.6" y2="470.2" stroke="#8EC3EA" stroke-width="0.8" />
<line x1="462.4" y1="453.6" x2="462.4" y2="458.9" stroke="#8EC3EA" stroke-width="0.8" />
<line x1="460.9" y1="453.6" x2="463.9" y2="453.6" stroke="#8EC3EA" stroke-width="0.8" />
<line x1="460.9" y1="458.9" x2="463.9" y2="458.9" stroke="#8EC3EA" stroke-width="0.8" />
<line x1="477.6" y1="444.4" x2="477.6" y2="450.7" stroke="#8EC3EA" stroke-width="0.8" />
<line x1="476.1" y1="444.4" x2="479.1" y2="444.4" stroke="#8EC3EA" stroke-width="0.8" />
<line x1="476.1" y1="450.7" x2="479.1" y2="450.7" stroke="#8EC3EA" stroke-width="0.8" />
<line x1="370.9" y1="501.4" x2="370.9" y2="508.7" stroke="#DC737D" stroke-width="0.8" />
<line x1="369.4" y1="501.4" x2="372.4" y2="501.4" stroke="#DC737D" stroke-width="0.8" />
<line x1="369.4" y1="508.7" x2="372.4" y2="508.7" stroke="#DC737D" stroke-width="0.8" />
<line x1="386.1" y1="480.5" x2="386.1" y2="487.9" stroke="#DC737D" stroke-width="0.8" />
<line x1="384.6" y1="480.5" x2="387.6" y2="480.5" stroke="#DC737D" stroke-width="0.8" />
<line x1="384.6" y1="487.9" x2="387.6" y2="487.9" stroke="#DC737D" stroke-width="0.8" />
<line x1="401.4" y1="477.8" x2="401.4" y2="482.0" stroke="#DC737D" stroke-width="0.8" />
<line x1="399.9" y1="477.8" x2="402.9" y2="477.8" stroke="#DC737D" stroke-width="0.8" />
<line x1="399.9" y1="482.0" x2="402.9" y2="482.0" stroke="#DC737D" stroke-width="0.8" />
<line x1="416.6" y1="466.2" x2="416.6" y2="469.4" stroke="#DC737D" stroke-width="0.8" />
<line x1="415.1" y1="466.2" x2="418.1" y2="466.2" stroke="#DC737D" stroke-width="0.8" />
<line x1="415.1" y1="469.4" x2="418.1" y2="469.4" stroke="#DC737D" stroke-width="0.8" />
<line x1="431.9" y1="456.8" x2="431.9" y2="459.9" stroke="#DC737D" stroke-width="0.8" />
<line x1="430.4" y1="456.8" x2="433.4" y2="456.8" stroke="#DC737D" stroke-width="0.8" />
<line x1="430.4" y1="459.9" x2="433.4" y2="459.9" stroke="#DC737D" stroke-width="0.8" />
<line x1="447.1" y1="446.8" x2="447.1" y2="449.9" stroke="#DC737D" stroke-width="0.8" />
<line x1="445.6" y1="446.8" x2="448.6" y2="446.8" stroke="#DC737D" stroke-width="0.8" />
<line x1="445.6" y1="449.9" x2="448.6" y2="449.9" stroke="#DC737D" stroke-width="0.8" />
<line x1="462.4" y1="437.9" x2="462.4" y2="441.0" stroke="#DC737D" stroke-width="0.8" />
<line x1="460.9" y1="437.9" x2="463.9" y2="437.9" stroke="#DC737D" stroke-width="0.8" />
<line x1="460.9" y1="441.0" x2="463.9" y2="441.0" stroke="#DC737D" stroke-width="0.8" />
<line x1="477.6" y1="427.9" x2="477.6" y2="431.0" stroke="#DC737D" stroke-width="0.8" />
<line x1="476.1" y1="427.9" x2="479.1" y2="427.9" stroke="#DC737D" stroke-width="0.8" />
<line x1="476.1" y1="431.0" x2="479.1" y2="431.0" stroke="#DC737D" stroke-width="0.8" />
<rect x="338.2" y="514.4" width="4.4" height="4.4" fill="#DC737D" />
<rect x="353.4" y="514.4" width="4.4" height="4.4" fill="#DC737D" />
<rect x="368.7" y="502.9" width="4.4" height="4.4" fill="#DC737D" />
<rect x="383.9" y="482.0" width="4.4" height="4.4" fill="#DC737D" />
<rect x="399.2" y="477.7" width="4.4" height="4.4" fill="#DC737D" />
<rect x="414.4" y="465.6" width="4.4" height="4.4" fill="#DC737D" />
<rect x="429.7" y="456.1" width="4.4" height="4.4" fill="#DC737D" />
<rect x="444.9" y="446.2" width="4.4" height="4.4" fill="#DC737D" />
<rect x="460.2" y="437.2" width="4.4" height="4.4" fill="#DC737D" />
<rect x="475.4" y="427.3" width="4.4" height="4.4" fill="#DC737D" />
<circle cx="340.4" cy="516.6" r="2.4" fill="#8EC3EA" />
<circle cx="355.6" cy="516.6" r="2.4" fill="#8EC3EA" />
<circle cx="370.9" cy="510.6" r="2.4" fill="#8EC3EA" />
<circle cx="386.1" cy="496.8" r="2.4" fill="#8EC3EA" />
<circle cx="401.4" cy="489.8" r="2.4" fill="#8EC3EA" />
<circle cx="416.6" cy="482.7" r="2.4" fill="#8EC3EA" />
<circle cx="431.9" cy="473.1" r="2.4" fill="#8EC3EA" />
<circle cx="447.1" cy="468.6" r="2.4" fill="#8EC3EA" />
<circle cx="462.4" cy="456.2" r="2.4" fill="#8EC3EA" />
<circle cx="477.6" cy="447.5" r="2.4" fill="#8EC3EA" />
<line x1="348.1" y1="415.9" x2="358.2" y2="415.9" stroke="#8EC3EA" stroke-width="0.9" />
<circle cx="353.3" cy="415.9" r="2.4" fill="#8EC3EA" />
<text x="365.7" y="419.0" font-size="8.6" text-anchor="start" fill="#1a1a1a" >LV-GFP</text>
<line x1="406.9" y1="415.9" x2="417.7" y2="415.9" stroke="#DC737D" stroke-width="0.9" />
<rect x="410.1" y="413.7" width="4.4" height="4.4" fill="#DC737D" />
<text x="424.3" y="419.0" font-size="8.6" text-anchor="start" fill="#1a1a1a" >LV-shCR3</text>
<text x="383.7" y="480.9" font-size="12" text-anchor="middle" fill="#222" >***</text>
<text x="401.0" y="476.9" font-size="12" text-anchor="middle" fill="#222" >**</text>
<text x="414.9" y="464.2" font-size="12" text-anchor="middle" fill="#222" >****</text>
<text x="432.0" y="455.4" font-size="12" text-anchor="middle" fill="#222" >****</text>
<text x="447.0" y="445.6" font-size="12" text-anchor="middle" fill="#222" >****</text>
<text x="462.2" y="438.6" font-size="12" text-anchor="middle" fill="#222" >****</text>
<text x="477.7" y="428.0" font-size="12" text-anchor="middle" fill="#222" >****</text>
<text x="529.0" y="410.0" font-size="11.5" text-anchor="start" fill="#111" font-weight="bold" >m</text>
<rect x="589.1" y="412.1" width="18.9" height="78.8" fill="#9EC6E8" stroke="#2a2a2a" stroke-width="0.9" />
<rect x="618.5" y="412.1" width="18.4" height="74.6" fill="#D9757D" stroke="#2a2a2a" stroke-width="0.9" />
<line x1="579.6" y1="411.7" x2="579.6" y2="513.7" stroke="#333" stroke-width="0.9" />
<line x1="579.6" y1="412.1" x2="646.9" y2="412.1" stroke="#333" stroke-width="0.9" />
<line x1="579.6" y1="513.3" x2="646.9" y2="513.3" stroke="#333" stroke-width="0.9" />
<line x1="576.1" y1="412.1" x2="579.6" y2="412.1" stroke="#333" stroke-width="0.9" />
<text x="574.4" y="414.9" font-size="7.8" text-anchor="end" fill="#1a1a1a" >0</text>
<line x1="576.1" y1="437.4" x2="579.6" y2="437.4" stroke="#333" stroke-width="0.9" />
<text x="574.4" y="440.2" font-size="7.8" text-anchor="end" fill="#1a1a1a" >-20</text>
<line x1="576.1" y1="462.7" x2="579.6" y2="462.7" stroke="#333" stroke-width="0.9" />
<text x="574.4" y="465.5" font-size="7.8" text-anchor="end" fill="#1a1a1a" >-40</text>
<line x1="576.1" y1="488.0" x2="579.6" y2="488.0" stroke="#333" stroke-width="0.9" />
<text x="574.4" y="490.8" font-size="7.8" text-anchor="end" fill="#1a1a1a" >-60</text>
<line x1="576.1" y1="513.3" x2="579.6" y2="513.3" stroke="#333" stroke-width="0.9" />
<text x="574.4" y="516.1" font-size="7.8" text-anchor="end" fill="#1a1a1a" >-80</text>
<line x1="598.4" y1="513.3" x2="598.4" y2="516.3" stroke="#333" stroke-width="0.9" />
<line x1="627.6" y1="513.3" x2="627.6" y2="516.3" stroke="#333" stroke-width="0.9" />
<circle cx="590.5" cy="490.5" r="1.5" fill="#2E6CA4" />
<circle cx="593.0" cy="489.3" r="1.5" fill="#2E6CA4" />
<circle cx="595.5" cy="490.3" r="1.5" fill="#2E6CA4" />
<circle cx="598.0" cy="489.6" r="1.5" fill="#2E6CA4" />
<circle cx="600.0" cy="487.7" r="1.5" fill="#2E6CA4" />
<circle cx="601.5" cy="491.2" r="1.5" fill="#2E6CA4" />
<circle cx="604.0" cy="489.9" r="1.5" fill="#2E6CA4" />
<circle cx="606.5" cy="490.9" r="1.5" fill="#2E6CA4" />
<circle cx="619.7" cy="485.2" r="1.5" fill="#E8486B" />
<circle cx="621.7" cy="487.4" r="1.5" fill="#E8486B" />
<circle cx="624.2" cy="486.2" r="1.5" fill="#E8486B" />
<circle cx="626.7" cy="486.5" r="1.5" fill="#E8486B" />
<circle cx="629.2" cy="487.0" r="1.5" fill="#E8486B" />
<circle cx="631.7" cy="487.4" r="1.5" fill="#E8486B" />
<circle cx="633.7" cy="488.6" r="1.5" fill="#E8486B" />
<circle cx="636.2" cy="486.7" r="1.5" fill="#E8486B" />
<line x1="598.4" y1="409.3" x2="628.0" y2="409.3" stroke="#444" stroke-width="0.9" />
<text x="614.8" y="410.5" font-size="11.5" text-anchor="middle" fill="#222" >***</text>
<text x="598.2" y="527.5" font-size="8.4" text-anchor="middle" fill="#1a1a1a" >LV-GFP</text>
<text x="635.7" y="527.5" font-size="8.3" text-anchor="middle" fill="#1a1a1a" >LV-shCR3</text>
<text x="555.5" y="465.0" font-size="8.4" text-anchor="middle" fill="#1a1a1a" transform="rotate(-90 555.5 465.0)" >Membrane potential(mV)</text>
<text x="1.0" y="537.6" font-size="11.5" text-anchor="start" fill="#111" font-weight="bold" >n</text>
<rect x="12.6" y="546.2" width="186.9" height="13.3" fill="#8EC4E8" />
<text x="100.5" y="557.2" font-size="11" text-anchor="middle" fill="#222" >LV-GFP</text>
<rect x="228.4" y="545.8" width="176.4" height="13.8" fill="#E8737E" />
<text x="319.5" y="557.2" font-size="10.8" text-anchor="middle" fill="#222" >LV-shCR3</text>
<text x="9.9" y="580.2" font-size="8.5" text-anchor="middle" fill="#111" font-weight="bold" transform="rotate(-90 9.9 580.2)" >sEPSCs</text>
<polyline points="13.0,572.6 13.2,570.5 13.5,572.2 13.8,569.0 14.0,571.9 14.2,568.0 14.5,570.7 14.8,575.1 15.0,571.7 15.2,573.3 15.5,572.7 15.8,575.7 16.0,572.0 16.2,570.8 16.5,584.0 16.8,575.7 17.0,572.8 17.2,570.4 17.5,589.8 17.8,580.6 18.0,576.5 18.2,575.0 18.5,568.2 18.8,573.6 19.0,570.0 19.2,572.3 19.5,570.3 19.8,570.5 20.0,569.9 20.2,573.1 20.5,571.9 20.8,570.8 21.0,587.2 21.2,575.0 21.5,575.1 21.8,570.5 22.0,573.8 22.2,573.4 22.5,569.5 22.8,573.7 23.0,568.3 23.2,570.4 23.5,573.2 23.8,568.2 24.0,573.3 24.2,573.2 24.5,567.8 24.8,572.9 25.0,569.4 25.2,570.0 25.5,573.7 25.8,567.2 26.0,574.7 26.2,571.8 26.5,575.3 26.8,574.3 27.0,573.6 27.2,570.5 27.5,569.5 27.8,572.1 28.0,573.3 28.2,574.4 28.5,575.1 28.8,575.0 29.0,568.4 29.2,569.4 29.5,573.2 29.8,571.8 30.0,573.8 30.2,578.5 30.5,576.4 30.8,573.0 31.0,573.9 31.2,570.9 31.5,576.8 31.8,575.2 32.0,574.0 32.2,569.1 32.5,570.8 32.8,571.9 33.0,574.0 33.2,567.9 33.5,568.0 33.8,575.2 34.0,568.3 34.2,569.9 34.5,570.4 34.8,573.2 35.0,580.9 35.2,574.1 35.5,575.7 35.8,569.0 36.0,570.9 36.2,573.7 36.5,573.9 36.8,570.8 37.0,571.6 37.2,571.3 37.5,571.3 37.8,572.2 38.0,568.5 38.2,571.7 38.5,575.5 38.8,575.9 39.0,574.8 39.2,571.8 39.5,575.3 39.8,575.9 40.0,575.2 40.2,570.1 40.5,568.8 40.8,574.1 41.0,568.3 41.2,574.1 41.5,567.9 41.8,569.2 42.0,573.9 42.2,576.1 42.5,574.3 42.8,574.0 43.0,573.2 43.2,574.0 43.5,568.4 43.8,572.8 44.0,569.8 44.2,570.0 44.5,573.8 44.8,570.7 45.0,570.5 45.2,568.5 45.5,575.3 45.8,573.2 46.0,573.1 46.2,573.1 46.5,571.8 46.8,574.6 47.0,568.7 47.2,575.1 47.5,571.7 47.8,569.4 48.0,569.6 48.2,570.2 48.5,573.7 48.8,570.9 49.0,572.2 49.2,573.1 49.5,569.7 49.8,571.6 50.0,569.0 50.2,570.6 50.5,569.8 50.8,572.5 51.0,572.7 51.2,575.4 51.5,573.0 51.8,575.7 52.0,575.2 52.2,572.6 52.5,571.0 52.8,574.9 53.0,580.1 53.2,622.2 53.5,594.8 53.8,587.4 54.0,577.0 54.2,574.3 54.5,575.6 54.8,570.4 55.0,571.1 55.2,573.5 55.5,568.7 55.8,572.0 56.0,570.3 56.2,575.9 56.5,572.2 56.8,570.3 57.0,569.5 57.2,575.2 57.5,575.8 57.8,580.6 58.0,573.7 58.2,575.3 58.5,571.8 58.8,577.0 59.0,572.9 59.2,572.3 59.5,574.1 59.8,574.0 60.0,591.3 60.2,578.6 60.5,577.3 60.8,576.9 61.0,571.5 61.2,573.6 61.5,577.7 61.8,572.2 62.0,569.5 62.2,574.4 62.5,573.9 62.8,569.9 63.0,574.1 63.2,571.0 63.5,573.0 63.8,570.9 64.0,587.6 64.2,578.1 64.5,572.0 64.8,569.6 65.0,574.4 65.2,569.1 65.5,571.1 65.8,574.3 66.0,572.5 66.2,573.7 66.5,573.1 66.8,569.5 67.0,573.2 67.2,573.8 67.5,574.7 67.8,572.4 68.0,580.6 68.2,576.8 68.5,576.2 68.8,573.6 69.0,569.1 69.2,576.9 69.5,574.0 69.8,570.6 70.0,568.9 70.2,573.4 70.5,573.3 70.8,575.3 71.0,574.6 71.2,568.6 71.5,569.5 71.8,572.4 72.0,571.2 72.2,573.6 72.5,575.0 72.8,575.8 73.0,574.1 73.2,575.1 73.5,575.4 73.8,574.5 74.0,568.8 74.2,568.2 74.5,568.9 74.8,573.2 75.0,571.3 75.2,570.3 75.5,573.7 75.8,569.8 76.0,573.8 76.2,571.1 76.5,572.5 76.8,567.5 77.0,573.3 77.2,570.5 77.5,568.2 77.8,569.5 78.0,566.3 78.2,568.1 78.5,572.8 78.8,572.5 79.0,572.6 79.2,569.6 79.5,567.1 79.8,568.1 80.0,569.8 80.2,570.9 80.5,566.7 80.8,571.4 81.0,572.0 81.2,573.1 81.5,567.8 81.8,574.4 82.0,591.2 82.2,582.6 82.5,575.8 82.8,568.5 83.0,568.0 83.2,567.0 83.5,573.1 83.8,573.7 84.0,573.0 84.2,573.7 84.5,569.0 84.8,573.7 85.0,569.2 85.2,567.8 85.5,569.8 85.8,574.2 86.0,573.1 86.2,574.6 86.5,582.4 86.8,574.0 87.0,575.0 87.2,569.8 87.5,573.1 87.8,573.9 88.0,583.7 88.2,578.0 88.5,573.3 88.8,573.1 89.0,569.8 89.2,576.8 89.5,576.4 89.8,575.8 90.0,570.8 90.2,568.4 90.5,574.8 90.8,571.4 91.0,567.8 91.2,568.6 91.5,568.2 91.8,571.1 92.0,569.1 92.2,569.1 92.5,571.1 92.8,572.9 93.0,572.0 93.2,568.7 93.5,573.4 93.8,567.8 94.0,569.7 94.2,568.8 94.5,570.2 94.8,573.4 95.0,575.0 95.2,572.5 95.5,580.6 95.8,579.1 96.0,576.4 96.2,573.2 96.5,573.7 96.8,570.5 97.0,568.4 97.2,573.4 97.5,572.9 97.8,569.4 98.0,575.3 98.2,570.5 98.5,568.5 98.8,574.5 99.0,574.7 99.2,573.2 99.5,572.5 99.8,576.1 100.0,576.1 100.2,574.5 100.5,576.7 100.8,571.7 101.0,570.2 101.2,574.1 101.5,572.7 101.8,569.2 102.0,570.8 102.2,571.6 102.5,574.4 102.8,569.1 103.0,571.0 103.2,569.3 103.5,574.1 103.8,576.7 104.0,571.5 104.2,570.9 104.5,572.6 104.8,571.7 105.0,571.0 105.2,576.0 105.5,571.0 105.8,574.3 106.0,569.1 106.2,571.8 106.5,567.7 106.8,573.8 107.0,580.8 107.2,577.4 107.5,569.4 107.8,570.6 108.0,567.6 108.2,567.6 108.5,569.3 108.8,570.3 109.0,567.4 109.2,572.3 109.5,575.0 109.8,570.0 110.0,581.2 110.2,575.7 110.5,573.9 110.8,569.5 111.0,573.3 111.2,575.2 111.5,573.7 111.8,574.9 112.0,571.8 112.2,569.4 112.5,574.0 112.8,572.8 113.0,571.2 113.2,574.6 113.5,575.4 113.8,570.4 114.0,571.6 114.2,575.3 114.5,573.0 114.8,572.8 115.0,571.8 115.2,574.0 115.5,569.5 115.8,571.5 116.0,576.1 116.2,573.7 116.5,575.4 116.8,573.8 117.0,596.7 117.2,588.4 117.5,576.8 117.8,573.0 118.0,571.9 118.2,569.5 118.5,569.6 118.8,572.2 119.0,574.8 119.2,574.0 119.5,570.4 119.8,568.5 120.0,571.5 120.2,571.4 120.5,569.7 120.8,569.5 121.0,571.0 121.2,582.7 121.5,573.4 121.8,575.7 122.0,570.7 122.2,575.0 122.5,575.6 122.8,572.3 123.0,593.1 123.2,580.1 123.5,573.2 123.8,572.8 124.0,569.1 124.2,576.0 124.5,575.7 124.8,571.2 125.0,572.4 125.2,570.4 125.5,571.0 125.8,574.5 126.0,572.0 126.2,571.8 126.5,574.8 126.8,576.4 127.0,576.3 127.2,576.7 127.5,569.8 127.8,569.4 128.0,575.3 128.2,574.0 128.5,568.1 128.8,578.3 129.0,580.1 129.2,576.8 129.5,573.4 129.8,569.7 130.0,570.8 130.2,571.5 130.5,579.0 130.8,580.0 131.0,577.7 131.2,576.3 131.5,573.1 131.8,573.9 132.0,572.2 132.2,571.9 132.5,573.0 132.8,573.9 133.0,577.2 133.2,573.0 133.5,569.9 133.8,576.1 134.0,570.3 134.2,573.2 134.5,572.5 134.8,575.4 135.0,587.6 135.2,582.0 135.5,575.1 135.8,573.9 136.0,575.4 136.2,574.0 136.5,570.7 136.8,573.1 137.0,569.4 137.2,577.1 137.5,575.8 137.8,574.2 138.0,576.0 138.2,576.1 138.5,573.6 138.8,574.9 139.0,572.9 139.2,578.9 139.5,578.6 139.8,570.1 140.0,570.7 140.2,573.7 140.5,569.1 140.8,570.9 141.0,572.1 141.2,570.2 141.5,574.8 141.8,567.8 142.0,573.7 142.2,567.8 142.5,571.0 142.8,574.7 143.0,570.3 143.2,572.7 143.5,569.6 143.8,568.9 144.0,568.9 144.2,572.8 144.5,569.0 144.8,573.5 145.0,585.4 145.2,582.3 145.5,575.5 145.8,578.0 146.0,580.9 146.2,578.5 146.5,577.3 146.8,576.9 147.0,570.6 147.2,571.8 147.5,570.2 147.8,570.7 148.0,575.7 148.2,575.4 148.5,569.5 148.8,568.2 149.0,571.3 149.2,574.3 149.5,570.8 149.8,570.9 150.0,594.8 150.2,581.7 150.5,574.5 150.8,574.1 151.0,573.5 151.2,572.9 151.5,569.1 151.8,570.7 152.0,572.5 152.2,570.8 152.5,574.0 152.8,571.8 153.0,571.1 153.2,580.0 153.5,578.1 153.8,573.3 154.0,573.1 154.2,574.4 154.5,574.4 154.8,569.4 155.0,575.1 155.2,573.0 155.5,572.2 155.8,575.2 156.0,589.1 156.2,583.4 156.5,575.5 156.8,577.8 157.0,577.9 157.2,575.1 157.5,569.3 157.8,574.5 158.0,572.5 158.2,570.9 158.5,573.1 158.8,569.6 159.0,571.4 159.2,570.1 159.5,570.1 159.8,572.5 160.0,568.4 160.2,569.6 160.5,568.9 160.8,572.3 161.0,574.9 161.2,570.7 161.5,569.6 161.8,574.4 162.0,574.5 162.2,570.3 162.5,574.2 162.8,571.3 163.0,568.2 163.2,574.8 163.5,573.4 163.8,568.8 164.0,573.5 164.2,575.1 164.5,610.1 164.8,588.3 165.0,579.4 165.2,576.0 165.5,576.7 165.8,575.0 166.0,575.1 166.2,573.3 166.5,577.4 166.8,572.5 167.0,571.5 167.2,574.0 167.5,581.9 167.8,574.3 168.0,574.4 168.2,576.1 168.5,570.4 168.8,574.7 169.0,574.1 169.2,572.7 169.5,572.7 169.8,569.2 170.0,574.6 170.2,567.3 170.5,574.1 170.8,580.4 171.0,577.3 171.2,583.5 171.5,574.7 171.8,571.4 172.0,580.8 172.2,578.7 172.5,575.4 172.8,579.7 173.0,574.9 173.2,569.9 173.5,573.5 173.8,568.7 174.0,567.7 174.2,574.6 174.5,572.9 174.8,567.2 175.0,569.3 175.2,574.2 175.5,574.8 175.8,581.7 176.0,575.4 176.2,571.0 176.5,573.8 176.8,568.5 177.0,572.2 177.2,570.6 177.5,574.6 177.8,570.4 178.0,568.5 178.2,571.1 178.5,574.5 178.8,567.4 179.0,567.7 179.2,575.0 179.5,568.8 179.8,571.3 180.0,576.8 180.2,572.3 180.5,570.9 180.8,570.3 181.0,570.5 181.2,574.6 181.5,574.7 181.8,573.0 182.0,573.3 182.2,575.0 182.5,568.3 182.8,574.9 183.0,573.3 183.2,570.8 183.5,571.9 183.8,571.7 184.0,589.7 184.2,578.9 184.5,577.3 184.8,577.4 185.0,570.2 185.2,568.3 185.5,572.4 185.8,569.2 186.0,567.7 186.2,570.7 186.5,573.9 186.8,569.7 187.0,567.7 187.2,573.2 187.5,572.8 187.8,568.6 188.0,568.7 188.2,572.5 188.5,568.7 188.8,571.5 189.0,571.6 189.2,569.2 189.5,573.0 189.8,574.7 190.0,574.9 190.2,574.1 190.5,569.9 190.8,575.4 191.0,574.0 191.2,577.1 191.5,578.7 191.8,570.9 192.0,575.5 192.2,571.1 192.5,575.4 192.8,570.9 193.0,596.9 193.2,587.9 193.5,574.9 193.8,572.8 194.0,576.4 194.2,575.3 194.5,570.0 194.8,571.7 195.0,570.7 195.2,570.4 195.5,575.6 195.8,574.2 196.0,569.4 196.2,569.3 196.5,576.2 196.8,578.3 197.0,573.6 197.2,575.7 197.5,570.8 197.8,570.3 198.0,571.2 198.2,569.9 198.5,571.9" fill="none" stroke="#8EC4E8" stroke-width="0.85" stroke-linejoin="round"/>
<polyline points="225.4,576.2 225.7,572.3 225.9,574.3 226.2,571.2 226.4,571.9 226.7,572.0 226.9,570.9 227.2,568.3 227.4,573.9 227.7,569.6 227.9,575.0 228.2,568.6 228.4,567.1 228.7,571.7 228.9,566.9 229.2,569.3 229.4,568.8 229.7,578.2 229.9,577.4 230.2,570.4 230.4,568.3 230.7,570.2 230.9,574.6 231.2,568.1 231.4,569.4 231.7,571.5 231.9,588.6 232.2,584.3 232.4,579.7 232.7,576.9 232.9,575.3 233.2,572.0 233.4,570.1 233.7,575.8 233.9,571.5 234.2,575.8 234.4,582.5 234.7,578.2 234.9,580.0 235.2,580.3 235.4,578.8 235.7,574.8 235.9,575.7 236.2,576.2 236.4,568.6 236.7,573.1 236.9,574.5 237.2,572.3 237.4,604.7 237.7,588.4 237.9,584.9 238.2,579.7 238.4,577.1 238.7,579.1 238.9,577.7 239.2,572.8 239.4,568.1 239.7,572.3 239.9,574.5 240.2,568.7 240.4,573.6 240.7,568.2 240.9,574.1 241.2,571.8 241.4,573.5 241.7,569.3 241.9,574.6 242.2,568.2 242.4,574.3 242.7,571.3 242.9,573.5 243.2,574.1 243.4,570.1 243.7,571.4 243.9,569.9 244.2,569.5 244.4,571.8 244.7,574.8 244.9,598.4 245.2,582.1 245.4,577.5 245.7,574.1 245.9,571.3 246.2,571.9 246.4,576.6 246.7,574.1 246.9,571.7 247.2,573.3 247.4,572.3 247.7,576.0 247.9,572.8 248.2,575.1 248.4,573.7 248.7,568.7 248.9,574.0 249.2,574.7 249.4,572.0 249.7,571.9 249.9,570.9 250.2,569.4 250.4,570.3 250.7,567.4 250.9,575.2 251.2,574.4 251.4,575.2 251.7,572.4 251.9,572.9 252.2,574.9 252.4,570.0 252.7,574.6 252.9,574.4 253.2,572.3 253.4,573.1 253.7,577.0 253.9,571.9 254.2,572.1 254.4,577.7 254.7,573.9 254.9,589.6 255.2,578.3 255.4,573.1 255.7,575.5 255.9,573.1 256.1,578.7 256.4,572.2 256.6,578.4 256.9,574.5 257.1,569.8 257.4,571.2 257.6,576.6 257.9,570.3 258.1,572.2 258.4,574.7 258.6,576.7 258.9,578.0 259.1,579.0 259.4,571.8 259.6,571.5 259.9,569.5 260.1,571.4 260.4,574.7 260.6,574.7 260.9,576.5 261.1,574.1 261.4,575.3 261.6,573.0 261.9,575.6 262.1,569.1 262.4,575.1 262.6,571.5 262.9,575.0 263.1,571.2 263.4,568.8 263.6,569.3 263.9,569.8 264.1,575.6 264.4,570.8 264.6,572.9 264.9,570.9 265.1,577.4 265.4,577.2 265.6,573.2 265.9,577.4 266.1,579.5 266.4,580.8 266.6,577.0 266.9,574.9 267.1,574.3 267.4,575.9 267.6,571.9 267.9,574.0 268.1,576.0 268.4,576.8 268.6,575.1 268.9,574.5 269.1,577.2 269.4,570.3 269.6,573.4 269.9,574.1 270.1,574.1 270.4,581.8 270.6,578.7 270.9,597.9 271.1,582.2 271.4,579.6 271.6,574.8 271.9,574.0 272.1,571.1 272.4,570.6 272.6,573.8 272.9,570.2 273.1,572.1 273.4,571.3 273.6,574.4 273.9,571.0 274.1,575.1 274.4,571.9 274.6,569.0 274.9,575.8 275.1,574.3 275.4,573.7 275.6,571.4 275.9,570.9 276.1,568.8 276.4,571.2 276.6,570.3 276.9,570.4 277.1,570.4 277.4,571.2 277.6,575.1 277.9,573.2 278.1,572.3 278.4,582.6 278.6,573.8 278.9,571.8 279.1,572.4 279.4,575.3 279.6,570.8 279.9,571.6 280.1,570.5 280.4,571.2 280.6,570.8 280.9,586.4 281.1,580.8 281.4,579.8 281.6,572.6 281.9,577.7 282.1,576.9 282.4,576.3 282.6,574.7 282.9,569.8 283.1,570.0 283.4,573.7 283.6,578.7 283.9,579.0 284.1,570.6 284.4,570.9 284.6,572.9 284.9,572.9 285.1,571.1 285.4,575.7 285.6,577.5 285.9,572.5 286.1,571.2 286.4,575.2 286.6,572.4 286.9,571.0 287.1,571.2 287.4,571.0 287.6,570.8 287.9,568.5 288.1,573.9 288.4,570.7 288.6,571.5 288.9,594.6 289.1,584.7 289.4,573.7 289.6,574.8 289.9,574.1 290.1,571.8 290.4,568.7 290.6,568.7 290.9,570.5 291.1,571.8 291.4,569.9 291.6,572.1 291.9,575.6 292.1,577.8 292.4,575.4 292.6,575.7 292.9,571.4 293.1,574.5 293.4,574.8 293.6,572.8 293.9,568.1 294.1,574.0 294.4,575.0 294.6,572.5 294.9,569.4 295.1,571.6 295.4,569.5 295.6,570.3 295.9,576.1 296.1,570.7 296.4,568.5 296.6,575.6 296.9,569.3 297.1,569.2 297.4,575.4 297.6,575.5 297.9,574.8 298.1,576.1 298.4,576.1 298.6,568.1 298.9,572.0 299.1,568.9 299.4,573.9 299.6,577.1 299.9,585.1 300.1,579.6 300.4,609.3 300.6,589.3 300.9,579.0 301.1,573.2 301.4,571.2 301.6,571.0 301.9,573.4 302.1,570.9 302.4,574.8 302.6,576.6 302.9,574.7 303.1,572.8 303.4,572.9 303.6,572.5 303.9,575.7 304.1,574.4 304.4,572.0 304.6,570.6 304.9,570.3 305.1,569.6 305.4,570.2 305.6,572.9 305.9,574.8 306.1,571.1 306.4,569.4 306.6,575.3 306.9,568.1 307.1,568.2 307.4,572.2 307.6,570.4 307.9,571.2 308.1,571.9 308.4,570.2 308.6,573.7 308.9,567.4 309.1,574.8 309.4,573.0 309.6,577.1 309.9,598.2 310.1,580.5 310.4,579.7 310.6,574.9 310.9,573.2 311.1,571.6 311.4,571.0 311.6,567.7 311.9,568.5 312.1,573.6 312.4,574.6 312.6,573.4 312.9,571.8 313.1,570.0 313.4,577.0 313.6,581.6 313.9,579.2 314.1,579.5 314.4,576.3 314.6,572.6 314.9,570.7 315.1,575.2 315.4,571.5 315.6,573.6 315.9,572.4 316.1,573.2 316.4,571.2 316.6,570.3 316.9,576.0 317.1,575.4 317.4,570.4 317.6,571.5 317.9,573.9 318.1,577.3 318.4,576.3 318.6,577.5 318.9,572.8 319.1,576.1 319.4,577.4 319.6,575.4 319.9,578.2 320.1,576.2 320.4,575.8 320.6,578.8 320.9,571.0 321.1,575.5 321.4,575.8 321.6,575.2 321.9,590.7 322.1,582.2 322.4,577.9 322.6,576.1 322.9,573.2 323.1,567.6 323.4,573.3 323.6,567.1 323.9,569.9 324.1,572.0 324.4,574.6 324.6,572.0 324.9,568.7 325.1,573.4 325.4,573.2 325.6,576.2 325.9,589.3 326.1,579.2 326.4,578.1 326.6,576.5 326.9,574.7 327.1,573.9 327.4,575.5 327.6,573.7 327.9,571.6 328.1,575.9 328.4,575.1 328.6,572.3 328.9,572.6 329.1,567.5 329.4,572.4 329.6,570.8 329.9,574.4 330.1,574.7 330.4,576.3 330.6,571.9 330.9,574.0 331.1,570.8 331.4,572.9 331.6,570.5 331.9,571.3 332.1,571.6 332.4,574.3 332.6,569.8 332.9,572.6 333.1,574.6 333.4,570.8 333.6,569.0 333.9,574.5 334.1,572.8 334.4,575.6 334.6,569.6 334.9,570.3 335.1,569.7 335.4,571.8 335.6,570.2 335.9,588.7 336.1,582.6 336.4,574.9 336.6,575.9 336.9,576.2 337.1,576.1 337.4,576.4 337.6,577.2 337.9,573.3 338.1,576.7 338.4,578.4 338.6,576.5 338.9,571.2 339.1,570.4 339.4,569.8 339.6,573.0 339.9,569.4 340.1,573.0 340.4,569.9 340.6,572.7 340.9,572.1 341.1,573.5 341.4,572.6 341.6,570.0 341.9,572.7 342.1,567.3 342.4,572.1 342.6,569.3 342.9,569.5 343.1,569.8 343.4,575.5 343.6,575.7 343.9,575.8 344.1,571.3 344.4,569.4 344.6,570.7 344.9,584.8 345.1,575.1 345.4,577.4 345.6,574.6 345.9,575.0 346.1,568.8 346.4,573.1 346.6,575.6 346.9,569.4 347.1,574.9 347.4,573.5 347.6,575.9 347.9,574.0 348.1,575.0 348.4,576.0 348.6,568.7 348.9,570.4 349.1,569.0 349.4,571.5 349.6,569.1 349.9,569.5 350.1,571.3 350.4,569.9 350.6,575.0 350.9,572.8 351.1,570.9 351.4,573.3 351.6,571.6 351.9,573.7 352.1,572.9 352.4,575.8 352.6,571.5 352.9,575.0 353.1,572.5 353.4,575.1 353.6,571.8 353.9,572.5 354.1,571.8 354.4,573.9 354.6,577.3 354.9,572.7 355.1,574.4 355.4,573.7 355.6,576.2 355.9,575.8 356.1,576.1 356.4,576.1 356.6,570.7 356.9,583.6 357.1,579.2 357.4,574.0 357.6,576.2 357.9,572.1 358.1,568.9 358.4,570.2 358.6,571.8 358.9,571.1 359.1,572.3 359.4,568.8 359.6,571.4 359.9,569.3 360.1,570.8 360.4,575.0 360.6,573.6 360.9,571.4 361.1,573.1 361.4,570.0 361.6,570.9 361.9,579.2 362.1,575.1 362.4,587.0 362.6,581.9 362.9,578.0 363.1,573.8 363.4,572.9 363.6,574.4 363.9,569.4 364.1,574.2 364.4,568.7 364.6,569.7 364.9,569.2 365.1,575.1 365.4,573.4 365.6,573.0 365.9,569.7 366.1,573.0 366.4,574.2 366.6,574.0 366.9,569.5 367.1,574.9 367.4,575.9 367.6,575.9 367.9,580.9 368.1,581.7 368.4,577.3 368.6,573.0 368.9,573.9 369.1,573.1 369.4,573.3 369.6,575.6 369.9,596.6 370.1,584.0 370.4,577.6 370.6,574.0 370.9,574.1 371.1,575.8 371.4,571.9 371.6,572.7 371.9,570.3 372.1,574.8 372.4,570.1 372.6,570.6 372.9,570.8 373.1,572.9 373.4,574.3 373.6,570.5 373.9,570.2 374.1,574.7 374.4,579.2 374.6,577.6 374.9,572.1 375.1,571.3 375.4,572.3 375.6,569.6 375.9,574.2 376.1,573.4 376.4,571.9 376.6,573.6 376.9,574.4 377.1,571.2 377.4,573.2 377.6,573.7 377.9,572.0 378.1,569.7 378.4,574.3 378.6,573.5 378.9,572.2 379.1,572.6 379.4,575.4 379.6,583.2 379.9,580.2 380.1,573.4 380.4,570.4 380.6,574.3 380.9,574.7 381.1,576.2 381.4,570.5 381.6,574.0 381.9,586.4 382.1,580.9 382.4,574.0 382.6,575.4 382.9,569.8 383.1,570.1 383.4,571.5 383.6,569.6 383.9,568.3 384.1,573.8 384.4,573.1 384.6,568.4 384.9,572.9 385.1,575.2 385.4,575.4 385.6,573.7 385.9,571.5 386.1,571.8 386.4,574.8 386.6,574.7 386.9,574.0 387.1,574.4 387.4,570.0 387.6,571.8 387.9,569.9 388.1,568.4 388.4,567.1 388.6,572.7 388.9,568.2 389.1,574.4 389.4,570.3 389.6,574.9 389.9,571.1 390.1,569.0 390.4,568.6 390.6,567.6 390.9,569.8 391.1,572.1 391.4,570.0 391.6,571.3 391.9,568.5 392.1,582.6 392.4,574.8 392.6,569.1 392.9,593.9 393.1,580.0 393.4,570.5 393.6,570.4 393.9,568.4 394.1,569.8 394.4,566.1 394.6,576.2 394.9,570.5 395.1,571.6 395.4,568.1 395.6,564.7 395.9,569.2 396.1,575.9 396.4,569.1 396.6,570.4 396.9,565.2 397.1,565.9 397.4,570.0 397.6,564.8 397.9,569.1 398.1,566.1 398.4,568.9 398.6,570.0 398.9,569.3 399.1,568.7 399.4,580.0 399.6,575.5 399.9,570.1 400.1,568.8 400.4,570.8 400.6,570.0 400.9,568.0 401.1,572.3 401.4,567.6 401.6,571.8 401.9,570.2 402.1,568.5 402.4,567.0 402.6,572.6 402.9,570.4 403.1,574.4 403.4,573.4 403.6,568.1 403.9,568.0 404.1,569.9 404.4,572.6 404.6,572.5 404.9,592.2 405.1,582.5 405.4,570.6 405.6,571.6 405.9,569.3 406.1,574.3 406.4,569.4 406.6,567.6 406.9,571.3 407.1,571.4 407.4,572.3 407.6,569.2 407.9,573.2 408.1,570.7 408.4,571.2 408.6,575.7 408.9,572.0 409.1,572.2 409.4,568.9 409.6,573.1 409.9,572.1 410.1,575.3 410.4,574.5 410.6,574.1 410.9,578.3 411.1,572.8 411.4,576.1 411.6,574.7 411.9,572.3 412.1,576.4 412.4,574.5" fill="none" stroke="#E5727D" stroke-width="0.85" stroke-linejoin="round"/>
<line x1="206.5" y1="589.5" x2="206.5" y2="610.4" stroke="#222" stroke-width="1.0" />
<line x1="206.0" y1="610.4" x2="227.4" y2="610.4" stroke="#222" stroke-width="1.0" />
<text x="203.5" y="599.8" font-size="7" text-anchor="middle" fill="#222" transform="rotate(-90 203.5 599.8)" >50 pA</text>
<text x="215.3" y="619.3" font-size="7" text-anchor="middle" fill="#222" >2 s</text>
<text x="408.0" y="541.5" font-size="11.5" text-anchor="start" fill="#111" font-weight="bold" >o</text>
<rect x="461.1" y="577.2" width="17.3" height="57.8" fill="#9EC6E8" stroke="#2a2a2a" stroke-width="0.9" />
<rect x="487.7" y="566.0" width="17.1" height="69.0" fill="#D9757D" stroke="#2a2a2a" stroke-width="0.9" />
<line x1="452.3" y1="548.4" x2="452.3" y2="635.4" stroke="#333" stroke-width="0.9" />
<line x1="451.9" y1="635.0" x2="514.3" y2="635.0" stroke="#333" stroke-width="0.9" />
<line x1="448.8" y1="635.0" x2="452.3" y2="635.0" stroke="#333" stroke-width="0.9" />
<text x="447.7" y="638.2" font-size="9" text-anchor="end" fill="#1a1a1a" >0</text>
<line x1="448.8" y1="606.3" x2="452.3" y2="606.3" stroke="#333" stroke-width="0.9" />
<text x="447.7" y="609.5" font-size="9" text-anchor="end" fill="#1a1a1a" >0.5</text>
<line x1="448.8" y1="577.5" x2="452.3" y2="577.5" stroke="#333" stroke-width="0.9" />
<text x="447.7" y="580.8" font-size="9" text-anchor="end" fill="#1a1a1a" >1.0</text>
<line x1="448.8" y1="548.8" x2="452.3" y2="548.8" stroke="#333" stroke-width="0.9" />
<text x="447.7" y="552.0" font-size="9" text-anchor="end" fill="#1a1a1a" >1.5</text>
<line x1="469.8" y1="635.0" x2="469.8" y2="638.0" stroke="#333" stroke-width="0.9" />
<line x1="469.8" y1="574.6" x2="469.8" y2="579.9" stroke="#2E6CA4" stroke-width="0.7" />
<line x1="467.2" y1="574.6" x2="472.2" y2="574.6" stroke="#2E6CA4" stroke-width="0.7" />
<line x1="467.2" y1="579.9" x2="472.2" y2="579.9" stroke="#2E6CA4" stroke-width="0.7" />
<circle cx="464.8" cy="571.5" r="1.7" fill="#2E6CA4" />
<circle cx="470.4" cy="566.4" r="1.7" fill="#2E6CA4" />
<circle cx="475.4" cy="571.5" r="1.7" fill="#2E6CA4" />
<circle cx="462.3" cy="576.5" r="1.7" fill="#2E6CA4" />
<circle cx="467.3" cy="579.8" r="1.7" fill="#2E6CA4" />
<circle cx="472.9" cy="579.8" r="1.7" fill="#2E6CA4" />
<circle cx="465.8" cy="587.3" r="1.7" fill="#2E6CA4" />
<circle cx="472.9" cy="587.3" r="1.7" fill="#2E6CA4" />
<line x1="496.2" y1="635.0" x2="496.2" y2="638.0" stroke="#333" stroke-width="0.9" />
<line x1="496.2" y1="562.9" x2="496.2" y2="569.2" stroke="#E8486B" stroke-width="0.7" />
<line x1="493.8" y1="562.9" x2="498.8" y2="562.9" stroke="#E8486B" stroke-width="0.7" />
<line x1="493.8" y1="569.2" x2="498.8" y2="569.2" stroke="#E8486B" stroke-width="0.7" />
<circle cx="490.5" cy="555.1" r="1.7" fill="#E8486B" />
<circle cx="496.2" cy="556.4" r="1.7" fill="#E8486B" />
<circle cx="490.5" cy="563.9" r="1.7" fill="#E8486B" />
<circle cx="496.2" cy="563.9" r="1.7" fill="#E8486B" />
<circle cx="501.8" cy="563.9" r="1.7" fill="#E8486B" />
<circle cx="496.2" cy="568.9" r="1.7" fill="#E8486B" />
<circle cx="496.2" cy="575.2" r="1.7" fill="#E8486B" />
<circle cx="496.2" cy="581.5" r="1.7" fill="#E8486B" />
<line x1="467.8" y1="545.6" x2="492.5" y2="545.6" stroke="#444" stroke-width="0.9" />
<text x="480.1" y="546.6" font-size="12" text-anchor="middle" fill="#222" >*</text>
<text x="459.5" y="647.0" font-size="9" text-anchor="middle" fill="#1a1a1a" >LV-GFP</text>
<text x="503.1" y="647.0" font-size="9" text-anchor="middle" fill="#1a1a1a" >LV-shCR3</text>
<text x="430.2" y="594.8" font-size="8.8" text-anchor="middle" fill="#1a1a1a" transform="rotate(-90 430.2 594.8)" >Frequency (Hz) of sEPSCs</text>
<text x="529.5" y="543.8" font-size="11.5" text-anchor="start" fill="#111" font-weight="bold" >p</text>
<rect x="587.9" y="578.3" width="16.8" height="59.2" fill="#9EC6E8" stroke="#2a2a2a" stroke-width="0.9" />
<rect x="613.5" y="561.9" width="16.6" height="75.6" fill="#D9757D" stroke="#2a2a2a" stroke-width="0.9" />
<line x1="579.1" y1="547.9" x2="579.1" y2="637.9" stroke="#333" stroke-width="0.9" />
<line x1="578.7" y1="637.5" x2="638.1" y2="637.5" stroke="#333" stroke-width="0.9" />
<line x1="575.6" y1="637.5" x2="579.1" y2="637.5" stroke="#333" stroke-width="0.9" />
<text x="574.1" y="640.7" font-size="9" text-anchor="end" fill="#1a1a1a" >0</text>
<line x1="575.6" y1="619.7" x2="579.1" y2="619.7" stroke="#333" stroke-width="0.9" />
<text x="574.1" y="622.9" font-size="9" text-anchor="end" fill="#1a1a1a" >10</text>
<line x1="575.6" y1="601.8" x2="579.1" y2="601.8" stroke="#333" stroke-width="0.9" />
<text x="574.1" y="605.1" font-size="9" text-anchor="end" fill="#1a1a1a" >20</text>
<line x1="575.6" y1="584.0" x2="579.1" y2="584.0" stroke="#333" stroke-width="0.9" />
<text x="574.1" y="587.2" font-size="9" text-anchor="end" fill="#1a1a1a" >30</text>
<line x1="575.6" y1="566.1" x2="579.1" y2="566.1" stroke="#333" stroke-width="0.9" />
<text x="574.1" y="569.4" font-size="9" text-anchor="end" fill="#1a1a1a" >40</text>
<line x1="575.6" y1="548.3" x2="579.1" y2="548.3" stroke="#333" stroke-width="0.9" />
<text x="574.1" y="551.5" font-size="9" text-anchor="end" fill="#1a1a1a" >50</text>
<line x1="596.3" y1="637.5" x2="596.3" y2="640.5" stroke="#333" stroke-width="0.9" />
<line x1="596.3" y1="576.6" x2="596.3" y2="579.9" stroke="#2E6CA4" stroke-width="0.7" />
<line x1="593.8" y1="576.6" x2="598.8" y2="576.6" stroke="#2E6CA4" stroke-width="0.7" />
<line x1="593.8" y1="579.9" x2="598.8" y2="579.9" stroke="#2E6CA4" stroke-width="0.7" />
<circle cx="591.4" cy="584.0" r="1.7" fill="#2E6CA4" />
<circle cx="595.9" cy="583.3" r="1.7" fill="#2E6CA4" />
<circle cx="600.9" cy="582.8" r="1.7" fill="#2E6CA4" />
<circle cx="593.9" cy="579.0" r="1.7" fill="#2E6CA4" />
<circle cx="599.7" cy="579.0" r="1.7" fill="#2E6CA4" />
<circle cx="590.9" cy="575.2" r="1.7" fill="#2E6CA4" />
<circle cx="601.4" cy="575.2" r="1.7" fill="#2E6CA4" />
<circle cx="596.4" cy="570.7" r="1.7" fill="#2E6CA4" />
<line x1="621.8" y1="637.5" x2="621.8" y2="640.5" stroke="#333" stroke-width="0.9" />
<line x1="621.8" y1="560.2" x2="621.8" y2="563.5" stroke="#E8486B" stroke-width="0.7" />
<line x1="619.3" y1="560.2" x2="624.3" y2="560.2" stroke="#E8486B" stroke-width="0.7" />
<line x1="619.3" y1="563.5" x2="624.3" y2="563.5" stroke="#E8486B" stroke-width="0.7" />
<circle cx="616.5" cy="566.4" r="1.7" fill="#E8486B" />
<circle cx="621.5" cy="566.4" r="1.7" fill="#E8486B" />
<circle cx="627.3" cy="566.4" r="1.7" fill="#E8486B" />
<circle cx="616.5" cy="562.2" r="1.7" fill="#E8486B" />
<circle cx="627.3" cy="562.2" r="1.7" fill="#E8486B" />
<circle cx="621.5" cy="560.2" r="1.7" fill="#E8486B" />
<circle cx="621.5" cy="556.4" r="1.7" fill="#E8486B" />
<circle cx="621.5" cy="553.9" r="1.7" fill="#E8486B" />
<line x1="598.4" y1="543.1" x2="622.3" y2="543.1" stroke="#444" stroke-width="0.9" />
<text x="610.3" y="543.8" font-size="12" text-anchor="middle" fill="#222" >****</text>
<text x="590.6" y="648.8" font-size="9.2" text-anchor="middle" fill="#1a1a1a" >LV-GFP</text>
<text x="634.4" y="648.8" font-size="9.2" text-anchor="middle" fill="#1a1a1a" >LV-shCR3</text>
<text x="555.2" y="593.4" font-size="9.1" text-anchor="middle" fill="#1a1a1a" transform="rotate(-90 555.2 593.4)" >Amplitude (pA) of sEPSCs</text>
<clipPath id="mc15"><rect x="28.1" y="646.3" width="112.9" height="64.6"/></clipPath>
<g clip-path="url(#mc15)">
<rect x="28.1" y="646.3" width="112.9" height="64.6" fill="#05060a" />
<rect x="28.1" y="646.3" width="112.9" height="64.6" filter="url(#qm1)" />
<rect x="28.1" y="646.3" width="112.9" height="64.6" filter="url(#qg1b)" />
</g>
<clipPath id="mc16"><rect x="144.5" y="646.3" width="111.0" height="64.6"/></clipPath>
<g clip-path="url(#mc16)">
<rect x="144.5" y="646.3" width="111.0" height="64.6" fill="#05060a" />
<rect x="144.5" y="646.3" width="111.0" height="64.6" filter="url(#qg1)" />
</g>
<clipPath id="mc17"><rect x="259.8" y="646.3" width="111.9" height="64.6"/></clipPath>
<g clip-path="url(#mc17)">
<rect x="259.8" y="646.3" width="111.9" height="64.6" fill="#05060a" />
<rect x="259.8" y="646.3" width="111.9" height="64.6" filter="url(#qm1)" />
</g>
<clipPath id="mc18"><rect x="28.1" y="714.6" width="112.9" height="64.4"/></clipPath>
<g clip-path="url(#mc18)">
<rect x="28.1" y="714.6" width="112.9" height="64.4" fill="#05060a" />
<rect x="28.1" y="714.6" width="112.9" height="64.4" filter="url(#qm2)" />
<rect x="28.1" y="714.6" width="112.9" height="64.4" filter="url(#qg2b)" />
</g>
<clipPath id="mc19"><rect x="144.5" y="714.6" width="111.0" height="64.4"/></clipPath>
<g clip-path="url(#mc19)">
<rect x="144.5" y="714.6" width="111.0" height="64.4" fill="#05060a" />
<rect x="144.5" y="714.6" width="111.0" height="64.4" filter="url(#qg2)" />
</g>
<clipPath id="mc20"><rect x="259.8" y="714.6" width="111.9" height="64.4"/></clipPath>
<g clip-path="url(#mc20)">
<rect x="259.8" y="714.6" width="111.9" height="64.4" fill="#05060a" />
<rect x="259.8" y="714.6" width="111.9" height="64.4" filter="url(#qm2)" />
</g>
<text x="31.2" y="656.2" font-size="9" text-anchor="start" fill="#fff" ><tspan fill="#2E7D36">VgluT2</tspan><tspan fill="#eee">/</tspan><tspan fill="#B98ABF">SYN</tspan></text>
<text x="147.3" y="656.2" font-size="9" text-anchor="start" fill="#2E7D36" >VgluT2</text>
<text x="262.5" y="656.2" font-size="9" text-anchor="start" fill="#B98ABF" >SYN</text>
<line x1="28.9" y1="706.8" x2="39.7" y2="706.8" stroke="#eee" stroke-width="1.0" />
<text x="1.0" y="652.2" font-size="11.5" text-anchor="start" fill="#111" font-weight="bold" >q</text>
<text x="23.8" y="678.3" font-size="8.6" text-anchor="middle" fill="#9CCBEA" transform="rotate(-90 23.8 678.3)" textLength="54.0" lengthAdjust="spacingAndGlyphs" >LV-GFP-28d</text>
<text x="21.8" y="746.5" font-size="8.8" text-anchor="middle" fill="#E2477C" transform="rotate(-90 21.8 746.5)" textLength="63.0" lengthAdjust="spacingAndGlyphs" >LV-shCR3-28d</text>
<text x="407.0" y="649.0" font-size="11.5" text-anchor="start" fill="#111" font-weight="bold" >r</text>
<rect x="462.3" y="733.5" width="23.6" height="29.6" fill="#86BDE4" stroke="#2a2a2a" stroke-width="0.9" />
<rect x="498.5" y="705.9" width="23.9" height="57.2" fill="#DB717B" stroke="#2a2a2a" stroke-width="0.9" />
<line x1="450.8" y1="678.0" x2="450.8" y2="763.5" stroke="#333" stroke-width="0.9" />
<line x1="450.4" y1="763.1" x2="535.7" y2="763.1" stroke="#333" stroke-width="0.9" />
<line x1="447.3" y1="763.1" x2="450.8" y2="763.1" stroke="#333" stroke-width="0.9" />
<text x="446.5" y="765.7" font-size="7.2" text-anchor="end" fill="#1a1a1a" >0</text>
<line x1="474.1" y1="763.1" x2="474.1" y2="766.1" stroke="#333" stroke-width="0.9" />
<line x1="474.1" y1="731.7" x2="474.1" y2="735.2" stroke="#2E6CA4" stroke-width="0.7" />
<line x1="471.6" y1="731.7" x2="476.6" y2="731.7" stroke="#2E6CA4" stroke-width="0.7" />
<line x1="471.6" y1="735.2" x2="476.6" y2="735.2" stroke="#2E6CA4" stroke-width="0.7" />
<circle cx="467.8" cy="726.7" r="1.9" fill="#2E6CA4" />
<circle cx="474.1" cy="724.2" r="1.9" fill="#2E6CA4" />
<circle cx="479.9" cy="723.7" r="1.9" fill="#2E6CA4" />
<circle cx="484.9" cy="729.2" r="1.9" fill="#2E6CA4" />
<circle cx="464.8" cy="733.5" r="1.9" fill="#2E6CA4" />
<circle cx="470.4" cy="733.5" r="1.9" fill="#2E6CA4" />
<circle cx="475.4" cy="731.7" r="1.9" fill="#2E6CA4" />
<circle cx="480.9" cy="733.5" r="1.9" fill="#2E6CA4" />
<circle cx="485.4" cy="734.2" r="1.9" fill="#2E6CA4" />
<circle cx="467.8" cy="738.5" r="1.9" fill="#2E6CA4" />
<circle cx="475.4" cy="736.7" r="1.9" fill="#2E6CA4" />
<circle cx="481.7" cy="738.5" r="1.9" fill="#2E6CA4" />
<circle cx="472.9" cy="743.0" r="1.9" fill="#2E6CA4" />
<circle cx="479.1" cy="742.5" r="1.9" fill="#2E6CA4" />
<circle cx="474.6" cy="745.5" r="1.9" fill="#2E6CA4" />
<line x1="510.4" y1="763.1" x2="510.4" y2="766.1" stroke="#333" stroke-width="0.9" />
<line x1="510.4" y1="705.3" x2="510.4" y2="706.5" stroke="#E8486B" stroke-width="0.7" />
<line x1="507.9" y1="705.3" x2="513.0" y2="705.3" stroke="#E8486B" stroke-width="0.7" />
<line x1="507.9" y1="706.5" x2="513.0" y2="706.5" stroke="#E8486B" stroke-width="0.7" />
<circle cx="500.0" cy="702.8" r="1.9" fill="#E8486B" />
<circle cx="503.5" cy="705.8" r="1.9" fill="#E8486B" />
<circle cx="506.8" cy="707.3" r="1.9" fill="#E8486B" />
<circle cx="508.5" cy="703.3" r="1.9" fill="#E8486B" />
<circle cx="510.6" cy="707.8" r="1.9" fill="#E8486B" />
<circle cx="513.1" cy="702.8" r="1.9" fill="#E8486B" />
<circle cx="514.6" cy="707.3" r="1.9" fill="#E8486B" />
<circle cx="516.8" cy="704.8" r="1.9" fill="#E8486B" />
<circle cx="518.6" cy="701.8" r="1.9" fill="#E8486B" />
<circle cx="520.1" cy="705.8" r="1.9" fill="#E8486B" />
<circle cx="521.4" cy="704.8" r="1.9" fill="#E8486B" />
<circle cx="501.8" cy="707.8" r="1.9" fill="#E8486B" />
<circle cx="511.8" cy="705.8" r="1.9" fill="#E8486B" />
<circle cx="516.1" cy="709.1" r="1.9" fill="#E8486B" />
<line x1="474.1" y1="692.3" x2="510.6" y2="692.3" stroke="#444" stroke-width="0.9" />
<text x="492.4" y="693.0" font-size="11.5" text-anchor="middle" fill="#222" >****</text>
<text x="469.2" y="778.3" font-size="8.2" text-anchor="middle" fill="#1a1a1a" >LV-GFP-28d</text>
<text x="523.5" y="778.3" font-size="8.2" text-anchor="middle" fill="#1a1a1a" >LV-shCR3-28d</text>
<line x1="447.3" y1="741.9" x2="450.8" y2="741.9" stroke="#333" stroke-width="0.9" />
<text x="446.6" y="744.5" font-size="7" text-anchor="end" fill="#1a1a1a" >1×10<tspan font-size="5" dy="-3">4</tspan></text>
<line x1="447.3" y1="720.8" x2="450.8" y2="720.8" stroke="#333" stroke-width="0.9" />
<text x="446.6" y="723.4" font-size="7" text-anchor="end" fill="#1a1a1a" >2×10<tspan font-size="5" dy="-3">4</tspan></text>
<line x1="447.3" y1="699.6" x2="450.8" y2="699.6" stroke="#333" stroke-width="0.9" />
<text x="446.6" y="702.2" font-size="7" text-anchor="end" fill="#1a1a1a" >3×10<tspan font-size="5" dy="-3">4</tspan></text>
<line x1="447.3" y1="678.4" x2="450.8" y2="678.4" stroke="#333" stroke-width="0.9" />
<text x="446.6" y="681.0" font-size="7" text-anchor="end" fill="#1a1a1a" >4×10<tspan font-size="5" dy="-3">4</tspan></text>
<text x="425.2" y="720.4" font-size="7.3" text-anchor="middle" fill="#1a1a1a" transform="rotate(-90 425.2 720.4)" textLength="131.0" lengthAdjust="spacingAndGlyphs" >Number of  VgluT2<tspan font-size="6" dy="-3" font-weight="bold">+</tspan><tspan dy="3">synapse  / per mm</tspan><tspan font-size="5" dy="-3">2</tspan></text>
<text x="1.0" y="812.0" font-size="11.5" text-anchor="start" fill="#111" font-weight="bold" >s</text>
<line x1="84.4" y1="865.5" x2="43.7" y2="946.5" stroke="#5B84C8" stroke-width="0.6" />
<line x1="103.4" y1="856.0" x2="186.4" y2="945.5" stroke="#5B84C8" stroke-width="0.6" />
<path d="M93.4,850.9 Q98.7,840.8 113.9,840.2 Q114.8,849.3 111.0,855.4 Q100.6,857.9 93.4,850.9Z" fill="#F2A688"/>
<ellipse cx="128.8" cy="843.8" rx="9.4" ry="8.3" fill="#F2A688" transform="rotate(-20 128.8 843.8)"/>
<path d="M56.9,875.0 C57.9,873.8 60.1,870.8 62.6,868.3 C65.1,865.8 68.6,862.9 72.1,859.8 C75.6,856.7 80.0,852.7 83.5,849.7 C87.0,846.8 89.8,844.1 93.0,842.1 C96.1,840.1 99.0,838.6 102.5,837.6 C105.9,836.6 110.7,835.8 113.9,836.1 C117.0,836.3 120.2,838.4 121.4,838.9" fill="none" stroke="#2B1D1A" stroke-width="1.1"/>
<path d="M116.1,844.0 C116.8,842.7 117.9,838.2 119.9,836.1 C122.0,833.9 125.5,831.6 128.5,831.3 C131.5,831.0 135.7,832.6 138.0,834.2 C140.2,835.7 141.7,838.2 142.1,840.8 C142.6,843.4 141.8,847.3 140.8,849.7 C139.8,852.1 137.9,853.8 136.1,855.0 C134.3,856.2 131.0,856.6 130.0,856.9" fill="none" stroke="#2B1D1A" stroke-width="1.2"/>
<line x1="142.7" y1="844.6" x2="156.9" y2="853.1" stroke="#2B1D1A" stroke-width="1.0" />
<path d="M56.9,875.0 C56.5,875.6 54.8,877.3 54.6,878.7 C54.5,880.2 55.0,882.0 56.0,883.5 C56.9,885.0 58.8,886.2 60.3,887.7 C61.9,889.1 63.5,890.8 65.5,892.0 C67.4,893.2 70.1,894.5 72.1,894.9 C74.2,895.3 75.9,894.9 77.8,894.5 C79.7,894.1 81.6,892.4 83.5,892.6 C85.4,892.8 88.2,895.3 89.2,895.8" fill="none" stroke="#2B1D1A" stroke-width="1.1"/>
<path d="M89.2,895.8 C90.0,895.9 92.2,896.8 94.0,896.6 C95.8,896.4 98.0,895.3 100.0,894.6 C102.0,893.9 104.2,892.7 106.0,892.2 C107.8,891.7 109.6,891.5 111.0,891.8 C112.4,892.1 113.4,892.7 114.2,894.0 C115.0,895.3 115.5,898.6 115.8,899.5" fill="none" stroke="#2B1D1A" stroke-width="1.1"/>
<ellipse cx="57.5" cy="881.2" rx="2.6" ry="2.1" fill="#F2A07E"/>
<ellipse cx="89.2" cy="862.2" rx="5.2" ry="3.6" fill="#1a1210" transform="rotate(-15 89.2 862.2)"/>
<circle cx="90.8" cy="861.0" r="0.9" fill="#fff" />
<line x1="62.6" y1="879.7" x2="45.5" y2="864.5" stroke="#3a2c28" stroke-width="0.5" />
<line x1="63.6" y1="878.7" x2="49.7" y2="862.6" stroke="#3a2c28" stroke-width="0.5" />
<line x1="64.5" y1="877.8" x2="55.0" y2="863.6" stroke="#3a2c28" stroke-width="0.5" />
<line x1="68.3" y1="883.5" x2="89.2" y2="883.5" stroke="#3a2c28" stroke-width="0.5" />
<line x1="69.3" y1="882.0" x2="96.8" y2="887.7" stroke="#3a2c28" stroke-width="0.5" />
<line x1="68.3" y1="879.7" x2="98.7" y2="894.9" stroke="#3a2c28" stroke-width="0.5" />
<line x1="66.4" y1="884.4" x2="68.3" y2="900.6" stroke="#3a2c28" stroke-width="0.5" />
<line x1="65.5" y1="885.4" x2="75.9" y2="902.5" stroke="#3a2c28" stroke-width="0.5" />
<line x1="67.4" y1="885.0" x2="87.3" y2="897.7" stroke="#3a2c28" stroke-width="0.5" />
<g transform="translate(71.2 842.1) rotate(24)">
<rect x="-5.2" y="-2.4" width="10.4" height="4.8" fill="#6DB33F" stroke="#2B2B2B" stroke-width="0.7" />
<line x1="5.2" y1="0.0" x2="12.5" y2="0.0" stroke="#2B2B2B" stroke-width="0.7" />
<line x1="-5.2" y1="0.0" x2="-8.0" y2="0.0" stroke="#2B2B2B" stroke-width="0.7" />
<line x1="-8.0" y1="-2.0" x2="-8.0" y2="2.0" stroke="#2B2B2B" stroke-width="0.7" />
</g>
<path d="M91.1,845.2 L98.7,849.7 L93.9,851.6Z" fill="#9DB6E0" opacity=".8"/>
<g transform="translate(87.3 844.8) rotate(24)">
<rect x="-4.2" y="-3.6" width="8.4" height="7.2" fill="#1c1c1c" />
<line x1="-4.2" y1="0.0" x2="-7.0" y2="0.0" stroke="#555" stroke-width="0.6" />
</g>
<line x1="93.0" y1="833.2" x2="95.8" y2="849.0" stroke="#3B6FB6" stroke-width="1.1" />
<path d="M95.8,850.9 C96.6,850.3 98.8,848.3 100.6,847.4 C102.3,846.6 104.5,845.9 106.3,845.5 C108.0,845.2 110.2,845.2 111.0,845.2" fill="none" stroke="#2B3A8C" stroke-width="0.8"/>
<line x1="98.7" y1="849.7" x2="109.1" y2="849.0" stroke="#C0392B" stroke-width="0.7" />
<line x1="101.5" y1="849.7" x2="103.4" y2="855.0" stroke="#3B6FB6" stroke-width="0.9" />
<rect x="106.6" y="821.8" width="3.8" height="8.6" fill="#B71C2C" stroke="#2B2B2B" stroke-width="0.7" />
<rect x="107.1" y="821.8" width="2.8" height="2.2" fill="#fff" />
<line x1="108.5" y1="830.4" x2="108.5" y2="850.3" stroke="#2B2B2B" stroke-width="0.7" />
<line x1="108.5" y1="817.5" x2="108.5" y2="821.8" stroke="#2B2B2B" stroke-width="0.7" />
<line x1="106.3" y1="817.5" x2="110.7" y2="817.5" stroke="#2B2B2B" stroke-width="0.8" />
<text x="19.0" y="844.0" font-size="8.6" text-anchor="start" fill="#6AA84F" transform="rotate(-23.8 19.0 844.0)" >LV-F4/80-shCR3</text>
<text x="28.8" y="850.9" font-size="8.5" text-anchor="start" fill="#6AA84F" transform="rotate(-26.2 28.8 850.9)" >LV-F4/80-GFP</text>
<text x="93.2" y="811.6" font-size="8" text-anchor="start" fill="#B0222F" textLength="131.0" lengthAdjust="spacingAndGlyphs" >AAV2/9-CamKIIa-oChIEF-tdTomato</text>
<text x="77.8" y="832.4" font-size="8.3" text-anchor="start" fill="#3B6FB6" font-weight="bold" >470nm</text>
<text x="64.1" y="856.5" font-size="8" text-anchor="start" fill="#222" >dmPFC</text>
<text x="106.8" y="857.0" font-size="8" text-anchor="start" fill="#222" >MDT</text>
<text x="114.8" y="923.8" font-size="8.4" text-anchor="middle" fill="#222" >8×stimulus</text>
<line x1="65.5" y1="933.0" x2="162.2" y2="933.0" stroke="#5B84C8" stroke-width="0.8" />
<line x1="68.8" y1="927.0" x2="68.8" y2="933.0" stroke="#5B84C8" stroke-width="0.8" />
<line x1="81.6" y1="927.0" x2="81.6" y2="933.0" stroke="#5B84C8" stroke-width="0.8" />
<line x1="94.4" y1="927.0" x2="94.4" y2="933.0" stroke="#5B84C8" stroke-width="0.8" />
<line x1="107.1" y1="927.0" x2="107.1" y2="933.0" stroke="#5B84C8" stroke-width="0.8" />
<line x1="119.9" y1="927.0" x2="119.9" y2="933.0" stroke="#5B84C8" stroke-width="0.8" />
<line x1="132.6" y1="927.0" x2="132.6" y2="933.0" stroke="#5B84C8" stroke-width="0.8" />
<line x1="145.4" y1="927.0" x2="145.4" y2="933.0" stroke="#5B84C8" stroke-width="0.8" />
<line x1="157.8" y1="927.0" x2="157.8" y2="933.0" stroke="#5B84C8" stroke-width="0.8" />
<text x="66.5" y="942.9" font-size="8" text-anchor="start" fill="#222" textLength="97.4" lengthAdjust="spacingAndGlyphs" >0 20 40 60 80100120140</text>
<rect x="43.7" y="946.5" width="142.7" height="20.1" fill="#fff" stroke="#1F2D5C" stroke-width="1.3" />
<text x="113.5" y="954.1" font-size="6.3" text-anchor="middle" fill="#222" textLength="122.6" lengthAdjust="spacingAndGlyphs" >One burst: 150 pulses at 150 Hz, 2 ms each</text>
<rect x="49.4" y="956.6" width="128.6" height="5.7" fill="#8FA6D8" />
<path d="M49.60,956.6v5.7M50.89,956.6v5.7M52.18,956.6v5.7M53.47,956.6v5.7M54.76,956.6v5.7M56.05,956.6v5.7M57.34,956.6v5.7M58.63,956.6v5.7M59.92,956.6v5.7M61.21,956.6v5.7M62.50,956.6v5.7M63.79,956.6v5.7M65.08,956.6v5.7M66.37,956.6v5.7M67.66,956.6v5.7M68.95,956.6v5.7M70.24,956.6v5.7M71.53,956.6v5.7M72.82,956.6v5.7M74.11,956.6v5.7M75.40,956.6v5.7M76.69,956.6v5.7M77.98,956.6v5.7M79.27,956.6v5.7M80.56,956.6v5.7M81.85,956.6v5.7M83.14,956.6v5.7M84.43,956.6v5.7M85.72,956.6v5.7M87.01,956.6v5.7M88.30,956.6v5.7M89.59,956.6v5.7M90.88,956.6v5.7M92.17,956.6v5.7M93.46,956.6v5.7M94.75,956.6v5.7M96.04,956.6v5.7M97.33,956.6v5.7M98.62,956.6v5.7M99.91,956.6v5.7M101.20,956.6v5.7M102.49,956.6v5.7M103.78,956.6v5.7M105.07,956.6v5.7M106.36,956.6v5.7M107.65,956.6v5.7M108.94,956.6v5.7M110.23,956.6v5.7M111.52,956.6v5.7M112.81,956.6v5.7M114.10,956.6v5.7M115.39,956.6v5.7M116.68,956.6v5.7M117.97,956.6v5.7M119.26,956.6v5.7M120.55,956.6v5.7M121.84,956.6v5.7M123.13,956.6v5.7M124.42,956.6v5.7M125.71,956.6v5.7M127.00,956.6v5.7M128.29,956.6v5.7M129.58,956.6v5.7M130.87,956.6v5.7M132.16,956.6v5.7M133.45,956.6v5.7M134.74,956.6v5.7M136.03,956.6v5.7M137.32,956.6v5.7M138.61,956.6v5.7M139.90,956.6v5.7M141.19,956.6v5.7M142.48,956.6v5.7M143.77,956.6v5.7M145.06,956.6v5.7M146.35,956.6v5.7M147.64,956.6v5.7M148.93,956.6v5.7M150.22,956.6v5.7M151.51,956.6v5.7M152.80,956.6v5.7M154.09,956.6v5.7M155.38,956.6v5.7M156.67,956.6v5.7M157.96,956.6v5.7M159.25,956.6v5.7M160.54,956.6v5.7M161.83,956.6v5.7M163.12,956.6v5.7M164.41,956.6v5.7M165.70,956.6v5.7M166.99,956.6v5.7M168.28,956.6v5.7M169.57,956.6v5.7M170.86,956.6v5.7M172.15,956.6v5.7M173.44,956.6v5.7M174.73,956.6v5.7M176.02,956.6v5.7M177.31,956.6v5.7" stroke="#4F73C0" stroke-width="0.6" fill="none"/>
<text x="234.5" y="816.8" font-size="11.5" text-anchor="start" fill="#111" font-weight="bold" >t</text>
<line x1="280.7" y1="818.2" x2="280.7" y2="936.7" stroke="#333" stroke-width="0.9" />
<line x1="278.0" y1="936.7" x2="283.6" y2="936.7" stroke="#333" stroke-width="0.9" />
<line x1="280.7" y1="946.5" x2="280.7" y2="961.0" stroke="#333" stroke-width="0.9" />
<line x1="278.0" y1="946.5" x2="283.6" y2="946.5" stroke="#333" stroke-width="0.9" />
<line x1="276.2" y1="818.6" x2="280.7" y2="818.6" stroke="#333" stroke-width="0.9" />
<text x="272.0" y="821.7" font-size="8.8" text-anchor="end" fill="#1a1a1a" >2</text>
<line x1="276.2" y1="854.5" x2="280.7" y2="854.5" stroke="#333" stroke-width="0.9" />
<text x="272.0" y="857.6" font-size="8.8" text-anchor="end" fill="#1a1a1a" >1.5</text>
<line x1="276.2" y1="883.1" x2="280.7" y2="883.1" stroke="#333" stroke-width="0.9" />
<text x="272.0" y="886.2" font-size="8.8" text-anchor="end" fill="#1a1a1a" >1</text>
<line x1="276.2" y1="919.0" x2="280.7" y2="919.0" stroke="#333" stroke-width="0.9" />
<text x="272.0" y="922.1" font-size="8.8" text-anchor="end" fill="#1a1a1a" >0.5</text>
<line x1="276.2" y1="956.4" x2="280.7" y2="956.4" stroke="#333" stroke-width="0.9" />
<text x="272.0" y="959.5" font-size="8.8" text-anchor="end" fill="#1a1a1a" >0</text>
<line x1="275.3" y1="956.4" x2="342.3" y2="956.4" stroke="#333" stroke-width="0.9" />
<line x1="342.3" y1="953.2" x2="342.3" y2="961.0" stroke="#333" stroke-width="0.9" />
<line x1="358.1" y1="956.4" x2="479.1" y2="956.4" stroke="#333" stroke-width="0.9" />
<line x1="358.1" y1="953.2" x2="358.1" y2="961.0" stroke="#333" stroke-width="0.9" />
<line x1="280.7" y1="956.4" x2="280.7" y2="961.0" stroke="#333" stroke-width="0.9" />
<text x="278.9" y="973.0" font-size="7.2" text-anchor="middle" fill="#1a1a1a" >-15</text>
<line x1="301.0" y1="956.4" x2="301.0" y2="961.0" stroke="#333" stroke-width="0.9" />
<text x="299.4" y="973.0" font-size="7.2" text-anchor="middle" fill="#1a1a1a" >-10</text>
<line x1="321.4" y1="956.4" x2="321.4" y2="961.0" stroke="#333" stroke-width="0.9" />
<text x="320.3" y="973.0" font-size="7.2" text-anchor="middle" fill="#1a1a1a" >-5</text>
<line x1="342.3" y1="956.4" x2="342.3" y2="961.0" stroke="#333" stroke-width="0.9" />
<text x="342.0" y="973.0" font-size="7.2" text-anchor="middle" fill="#1a1a1a" >0</text>
<line x1="358.1" y1="956.4" x2="358.1" y2="961.0" stroke="#333" stroke-width="0.9" />
<text x="357.7" y="973.0" font-size="7.2" text-anchor="middle" fill="#1a1a1a" >0</text>
<line x1="403.4" y1="956.4" x2="403.4" y2="961.0" stroke="#333" stroke-width="0.9" />
<text x="402.6" y="973.0" font-size="7.2" text-anchor="middle" fill="#1a1a1a" >20</text>
<line x1="448.8" y1="956.4" x2="448.8" y2="961.0" stroke="#333" stroke-width="0.9" />
<text x="447.6" y="973.0" font-size="7.2" text-anchor="middle" fill="#1a1a1a" >40</text>
<text x="368.0" y="983.6" font-size="8" text-anchor="middle" fill="#1a1a1a" >Time (min)</text>
<text x="253.9" y="893.0" font-size="8.7" text-anchor="middle" fill="#1a1a1a" transform="rotate(-90 253.9 893.0)" >fEPSP (normalized)</text>
<line x1="275.5" y1="883.1" x2="476.5" y2="883.1" stroke="#111" stroke-width="1.5" stroke-dasharray="0.1 2.75" stroke-linecap="round"/>
<line x1="286.9" y1="880.5" x2="286.9" y2="884.5" stroke="#8EC3EA" stroke-width="0.7" />
<line x1="285.3" y1="880.5" x2="288.5" y2="880.5" stroke="#8EC3EA" stroke-width="0.7" />
<line x1="285.3" y1="884.5" x2="288.5" y2="884.5" stroke="#8EC3EA" stroke-width="0.7" />
<circle cx="286.9" cy="882.5" r="2.7" fill="#8EC3EA" />
<line x1="294.1" y1="885.7" x2="294.1" y2="889.7" stroke="#8EC3EA" stroke-width="0.7" />
<line x1="292.5" y1="885.7" x2="295.7" y2="885.7" stroke="#8EC3EA" stroke-width="0.7" />
<line x1="292.5" y1="889.7" x2="295.7" y2="889.7" stroke="#8EC3EA" stroke-width="0.7" />
<circle cx="294.1" cy="887.7" r="2.7" fill="#8EC3EA" />
<line x1="300.8" y1="892.0" x2="300.8" y2="895.0" stroke="#8EC3EA" stroke-width="0.7" />
<line x1="299.2" y1="892.0" x2="302.4" y2="892.0" stroke="#8EC3EA" stroke-width="0.7" />
<line x1="299.2" y1="895.0" x2="302.4" y2="895.0" stroke="#8EC3EA" stroke-width="0.7" />
<circle cx="300.8" cy="893.5" r="2.7" fill="#8EC3EA" />
<line x1="307.8" y1="870.5" x2="307.8" y2="875.5" stroke="#8EC3EA" stroke-width="0.7" />
<line x1="306.2" y1="870.5" x2="309.4" y2="870.5" stroke="#8EC3EA" stroke-width="0.7" />
<line x1="306.2" y1="875.5" x2="309.4" y2="875.5" stroke="#8EC3EA" stroke-width="0.7" />
<circle cx="307.8" cy="873.0" r="2.7" fill="#8EC3EA" />
<line x1="314.4" y1="876.1" x2="314.4" y2="890.1" stroke="#8EC3EA" stroke-width="0.7" />
<line x1="312.8" y1="876.1" x2="316.0" y2="876.1" stroke="#8EC3EA" stroke-width="0.7" />
<line x1="312.8" y1="890.1" x2="316.0" y2="890.1" stroke="#8EC3EA" stroke-width="0.7" />
<circle cx="314.4" cy="883.1" r="2.7" fill="#8EC3EA" />
<line x1="321.5" y1="873.8" x2="321.5" y2="881.8" stroke="#8EC3EA" stroke-width="0.7" />
<line x1="319.9" y1="873.8" x2="323.1" y2="873.8" stroke="#8EC3EA" stroke-width="0.7" />
<line x1="319.9" y1="881.8" x2="323.1" y2="881.8" stroke="#8EC3EA" stroke-width="0.7" />
<circle cx="321.5" cy="877.8" r="2.7" fill="#8EC3EA" />
<line x1="328.1" y1="880.4" x2="328.1" y2="888.4" stroke="#8EC3EA" stroke-width="0.7" />
<line x1="326.5" y1="880.4" x2="329.7" y2="880.4" stroke="#8EC3EA" stroke-width="0.7" />
<line x1="326.5" y1="888.4" x2="329.7" y2="888.4" stroke="#8EC3EA" stroke-width="0.7" />
<circle cx="328.1" cy="884.4" r="2.7" fill="#8EC3EA" />
<line x1="334.9" y1="876.1" x2="334.9" y2="885.1" stroke="#8EC3EA" stroke-width="0.7" />
<line x1="333.3" y1="876.1" x2="336.5" y2="876.1" stroke="#8EC3EA" stroke-width="0.7" />
<line x1="333.3" y1="885.1" x2="336.5" y2="885.1" stroke="#8EC3EA" stroke-width="0.7" />
<circle cx="334.9" cy="880.6" r="2.7" fill="#8EC3EA" />
<line x1="286.9" y1="876.3" x2="286.9" y2="882.3" stroke="#D9737C" stroke-width="0.7" />
<line x1="285.3" y1="876.3" x2="288.5" y2="876.3" stroke="#D9737C" stroke-width="0.7" />
<line x1="285.3" y1="882.3" x2="288.5" y2="882.3" stroke="#D9737C" stroke-width="0.7" />
<circle cx="286.9" cy="879.3" r="2.7" fill="#D9737C" />
<line x1="294.1" y1="876.3" x2="294.1" y2="879.3" stroke="#D9737C" stroke-width="0.7" />
<line x1="292.5" y1="876.3" x2="295.7" y2="876.3" stroke="#D9737C" stroke-width="0.7" />
<line x1="292.5" y1="879.3" x2="295.7" y2="879.3" stroke="#D9737C" stroke-width="0.7" />
<circle cx="294.1" cy="877.8" r="2.7" fill="#D9737C" />
<line x1="300.8" y1="886.2" x2="300.8" y2="890.2" stroke="#D9737C" stroke-width="0.7" />
<line x1="299.2" y1="886.2" x2="302.4" y2="886.2" stroke="#D9737C" stroke-width="0.7" />
<line x1="299.2" y1="890.2" x2="302.4" y2="890.2" stroke="#D9737C" stroke-width="0.7" />
<circle cx="300.8" cy="888.2" r="2.7" fill="#D9737C" />
<line x1="307.8" y1="866.7" x2="307.8" y2="876.7" stroke="#D9737C" stroke-width="0.7" />
<line x1="306.2" y1="866.7" x2="309.4" y2="866.7" stroke="#D9737C" stroke-width="0.7" />
<line x1="306.2" y1="876.7" x2="309.4" y2="876.7" stroke="#D9737C" stroke-width="0.7" />
<circle cx="307.8" cy="871.7" r="2.7" fill="#D9737C" />
<line x1="314.4" y1="872.3" x2="314.4" y2="880.3" stroke="#D9737C" stroke-width="0.7" />
<line x1="312.8" y1="872.3" x2="316.0" y2="872.3" stroke="#D9737C" stroke-width="0.7" />
<line x1="312.8" y1="880.3" x2="316.0" y2="880.3" stroke="#D9737C" stroke-width="0.7" />
<circle cx="314.4" cy="876.3" r="2.7" fill="#D9737C" />
<line x1="321.5" y1="870.3" x2="321.5" y2="880.3" stroke="#D9737C" stroke-width="0.7" />
<line x1="319.9" y1="870.3" x2="323.1" y2="870.3" stroke="#D9737C" stroke-width="0.7" />
<line x1="319.9" y1="880.3" x2="323.1" y2="880.3" stroke="#D9737C" stroke-width="0.7" />
<circle cx="321.5" cy="875.3" r="2.7" fill="#D9737C" />
<line x1="328.1" y1="872.3" x2="328.1" y2="880.3" stroke="#D9737C" stroke-width="0.7" />
<line x1="326.5" y1="872.3" x2="329.7" y2="872.3" stroke="#D9737C" stroke-width="0.7" />
<line x1="326.5" y1="880.3" x2="329.7" y2="880.3" stroke="#D9737C" stroke-width="0.7" />
<circle cx="328.1" cy="876.3" r="2.7" fill="#D9737C" />
<line x1="334.9" y1="878.1" x2="334.9" y2="888.1" stroke="#D9737C" stroke-width="0.7" />
<line x1="333.3" y1="878.1" x2="336.5" y2="878.1" stroke="#D9737C" stroke-width="0.7" />
<line x1="333.3" y1="888.1" x2="336.5" y2="888.1" stroke="#D9737C" stroke-width="0.7" />
<circle cx="334.9" cy="883.1" r="2.7" fill="#D9737C" />
<line x1="361.0" y1="862.5" x2="361.0" y2="867.7" stroke="#8EC3EA" stroke-width="0.7" />
<line x1="359.4" y1="862.5" x2="362.6" y2="862.5" stroke="#8EC3EA" stroke-width="0.7" />
<line x1="359.4" y1="867.7" x2="362.6" y2="867.7" stroke="#8EC3EA" stroke-width="0.7" />
<circle cx="361.0" cy="865.1" r="2.7" fill="#8EC3EA" />
<line x1="363.3" y1="877.6" x2="363.3" y2="883.4" stroke="#8EC3EA" stroke-width="0.7" />
<line x1="361.7" y1="877.6" x2="364.9" y2="877.6" stroke="#8EC3EA" stroke-width="0.7" />
<line x1="361.7" y1="883.4" x2="364.9" y2="883.4" stroke="#8EC3EA" stroke-width="0.7" />
<circle cx="363.3" cy="880.5" r="2.7" fill="#8EC3EA" />
<line x1="365.7" y1="866.3" x2="365.7" y2="872.1" stroke="#8EC3EA" stroke-width="0.7" />
<line x1="364.1" y1="866.3" x2="367.3" y2="866.3" stroke="#8EC3EA" stroke-width="0.7" />
<line x1="364.1" y1="872.1" x2="367.3" y2="872.1" stroke="#8EC3EA" stroke-width="0.7" />
<circle cx="365.7" cy="869.2" r="2.7" fill="#8EC3EA" />
<line x1="368.0" y1="865.1" x2="368.0" y2="869.5" stroke="#8EC3EA" stroke-width="0.7" />
<line x1="366.4" y1="865.1" x2="369.6" y2="865.1" stroke="#8EC3EA" stroke-width="0.7" />
<line x1="366.4" y1="869.5" x2="369.6" y2="869.5" stroke="#8EC3EA" stroke-width="0.7" />
<circle cx="368.0" cy="867.3" r="2.7" fill="#8EC3EA" />
<line x1="370.3" y1="870.5" x2="370.3" y2="875.5" stroke="#8EC3EA" stroke-width="0.7" />
<line x1="368.7" y1="870.5" x2="371.9" y2="870.5" stroke="#8EC3EA" stroke-width="0.7" />
<line x1="368.7" y1="875.5" x2="371.9" y2="875.5" stroke="#8EC3EA" stroke-width="0.7" />
<circle cx="370.3" cy="873.0" r="2.7" fill="#8EC3EA" />
<line x1="372.7" y1="872.3" x2="372.7" y2="875.7" stroke="#8EC3EA" stroke-width="0.7" />
<line x1="371.1" y1="872.3" x2="374.3" y2="872.3" stroke="#8EC3EA" stroke-width="0.7" />
<line x1="371.1" y1="875.7" x2="374.3" y2="875.7" stroke="#8EC3EA" stroke-width="0.7" />
<circle cx="372.7" cy="874.0" r="2.7" fill="#8EC3EA" />
<line x1="375.0" y1="871.1" x2="375.0" y2="874.8" stroke="#8EC3EA" stroke-width="0.7" />
<line x1="373.4" y1="871.1" x2="376.6" y2="871.1" stroke="#8EC3EA" stroke-width="0.7" />
<line x1="373.4" y1="874.8" x2="376.6" y2="874.8" stroke="#8EC3EA" stroke-width="0.7" />
<circle cx="375.0" cy="873.0" r="2.7" fill="#8EC3EA" />
<line x1="377.4" y1="871.9" x2="377.4" y2="876.6" stroke="#8EC3EA" stroke-width="0.7" />
<line x1="375.8" y1="871.9" x2="379.0" y2="871.9" stroke="#8EC3EA" stroke-width="0.7" />
<line x1="375.8" y1="876.6" x2="379.0" y2="876.6" stroke="#8EC3EA" stroke-width="0.7" />
<circle cx="377.4" cy="874.3" r="2.7" fill="#8EC3EA" />
<line x1="379.7" y1="870.7" x2="379.7" y2="874.4" stroke="#8EC3EA" stroke-width="0.7" />
<line x1="378.1" y1="870.7" x2="381.3" y2="870.7" stroke="#8EC3EA" stroke-width="0.7" />
<line x1="378.1" y1="874.4" x2="381.3" y2="874.4" stroke="#8EC3EA" stroke-width="0.7" />
<circle cx="379.7" cy="872.5" r="2.7" fill="#8EC3EA" />
<line x1="382.0" y1="871.7" x2="382.0" y2="877.4" stroke="#8EC3EA" stroke-width="0.7" />
<line x1="380.4" y1="871.7" x2="383.6" y2="871.7" stroke="#8EC3EA" stroke-width="0.7" />
<line x1="380.4" y1="877.4" x2="383.6" y2="877.4" stroke="#8EC3EA" stroke-width="0.7" />
<circle cx="382.0" cy="874.6" r="2.7" fill="#8EC3EA" />
<line x1="384.4" y1="875.8" x2="384.4" y2="879.3" stroke="#8EC3EA" stroke-width="0.7" />
<line x1="382.8" y1="875.8" x2="386.0" y2="875.8" stroke="#8EC3EA" stroke-width="0.7" />
<line x1="382.8" y1="879.3" x2="386.0" y2="879.3" stroke="#8EC3EA" stroke-width="0.7" />
<circle cx="384.4" cy="877.5" r="2.7" fill="#8EC3EA" />
<line x1="386.7" y1="876.6" x2="386.7" y2="880.0" stroke="#8EC3EA" stroke-width="0.7" />
<line x1="385.1" y1="876.6" x2="388.3" y2="876.6" stroke="#8EC3EA" stroke-width="0.7" />
<line x1="385.1" y1="880.0" x2="388.3" y2="880.0" stroke="#8EC3EA" stroke-width="0.7" />
<circle cx="386.7" cy="878.3" r="2.7" fill="#8EC3EA" />
<line x1="389.0" y1="876.2" x2="389.0" y2="879.6" stroke="#8EC3EA" stroke-width="0.7" />
<line x1="387.4" y1="876.2" x2="390.6" y2="876.2" stroke="#8EC3EA" stroke-width="0.7" />
<line x1="387.4" y1="879.6" x2="390.6" y2="879.6" stroke="#8EC3EA" stroke-width="0.7" />
<circle cx="389.0" cy="877.9" r="2.7" fill="#8EC3EA" />
<line x1="391.4" y1="872.6" x2="391.4" y2="878.2" stroke="#8EC3EA" stroke-width="0.7" />
<line x1="389.8" y1="872.6" x2="393.0" y2="872.6" stroke="#8EC3EA" stroke-width="0.7" />
<line x1="389.8" y1="878.2" x2="393.0" y2="878.2" stroke="#8EC3EA" stroke-width="0.7" />
<circle cx="391.4" cy="875.4" r="2.7" fill="#8EC3EA" />
<line x1="393.7" y1="875.0" x2="393.7" y2="878.7" stroke="#8EC3EA" stroke-width="0.7" />
<line x1="392.1" y1="875.0" x2="395.3" y2="875.0" stroke="#8EC3EA" stroke-width="0.7" />
<line x1="392.1" y1="878.7" x2="395.3" y2="878.7" stroke="#8EC3EA" stroke-width="0.7" />
<circle cx="393.7" cy="876.8" r="2.7" fill="#8EC3EA" />
<line x1="396.0" y1="878.1" x2="396.0" y2="883.7" stroke="#8EC3EA" stroke-width="0.7" />
<line x1="394.4" y1="878.1" x2="397.6" y2="878.1" stroke="#8EC3EA" stroke-width="0.7" />
<line x1="394.4" y1="883.7" x2="397.6" y2="883.7" stroke="#8EC3EA" stroke-width="0.7" />
<circle cx="396.0" cy="880.9" r="2.7" fill="#8EC3EA" />
<line x1="398.4" y1="875.0" x2="398.4" y2="880.9" stroke="#8EC3EA" stroke-width="0.7" />
<line x1="396.8" y1="875.0" x2="400.0" y2="875.0" stroke="#8EC3EA" stroke-width="0.7" />
<line x1="396.8" y1="880.9" x2="400.0" y2="880.9" stroke="#8EC3EA" stroke-width="0.7" />
<circle cx="398.4" cy="877.9" r="2.7" fill="#8EC3EA" />
<line x1="400.7" y1="876.9" x2="400.7" y2="881.9" stroke="#8EC3EA" stroke-width="0.7" />
<line x1="399.1" y1="876.9" x2="402.3" y2="876.9" stroke="#8EC3EA" stroke-width="0.7" />
<line x1="399.1" y1="881.9" x2="402.3" y2="881.9" stroke="#8EC3EA" stroke-width="0.7" />
<circle cx="400.7" cy="879.4" r="2.7" fill="#8EC3EA" />
<line x1="403.0" y1="875.1" x2="403.0" y2="881.0" stroke="#8EC3EA" stroke-width="0.7" />
<line x1="401.4" y1="875.1" x2="404.6" y2="875.1" stroke="#8EC3EA" stroke-width="0.7" />
<line x1="401.4" y1="881.0" x2="404.6" y2="881.0" stroke="#8EC3EA" stroke-width="0.7" />
<circle cx="403.0" cy="878.0" r="2.7" fill="#8EC3EA" />
<line x1="405.4" y1="877.7" x2="405.4" y2="883.6" stroke="#8EC3EA" stroke-width="0.7" />
<line x1="403.8" y1="877.7" x2="407.0" y2="877.7" stroke="#8EC3EA" stroke-width="0.7" />
<line x1="403.8" y1="883.6" x2="407.0" y2="883.6" stroke="#8EC3EA" stroke-width="0.7" />
<circle cx="405.4" cy="880.6" r="2.7" fill="#8EC3EA" />
<line x1="407.7" y1="879.8" x2="407.7" y2="883.7" stroke="#8EC3EA" stroke-width="0.7" />
<line x1="406.1" y1="879.8" x2="409.3" y2="879.8" stroke="#8EC3EA" stroke-width="0.7" />
<line x1="406.1" y1="883.7" x2="409.3" y2="883.7" stroke="#8EC3EA" stroke-width="0.7" />
<circle cx="407.7" cy="881.8" r="2.7" fill="#8EC3EA" />
<line x1="410.1" y1="877.7" x2="410.1" y2="881.2" stroke="#8EC3EA" stroke-width="0.7" />
<line x1="408.5" y1="877.7" x2="411.7" y2="877.7" stroke="#8EC3EA" stroke-width="0.7" />
<line x1="408.5" y1="881.2" x2="411.7" y2="881.2" stroke="#8EC3EA" stroke-width="0.7" />
<circle cx="410.1" cy="879.4" r="2.7" fill="#8EC3EA" />
<line x1="412.4" y1="876.9" x2="412.4" y2="880.1" stroke="#8EC3EA" stroke-width="0.7" />
<line x1="410.8" y1="876.9" x2="414.0" y2="876.9" stroke="#8EC3EA" stroke-width="0.7" />
<line x1="410.8" y1="880.1" x2="414.0" y2="880.1" stroke="#8EC3EA" stroke-width="0.7" />
<circle cx="412.4" cy="878.5" r="2.7" fill="#8EC3EA" />
<line x1="414.7" y1="877.0" x2="414.7" y2="881.8" stroke="#8EC3EA" stroke-width="0.7" />
<line x1="413.1" y1="877.0" x2="416.3" y2="877.0" stroke="#8EC3EA" stroke-width="0.7" />
<line x1="413.1" y1="881.8" x2="416.3" y2="881.8" stroke="#8EC3EA" stroke-width="0.7" />
<circle cx="414.7" cy="879.4" r="2.7" fill="#8EC3EA" />
<line x1="417.1" y1="875.6" x2="417.1" y2="880.6" stroke="#8EC3EA" stroke-width="0.7" />
<line x1="415.5" y1="875.6" x2="418.7" y2="875.6" stroke="#8EC3EA" stroke-width="0.7" />
<line x1="415.5" y1="880.6" x2="418.7" y2="880.6" stroke="#8EC3EA" stroke-width="0.7" />
<circle cx="417.1" cy="878.1" r="2.7" fill="#8EC3EA" />
<line x1="419.4" y1="876.6" x2="419.4" y2="880.5" stroke="#8EC3EA" stroke-width="0.7" />
<line x1="417.8" y1="876.6" x2="421.0" y2="876.6" stroke="#8EC3EA" stroke-width="0.7" />
<line x1="417.8" y1="880.5" x2="421.0" y2="880.5" stroke="#8EC3EA" stroke-width="0.7" />
<circle cx="419.4" cy="878.6" r="2.7" fill="#8EC3EA" />
<line x1="421.7" y1="877.3" x2="421.7" y2="881.8" stroke="#8EC3EA" stroke-width="0.7" />
<line x1="420.1" y1="877.3" x2="423.3" y2="877.3" stroke="#8EC3EA" stroke-width="0.7" />
<line x1="420.1" y1="881.8" x2="423.3" y2="881.8" stroke="#8EC3EA" stroke-width="0.7" />
<circle cx="421.7" cy="879.6" r="2.7" fill="#8EC3EA" />
<line x1="424.1" y1="873.9" x2="424.1" y2="878.4" stroke="#8EC3EA" stroke-width="0.7" />
<line x1="422.5" y1="873.9" x2="425.7" y2="873.9" stroke="#8EC3EA" stroke-width="0.7" />
<line x1="422.5" y1="878.4" x2="425.7" y2="878.4" stroke="#8EC3EA" stroke-width="0.7" />
<circle cx="424.1" cy="876.2" r="2.7" fill="#8EC3EA" />
<line x1="426.4" y1="875.9" x2="426.4" y2="879.1" stroke="#8EC3EA" stroke-width="0.7" />
<line x1="424.8" y1="875.9" x2="428.0" y2="875.9" stroke="#8EC3EA" stroke-width="0.7" />
<line x1="424.8" y1="879.1" x2="428.0" y2="879.1" stroke="#8EC3EA" stroke-width="0.7" />
<circle cx="426.4" cy="877.5" r="2.7" fill="#8EC3EA" />
<line x1="428.7" y1="877.2" x2="428.7" y2="880.3" stroke="#8EC3EA" stroke-width="0.7" />
<line x1="427.1" y1="877.2" x2="430.3" y2="877.2" stroke="#8EC3EA" stroke-width="0.7" />
<line x1="427.1" y1="880.3" x2="430.3" y2="880.3" stroke="#8EC3EA" stroke-width="0.7" />
<circle cx="428.7" cy="878.8" r="2.7" fill="#8EC3EA" />
<line x1="431.1" y1="875.4" x2="431.1" y2="881.0" stroke="#8EC3EA" stroke-width="0.7" />
<line x1="429.5" y1="875.4" x2="432.7" y2="875.4" stroke="#8EC3EA" stroke-width="0.7" />
<line x1="429.5" y1="881.0" x2="432.7" y2="881.0" stroke="#8EC3EA" stroke-width="0.7" />
<circle cx="431.1" cy="878.2" r="2.7" fill="#8EC3EA" />
<line x1="433.4" y1="873.0" x2="433.4" y2="878.4" stroke="#8EC3EA" stroke-width="0.7" />
<line x1="431.8" y1="873.0" x2="435.0" y2="873.0" stroke="#8EC3EA" stroke-width="0.7" />
<line x1="431.8" y1="878.4" x2="435.0" y2="878.4" stroke="#8EC3EA" stroke-width="0.7" />
<circle cx="433.4" cy="875.7" r="2.7" fill="#8EC3EA" />
<line x1="435.7" y1="876.3" x2="435.7" y2="881.1" stroke="#8EC3EA" stroke-width="0.7" />
<line x1="434.1" y1="876.3" x2="437.3" y2="876.3" stroke="#8EC3EA" stroke-width="0.7" />
<line x1="434.1" y1="881.1" x2="437.3" y2="881.1" stroke="#8EC3EA" stroke-width="0.7" />
<circle cx="435.7" cy="878.7" r="2.7" fill="#8EC3EA" />
<line x1="438.1" y1="877.0" x2="438.1" y2="880.1" stroke="#8EC3EA" stroke-width="0.7" />
<line x1="436.5" y1="877.0" x2="439.7" y2="877.0" stroke="#8EC3EA" stroke-width="0.7" />
<line x1="436.5" y1="880.1" x2="439.7" y2="880.1" stroke="#8EC3EA" stroke-width="0.7" />
<circle cx="438.1" cy="878.6" r="2.7" fill="#8EC3EA" />
<line x1="440.4" y1="876.7" x2="440.4" y2="882.6" stroke="#8EC3EA" stroke-width="0.7" />
<line x1="438.8" y1="876.7" x2="442.0" y2="876.7" stroke="#8EC3EA" stroke-width="0.7" />
<line x1="438.8" y1="882.6" x2="442.0" y2="882.6" stroke="#8EC3EA" stroke-width="0.7" />
<circle cx="440.4" cy="879.7" r="2.7" fill="#8EC3EA" />
<line x1="442.8" y1="877.1" x2="442.8" y2="882.4" stroke="#8EC3EA" stroke-width="0.7" />
<line x1="441.2" y1="877.1" x2="444.4" y2="877.1" stroke="#8EC3EA" stroke-width="0.7" />
<line x1="441.2" y1="882.4" x2="444.4" y2="882.4" stroke="#8EC3EA" stroke-width="0.7" />
<circle cx="442.8" cy="879.8" r="2.7" fill="#8EC3EA" />
<line x1="445.1" y1="880.4" x2="445.1" y2="886.2" stroke="#8EC3EA" stroke-width="0.7" />
<line x1="443.5" y1="880.4" x2="446.7" y2="880.4" stroke="#8EC3EA" stroke-width="0.7" />
<line x1="443.5" y1="886.2" x2="446.7" y2="886.2" stroke="#8EC3EA" stroke-width="0.7" />
<circle cx="445.1" cy="883.3" r="2.7" fill="#8EC3EA" />
<line x1="447.4" y1="878.5" x2="447.4" y2="882.6" stroke="#8EC3EA" stroke-width="0.7" />
<line x1="445.8" y1="878.5" x2="449.0" y2="878.5" stroke="#8EC3EA" stroke-width="0.7" />
<line x1="445.8" y1="882.6" x2="449.0" y2="882.6" stroke="#8EC3EA" stroke-width="0.7" />
<circle cx="447.4" cy="880.5" r="2.7" fill="#8EC3EA" />
<line x1="449.8" y1="878.8" x2="449.8" y2="884.1" stroke="#8EC3EA" stroke-width="0.7" />
<line x1="448.2" y1="878.8" x2="451.4" y2="878.8" stroke="#8EC3EA" stroke-width="0.7" />
<line x1="448.2" y1="884.1" x2="451.4" y2="884.1" stroke="#8EC3EA" stroke-width="0.7" />
<circle cx="449.8" cy="881.4" r="2.7" fill="#8EC3EA" />
<line x1="452.1" y1="876.8" x2="452.1" y2="882.1" stroke="#8EC3EA" stroke-width="0.7" />
<line x1="450.5" y1="876.8" x2="453.7" y2="876.8" stroke="#8EC3EA" stroke-width="0.7" />
<line x1="450.5" y1="882.1" x2="453.7" y2="882.1" stroke="#8EC3EA" stroke-width="0.7" />
<circle cx="452.1" cy="879.4" r="2.7" fill="#8EC3EA" />
<line x1="361.0" y1="845.9" x2="361.0" y2="852.4" stroke="#D9737C" stroke-width="0.7" />
<line x1="359.4" y1="845.9" x2="362.6" y2="845.9" stroke="#D9737C" stroke-width="0.7" />
<line x1="359.4" y1="852.4" x2="362.6" y2="852.4" stroke="#D9737C" stroke-width="0.7" />
<circle cx="361.0" cy="849.1" r="2.7" fill="#D9737C" />
<line x1="363.3" y1="840.3" x2="363.3" y2="847.1" stroke="#D9737C" stroke-width="0.7" />
<line x1="361.7" y1="840.3" x2="364.9" y2="840.3" stroke="#D9737C" stroke-width="0.7" />
<line x1="361.7" y1="847.1" x2="364.9" y2="847.1" stroke="#D9737C" stroke-width="0.7" />
<circle cx="363.3" cy="843.7" r="2.7" fill="#D9737C" />
<line x1="365.7" y1="841.7" x2="365.7" y2="846.4" stroke="#D9737C" stroke-width="0.7" />
<line x1="364.1" y1="841.7" x2="367.3" y2="841.7" stroke="#D9737C" stroke-width="0.7" />
<line x1="364.1" y1="846.4" x2="367.3" y2="846.4" stroke="#D9737C" stroke-width="0.7" />
<circle cx="365.7" cy="844.1" r="2.7" fill="#D9737C" />
<line x1="368.0" y1="844.4" x2="368.0" y2="851.2" stroke="#D9737C" stroke-width="0.7" />
<line x1="366.4" y1="844.4" x2="369.6" y2="844.4" stroke="#D9737C" stroke-width="0.7" />
<line x1="366.4" y1="851.2" x2="369.6" y2="851.2" stroke="#D9737C" stroke-width="0.7" />
<circle cx="368.0" cy="847.8" r="2.7" fill="#D9737C" />
<line x1="370.3" y1="842.5" x2="370.3" y2="849.2" stroke="#D9737C" stroke-width="0.7" />
<line x1="368.7" y1="842.5" x2="371.9" y2="842.5" stroke="#D9737C" stroke-width="0.7" />
<line x1="368.7" y1="849.2" x2="371.9" y2="849.2" stroke="#D9737C" stroke-width="0.7" />
<circle cx="370.3" cy="845.8" r="2.7" fill="#D9737C" />
<line x1="372.7" y1="845.0" x2="372.7" y2="849.7" stroke="#D9737C" stroke-width="0.7" />
<line x1="371.1" y1="845.0" x2="374.3" y2="845.0" stroke="#D9737C" stroke-width="0.7" />
<line x1="371.1" y1="849.7" x2="374.3" y2="849.7" stroke="#D9737C" stroke-width="0.7" />
<circle cx="372.7" cy="847.3" r="2.7" fill="#D9737C" />
<line x1="375.0" y1="843.6" x2="375.0" y2="847.8" stroke="#D9737C" stroke-width="0.7" />
<line x1="373.4" y1="843.6" x2="376.6" y2="843.6" stroke="#D9737C" stroke-width="0.7" />
<line x1="373.4" y1="847.8" x2="376.6" y2="847.8" stroke="#D9737C" stroke-width="0.7" />
<circle cx="375.0" cy="845.7" r="2.7" fill="#D9737C" />
<line x1="377.4" y1="841.9" x2="377.4" y2="846.0" stroke="#D9737C" stroke-width="0.7" />
<line x1="375.8" y1="841.9" x2="379.0" y2="841.9" stroke="#D9737C" stroke-width="0.7" />
<line x1="375.8" y1="846.0" x2="379.0" y2="846.0" stroke="#D9737C" stroke-width="0.7" />
<circle cx="377.4" cy="844.0" r="2.7" fill="#D9737C" />
<line x1="379.7" y1="844.9" x2="379.7" y2="851.9" stroke="#D9737C" stroke-width="0.7" />
<line x1="378.1" y1="844.9" x2="381.3" y2="844.9" stroke="#D9737C" stroke-width="0.7" />
<line x1="378.1" y1="851.9" x2="381.3" y2="851.9" stroke="#D9737C" stroke-width="0.7" />
<circle cx="379.7" cy="848.4" r="2.7" fill="#D9737C" />
<line x1="382.0" y1="842.7" x2="382.0" y2="846.4" stroke="#D9737C" stroke-width="0.7" />
<line x1="380.4" y1="842.7" x2="383.6" y2="842.7" stroke="#D9737C" stroke-width="0.7" />
<line x1="380.4" y1="846.4" x2="383.6" y2="846.4" stroke="#D9737C" stroke-width="0.7" />
<circle cx="382.0" cy="844.6" r="2.7" fill="#D9737C" />
<line x1="384.4" y1="847.8" x2="384.4" y2="853.2" stroke="#D9737C" stroke-width="0.7" />
<line x1="382.8" y1="847.8" x2="386.0" y2="847.8" stroke="#D9737C" stroke-width="0.7" />
<line x1="382.8" y1="853.2" x2="386.0" y2="853.2" stroke="#D9737C" stroke-width="0.7" />
<circle cx="384.4" cy="850.5" r="2.7" fill="#D9737C" />
<line x1="386.7" y1="844.1" x2="386.7" y2="848.5" stroke="#D9737C" stroke-width="0.7" />
<line x1="385.1" y1="844.1" x2="388.3" y2="844.1" stroke="#D9737C" stroke-width="0.7" />
<line x1="385.1" y1="848.5" x2="388.3" y2="848.5" stroke="#D9737C" stroke-width="0.7" />
<circle cx="386.7" cy="846.3" r="2.7" fill="#D9737C" />
<line x1="389.0" y1="844.5" x2="389.0" y2="850.9" stroke="#D9737C" stroke-width="0.7" />
<line x1="387.4" y1="844.5" x2="390.6" y2="844.5" stroke="#D9737C" stroke-width="0.7" />
<line x1="387.4" y1="850.9" x2="390.6" y2="850.9" stroke="#D9737C" stroke-width="0.7" />
<circle cx="389.0" cy="847.7" r="2.7" fill="#D9737C" />
<line x1="391.4" y1="844.2" x2="391.4" y2="849.2" stroke="#D9737C" stroke-width="0.7" />
<line x1="389.8" y1="844.2" x2="393.0" y2="844.2" stroke="#D9737C" stroke-width="0.7" />
<line x1="389.8" y1="849.2" x2="393.0" y2="849.2" stroke="#D9737C" stroke-width="0.7" />
<circle cx="391.4" cy="846.7" r="2.7" fill="#D9737C" />
<line x1="393.7" y1="842.4" x2="393.7" y2="849.2" stroke="#D9737C" stroke-width="0.7" />
<line x1="392.1" y1="842.4" x2="395.3" y2="842.4" stroke="#D9737C" stroke-width="0.7" />
<line x1="392.1" y1="849.2" x2="395.3" y2="849.2" stroke="#D9737C" stroke-width="0.7" />
<circle cx="393.7" cy="845.8" r="2.7" fill="#D9737C" />
<line x1="396.0" y1="843.0" x2="396.0" y2="848.3" stroke="#D9737C" stroke-width="0.7" />
<line x1="394.4" y1="843.0" x2="397.6" y2="843.0" stroke="#D9737C" stroke-width="0.7" />
<line x1="394.4" y1="848.3" x2="397.6" y2="848.3" stroke="#D9737C" stroke-width="0.7" />
<circle cx="396.0" cy="845.6" r="2.7" fill="#D9737C" />
<line x1="398.4" y1="849.4" x2="398.4" y2="853.5" stroke="#D9737C" stroke-width="0.7" />
<line x1="396.8" y1="849.4" x2="400.0" y2="849.4" stroke="#D9737C" stroke-width="0.7" />
<line x1="396.8" y1="853.5" x2="400.0" y2="853.5" stroke="#D9737C" stroke-width="0.7" />
<circle cx="398.4" cy="851.4" r="2.7" fill="#D9737C" />
<line x1="400.7" y1="847.3" x2="400.7" y2="854.1" stroke="#D9737C" stroke-width="0.7" />
<line x1="399.1" y1="847.3" x2="402.3" y2="847.3" stroke="#D9737C" stroke-width="0.7" />
<line x1="399.1" y1="854.1" x2="402.3" y2="854.1" stroke="#D9737C" stroke-width="0.7" />
<circle cx="400.7" cy="850.7" r="2.7" fill="#D9737C" />
<line x1="403.0" y1="846.8" x2="403.0" y2="853.1" stroke="#D9737C" stroke-width="0.7" />
<line x1="401.4" y1="846.8" x2="404.6" y2="846.8" stroke="#D9737C" stroke-width="0.7" />
<line x1="401.4" y1="853.1" x2="404.6" y2="853.1" stroke="#D9737C" stroke-width="0.7" />
<circle cx="403.0" cy="849.9" r="2.7" fill="#D9737C" />
<line x1="405.4" y1="843.6" x2="405.4" y2="848.7" stroke="#D9737C" stroke-width="0.7" />
<line x1="403.8" y1="843.6" x2="407.0" y2="843.6" stroke="#D9737C" stroke-width="0.7" />
<line x1="403.8" y1="848.7" x2="407.0" y2="848.7" stroke="#D9737C" stroke-width="0.7" />
<circle cx="405.4" cy="846.2" r="2.7" fill="#D9737C" />
<line x1="407.7" y1="843.2" x2="407.7" y2="849.7" stroke="#D9737C" stroke-width="0.7" />
<line x1="406.1" y1="843.2" x2="409.3" y2="843.2" stroke="#D9737C" stroke-width="0.7" />
<line x1="406.1" y1="849.7" x2="409.3" y2="849.7" stroke="#D9737C" stroke-width="0.7" />
<circle cx="407.7" cy="846.5" r="2.7" fill="#D9737C" />
<line x1="410.1" y1="845.0" x2="410.1" y2="850.1" stroke="#D9737C" stroke-width="0.7" />
<line x1="408.5" y1="845.0" x2="411.7" y2="845.0" stroke="#D9737C" stroke-width="0.7" />
<line x1="408.5" y1="850.1" x2="411.7" y2="850.1" stroke="#D9737C" stroke-width="0.7" />
<circle cx="410.1" cy="847.5" r="2.7" fill="#D9737C" />
<line x1="412.4" y1="849.3" x2="412.4" y2="855.8" stroke="#D9737C" stroke-width="0.7" />
<line x1="410.8" y1="849.3" x2="414.0" y2="849.3" stroke="#D9737C" stroke-width="0.7" />
<line x1="410.8" y1="855.8" x2="414.0" y2="855.8" stroke="#D9737C" stroke-width="0.7" />
<circle cx="412.4" cy="852.6" r="2.7" fill="#D9737C" />
<line x1="414.7" y1="849.9" x2="414.7" y2="855.0" stroke="#D9737C" stroke-width="0.7" />
<line x1="413.1" y1="849.9" x2="416.3" y2="849.9" stroke="#D9737C" stroke-width="0.7" />
<line x1="413.1" y1="855.0" x2="416.3" y2="855.0" stroke="#D9737C" stroke-width="0.7" />
<circle cx="414.7" cy="852.4" r="2.7" fill="#D9737C" />
<line x1="417.1" y1="843.9" x2="417.1" y2="850.0" stroke="#D9737C" stroke-width="0.7" />
<line x1="415.5" y1="843.9" x2="418.7" y2="843.9" stroke="#D9737C" stroke-width="0.7" />
<line x1="415.5" y1="850.0" x2="418.7" y2="850.0" stroke="#D9737C" stroke-width="0.7" />
<circle cx="417.1" cy="846.9" r="2.7" fill="#D9737C" />
<line x1="419.4" y1="844.6" x2="419.4" y2="849.1" stroke="#D9737C" stroke-width="0.7" />
<line x1="417.8" y1="844.6" x2="421.0" y2="844.6" stroke="#D9737C" stroke-width="0.7" />
<line x1="417.8" y1="849.1" x2="421.0" y2="849.1" stroke="#D9737C" stroke-width="0.7" />
<circle cx="419.4" cy="846.8" r="2.7" fill="#D9737C" />
<line x1="421.7" y1="844.3" x2="421.7" y2="848.4" stroke="#D9737C" stroke-width="0.7" />
<line x1="420.1" y1="844.3" x2="423.3" y2="844.3" stroke="#D9737C" stroke-width="0.7" />
<line x1="420.1" y1="848.4" x2="423.3" y2="848.4" stroke="#D9737C" stroke-width="0.7" />
<circle cx="421.7" cy="846.3" r="2.7" fill="#D9737C" />
<line x1="424.1" y1="842.6" x2="424.1" y2="849.6" stroke="#D9737C" stroke-width="0.7" />
<line x1="422.5" y1="842.6" x2="425.7" y2="842.6" stroke="#D9737C" stroke-width="0.7" />
<line x1="422.5" y1="849.6" x2="425.7" y2="849.6" stroke="#D9737C" stroke-width="0.7" />
<circle cx="424.1" cy="846.1" r="2.7" fill="#D9737C" />
<line x1="426.4" y1="844.4" x2="426.4" y2="850.2" stroke="#D9737C" stroke-width="0.7" />
<line x1="424.8" y1="844.4" x2="428.0" y2="844.4" stroke="#D9737C" stroke-width="0.7" />
<line x1="424.8" y1="850.2" x2="428.0" y2="850.2" stroke="#D9737C" stroke-width="0.7" />
<circle cx="426.4" cy="847.3" r="2.7" fill="#D9737C" />
<line x1="428.7" y1="841.6" x2="428.7" y2="846.4" stroke="#D9737C" stroke-width="0.7" />
<line x1="427.1" y1="841.6" x2="430.3" y2="841.6" stroke="#D9737C" stroke-width="0.7" />
<line x1="427.1" y1="846.4" x2="430.3" y2="846.4" stroke="#D9737C" stroke-width="0.7" />
<circle cx="428.7" cy="844.0" r="2.7" fill="#D9737C" />
<line x1="431.1" y1="838.8" x2="431.1" y2="843.3" stroke="#D9737C" stroke-width="0.7" />
<line x1="429.5" y1="838.8" x2="432.7" y2="838.8" stroke="#D9737C" stroke-width="0.7" />
<line x1="429.5" y1="843.3" x2="432.7" y2="843.3" stroke="#D9737C" stroke-width="0.7" />
<circle cx="431.1" cy="841.0" r="2.7" fill="#D9737C" />
<line x1="433.4" y1="842.8" x2="433.4" y2="849.3" stroke="#D9737C" stroke-width="0.7" />
<line x1="431.8" y1="842.8" x2="435.0" y2="842.8" stroke="#D9737C" stroke-width="0.7" />
<line x1="431.8" y1="849.3" x2="435.0" y2="849.3" stroke="#D9737C" stroke-width="0.7" />
<circle cx="433.4" cy="846.0" r="2.7" fill="#D9737C" />
<line x1="435.7" y1="839.9" x2="435.7" y2="846.1" stroke="#D9737C" stroke-width="0.7" />
<line x1="434.1" y1="839.9" x2="437.3" y2="839.9" stroke="#D9737C" stroke-width="0.7" />
<line x1="434.1" y1="846.1" x2="437.3" y2="846.1" stroke="#D9737C" stroke-width="0.7" />
<circle cx="435.7" cy="843.0" r="2.7" fill="#D9737C" />
<line x1="438.1" y1="846.0" x2="438.1" y2="852.0" stroke="#D9737C" stroke-width="0.7" />
<line x1="436.5" y1="846.0" x2="439.7" y2="846.0" stroke="#D9737C" stroke-width="0.7" />
<line x1="436.5" y1="852.0" x2="439.7" y2="852.0" stroke="#D9737C" stroke-width="0.7" />
<circle cx="438.1" cy="849.0" r="2.7" fill="#D9737C" />
<line x1="440.4" y1="845.1" x2="440.4" y2="851.3" stroke="#D9737C" stroke-width="0.7" />
<line x1="438.8" y1="845.1" x2="442.0" y2="845.1" stroke="#D9737C" stroke-width="0.7" />
<line x1="438.8" y1="851.3" x2="442.0" y2="851.3" stroke="#D9737C" stroke-width="0.7" />
<circle cx="440.4" cy="848.2" r="2.7" fill="#D9737C" />
<line x1="442.8" y1="843.0" x2="442.8" y2="849.0" stroke="#D9737C" stroke-width="0.7" />
<line x1="441.2" y1="843.0" x2="444.4" y2="843.0" stroke="#D9737C" stroke-width="0.7" />
<line x1="441.2" y1="849.0" x2="444.4" y2="849.0" stroke="#D9737C" stroke-width="0.7" />
<circle cx="442.8" cy="846.0" r="2.7" fill="#D9737C" />
<line x1="445.1" y1="842.8" x2="445.1" y2="848.0" stroke="#D9737C" stroke-width="0.7" />
<line x1="443.5" y1="842.8" x2="446.7" y2="842.8" stroke="#D9737C" stroke-width="0.7" />
<line x1="443.5" y1="848.0" x2="446.7" y2="848.0" stroke="#D9737C" stroke-width="0.7" />
<circle cx="445.1" cy="845.4" r="2.7" fill="#D9737C" />
<line x1="447.4" y1="846.0" x2="447.4" y2="851.9" stroke="#D9737C" stroke-width="0.7" />
<line x1="445.8" y1="846.0" x2="449.0" y2="846.0" stroke="#D9737C" stroke-width="0.7" />
<line x1="445.8" y1="851.9" x2="449.0" y2="851.9" stroke="#D9737C" stroke-width="0.7" />
<circle cx="447.4" cy="848.9" r="2.7" fill="#D9737C" />
<line x1="449.8" y1="842.1" x2="449.8" y2="848.9" stroke="#D9737C" stroke-width="0.7" />
<line x1="448.2" y1="842.1" x2="451.4" y2="842.1" stroke="#D9737C" stroke-width="0.7" />
<line x1="448.2" y1="848.9" x2="451.4" y2="848.9" stroke="#D9737C" stroke-width="0.7" />
<circle cx="449.8" cy="845.5" r="2.7" fill="#D9737C" />
<line x1="452.1" y1="845.3" x2="452.1" y2="850.9" stroke="#D9737C" stroke-width="0.7" />
<line x1="450.5" y1="845.3" x2="453.7" y2="845.3" stroke="#D9737C" stroke-width="0.7" />
<line x1="450.5" y1="850.9" x2="453.7" y2="850.9" stroke="#D9737C" stroke-width="0.7" />
<circle cx="452.1" cy="848.1" r="2.7" fill="#D9737C" />
<text x="336.6" y="860.8" font-size="6.4" text-anchor="start" fill="#222" >Stimulus</text>
<line x1="348.9" y1="865.2" x2="348.9" y2="871.5" stroke="#111" stroke-width="0.8" />
<path d="M346.7,869.6 L348.9,873.2 L351.1,869.6Z" fill="#111"/>
<circle cx="365.2" cy="822.2" r="2.8" fill="#D9737C" />
<text x="372.7" y="825.8" font-size="11.1" text-anchor="start" fill="#222" >LV-shCR3</text>
<circle cx="440.0" cy="821.0" r="2.8" fill="#8EC3EA" />
<text x="447.5" y="824.6" font-size="11.1" text-anchor="start" fill="#222" >LV-GFP</text>
<text x="501.2" y="816.8" font-size="11.5" text-anchor="start" fill="#111" font-weight="bold" >u</text>
<rect x="555.5" y="880.1" width="24.1" height="73.0" fill="#9EC6E8" stroke="#2a2a2a" stroke-width="0.9" />
<rect x="593.0" y="847.6" width="23.8" height="105.5" fill="#D9757D" stroke="#2a2a2a" stroke-width="0.9" />
<line x1="542.6" y1="821.6" x2="542.6" y2="953.5" stroke="#333" stroke-width="1.0" />
<line x1="542.2" y1="953.1" x2="630.6" y2="953.1" stroke="#333" stroke-width="1.0" />
<line x1="537.6" y1="953.1" x2="542.6" y2="953.1" stroke="#333" stroke-width="1.0" />
<text x="535.7" y="957.0" font-size="10.8" text-anchor="end" fill="#1a1a1a" >0.0</text>
<line x1="537.6" y1="920.3" x2="542.6" y2="920.3" stroke="#333" stroke-width="1.0" />
<text x="535.7" y="924.2" font-size="10.8" text-anchor="end" fill="#1a1a1a" >0.5</text>
<line x1="537.6" y1="887.5" x2="542.6" y2="887.5" stroke="#333" stroke-width="1.0" />
<text x="535.7" y="891.4" font-size="10.8" text-anchor="end" fill="#1a1a1a" >1.0</text>
<line x1="537.6" y1="854.8" x2="542.6" y2="854.8" stroke="#333" stroke-width="1.0" />
<text x="535.7" y="858.7" font-size="10.8" text-anchor="end" fill="#1a1a1a" >1.5</text>
<line x1="537.6" y1="822.0" x2="542.6" y2="822.0" stroke="#333" stroke-width="1.0" />
<text x="535.7" y="825.9" font-size="10.8" text-anchor="end" fill="#1a1a1a" >2.0</text>
<line x1="567.5" y1="953.1" x2="567.5" y2="958.4" stroke="#333" stroke-width="1.0" />
<line x1="567.5" y1="879.1" x2="567.5" y2="881.0" stroke="#2E6CA4" stroke-width="0.7" />
<line x1="565.0" y1="879.1" x2="570.0" y2="879.1" stroke="#2E6CA4" stroke-width="0.7" />
<line x1="565.0" y1="881.0" x2="570.0" y2="881.0" stroke="#2E6CA4" stroke-width="0.7" />
<circle cx="556.8" cy="880.5" r="2.1" fill="#2E6CA4" />
<circle cx="562.1" cy="877.0" r="2.1" fill="#2E6CA4" />
<circle cx="567.4" cy="880.1" r="2.1" fill="#2E6CA4" />
<circle cx="572.7" cy="878.9" r="2.1" fill="#2E6CA4" />
<circle cx="577.9" cy="876.7" r="2.1" fill="#2E6CA4" />
<circle cx="577.9" cy="882.7" r="2.1" fill="#2E6CA4" />
<line x1="604.9" y1="953.1" x2="604.9" y2="958.4" stroke="#333" stroke-width="1.0" />
<line x1="604.9" y1="846.7" x2="604.9" y2="848.4" stroke="#E8486B" stroke-width="0.7" />
<line x1="602.4" y1="846.7" x2="607.4" y2="846.7" stroke="#E8486B" stroke-width="0.7" />
<line x1="602.4" y1="848.4" x2="607.4" y2="848.4" stroke="#E8486B" stroke-width="0.7" />
<circle cx="594.4" cy="845.2" r="2.1" fill="#E8486B" />
<circle cx="594.7" cy="849.3" r="2.1" fill="#E8486B" />
<circle cx="601.6" cy="847.1" r="2.1" fill="#E8486B" />
<circle cx="608.6" cy="844.4" r="2.1" fill="#E8486B" />
<circle cx="609.2" cy="849.0" r="2.1" fill="#E8486B" />
<circle cx="615.2" cy="848.2" r="2.1" fill="#E8486B" />
<line x1="566.9" y1="828.5" x2="605.2" y2="828.5" stroke="#444" stroke-width="0.9" />
<text x="586.0" y="827.9" font-size="15" text-anchor="middle" fill="#222" >****</text>
<text x="572.2" y="973.2" font-size="10.8" text-anchor="middle" fill="#1a1a1a" >LV-GFP</text>
<text x="620.4" y="973.2" font-size="10.8" text-anchor="middle" fill="#1a1a1a" >LV-shCR3</text>
<text x="514.4" y="888.9" font-size="11" text-anchor="middle" fill="#1a1a1a" transform="rotate(-90 514.4 888.9)" >fEPSP (normalized)</text>
<path d="M639.1,817.1 C640.6,817.1 645.6,817.2 648.4,817.3 C651.2,817.5 654.1,817.1 655.8,818.1 C657.5,819.0 657.7,820.4 658.6,822.9 C659.4,825.5 660.2,830.4 661.0,833.5 C661.9,836.6 662.7,841.3 663.5,841.5 C664.3,841.7 665.0,837.3 665.8,834.7 C666.5,832.1 667.4,829.0 668.2,826.0 C669.1,823.0 670.0,819.7 671.0,816.7 C671.9,813.7 672.8,810.3 673.8,808.0 C674.8,805.8 676.0,803.4 676.9,803.1 C677.9,802.8 678.6,804.8 679.4,806.2 C680.2,807.5 680.9,809.7 681.9,811.1 C682.9,812.5 685.0,814.0 685.6,814.6" fill="none" stroke="#E2606C" stroke-width="0.6"/>
<path d="M639.1,817.1 C640.4,817.1 644.6,817.1 647.1,817.2 C649.7,817.3 652.7,817.1 654.6,817.7 C656.5,818.3 657.2,819.3 658.3,821.1 C659.4,822.9 660.1,826.2 661.0,828.5 C662.0,830.8 663.0,834.3 663.9,834.7 C664.8,835.1 665.4,832.8 666.4,831.0 C667.3,829.1 668.4,826.1 669.5,823.5 C670.5,821.0 671.7,817.4 672.6,815.5 C673.5,813.5 674.3,812.5 675.1,811.7 C675.8,811.0 676.4,810.8 677.2,811.1 C677.9,811.4 678.6,812.6 679.4,813.6 C680.2,814.6 680.9,816.3 681.9,817.3 C682.9,818.4 685.0,819.6 685.6,820.1" fill="none" stroke="#8EC3EA" stroke-width="0.6"/>
<line x1="665.8" y1="851.1" x2="665.8" y2="873.9" stroke="#111" stroke-width="1.2" />
<line x1="665.2" y1="873.4" x2="674.8" y2="873.4" stroke="#111" stroke-width="1.2" />
<text x="635.6" y="867.7" font-size="8.9" text-anchor="start" fill="#111" font-weight="bold" >120uV</text>
<text x="667.0" y="884.7" font-size="9" text-anchor="start" fill="#111" font-weight="bold" >3ms</text>
</svg>
</body></html>
